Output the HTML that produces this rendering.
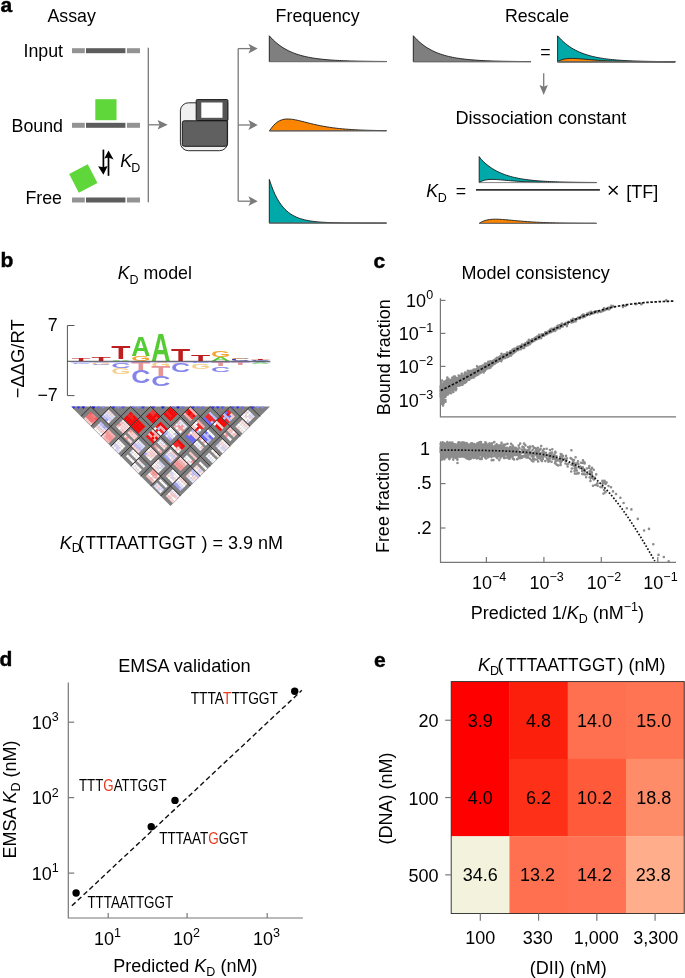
<!DOCTYPE html>
<html><head><meta charset="utf-8"><style>
html,body{margin:0;padding:0;background:#fff;width:685px;height:978px;overflow:hidden;}
svg{display:block;will-change:transform;}
text{font-family:"Liberation Sans",sans-serif;}
</style></head><body>
<svg width="685" height="978" viewBox="0 0 685 978">
<rect width="685" height="978" fill="#fff"/>
<text x="0.6" y="11.8" font-size="21" font-weight="bold" stroke="#000" stroke-width="0.45">a</text>
<text x="47.4" y="21.6" font-size="17.8" text-anchor="start" >Assay</text>
<text x="63" y="57.3" font-size="17.8" text-anchor="end" >Input</text>
<text x="63" y="132" font-size="17.8" text-anchor="end" >Bound</text>
<text x="62" y="204" font-size="17.8" text-anchor="end" >Free</text>
<rect x="72" y="48.2" width="12.8" height="5" fill="#939393"/>
<rect x="86" y="48.2" width="39.4" height="5" fill="#5c5c5c"/>
<rect x="126.9" y="48.2" width="13.1" height="5" fill="#939393"/>
<rect x="72" y="122.8" width="12.8" height="5" fill="#939393"/>
<rect x="86" y="122.8" width="39.4" height="5" fill="#5c5c5c"/>
<rect x="126.9" y="122.8" width="13.1" height="5" fill="#939393"/>
<rect x="72" y="197.5" width="12.8" height="5" fill="#939393"/>
<rect x="86" y="197.5" width="39.4" height="5" fill="#5c5c5c"/>
<rect x="126.9" y="197.5" width="13.1" height="5" fill="#939393"/>
<rect x="95.3" y="99.2" width="21.2" height="21" fill="#5fd63a"/>
<rect x="-10.5" y="-10.5" width="21" height="21" fill="#5fd63a" transform="translate(83.3,178.5) rotate(-27.5)"/>
<line x1="103.4" y1="149.6" x2="103.4" y2="168" stroke="#000" stroke-width="1.7"/>
<polygon points="98.1,166.2 103.4,167.3 107.7,166 103.4,174.8" fill="#000"/>
<line x1="108.5" y1="157" x2="108.5" y2="175.8" stroke="#000" stroke-width="1.7"/>
<polygon points="104.3,158.5 108.5,157.6 113.6,159.6 108.5,150.4" fill="#000"/>
<text x="120.3" y="166.7" font-size="17.8" font-style="italic">K</text>
<text x="131.2" y="171.8" font-size="12.5">D</text>
<line x1="148.3" y1="47.8" x2="148.3" y2="202.3" stroke="#7a7a7a" stroke-width="1.3"/>
<line x1="148.3" y1="124.8" x2="160" y2="124.8" stroke="#7a7a7a" stroke-width="1.3"/>
<polygon points="157.6,120 167.7,124.8 157.6,129.6 159.6,124.8" fill="#7a7a7a"/>
<path d="M188.5,102.8 H227.6 V142.7 A8,8 0 0 1 219.6,150.7 H188.4 A8,8 0 0 1 180.4,142.7 V110.8 A8,8 0 0 1 188.4,102.8 Z" fill="#f0f0f0" stroke="#2a2a2a" stroke-width="1"/>
<rect x="182.3" y="120.8" width="45" height="25.5" rx="2" fill="#606060" stroke="#1a1a1a" stroke-width="1"/>
<rect x="196.2" y="99.6" width="31.7" height="20.9" rx="1" fill="#555" stroke="#1a1a1a" stroke-width="1"/>
<rect x="201.3" y="102.5" width="21.2" height="15.3" fill="#fff"/>
<line x1="238.2" y1="48.6" x2="238.2" y2="201.2" stroke="#7a7a7a" stroke-width="1.3"/>
<line x1="238.2" y1="48.6" x2="251" y2="48.6" stroke="#7a7a7a" stroke-width="1.3"/>
<polygon points="248.4,43.7 257.7,48.6 248.4,53.5 250.6,48.6" fill="#7a7a7a"/>
<line x1="238.2" y1="125" x2="251" y2="125" stroke="#7a7a7a" stroke-width="1.3"/>
<polygon points="248.4,120.1 257.7,125 248.4,129.9 250.6,125" fill="#7a7a7a"/>
<line x1="238.2" y1="201.2" x2="251" y2="201.2" stroke="#7a7a7a" stroke-width="1.3"/>
<polygon points="248.4,196.29999999999998 257.7,201.2 248.4,206.1 250.6,201.2" fill="#7a7a7a"/>
<text x="275.6" y="22.2" font-size="17.8" text-anchor="start" >Frequency</text>
<path d="M269.3,61.6 L269.3,35.8 L271.25,37.98 L273.21,39.98 L275.16,41.81 L277.11,43.48 L279.07,45.01 L281.02,46.41 L282.97,47.70 L284.93,48.87 L286.88,49.95 L288.83,50.93 L290.79,51.84 L292.74,52.66 L294.69,53.42 L296.65,54.11 L298.60,54.74 L300.55,55.32 L302.51,55.85 L304.46,56.34 L306.41,56.78 L308.37,57.19 L310.32,57.56 L312.27,57.90 L314.23,58.22 L316.18,58.50 L318.13,58.77 L320.09,59.00 L322.04,59.22 L323.99,59.42 L325.95,59.61 L327.90,59.78 L329.85,59.93 L331.81,60.07 L333.76,60.20 L335.71,60.32 L337.67,60.43 L339.62,60.53 L341.57,60.62 L343.53,60.70 L345.48,60.78 L347.43,60.85 L349.39,60.91 L351.34,60.97 L353.29,61.02 L355.25,61.07 L357.20,61.12 L359.15,61.16 L361.11,61.19 L363.06,61.23 L365.01,61.26 L366.97,61.29 L368.92,61.31 L370.87,61.34 L372.83,61.36 L374.78,61.38 L376.73,61.40 L378.69,61.42 L380.64,61.43 L382.59,61.45 L384.55,61.46 L386.50,61.47 L386.5,61.6 Z" fill="#7f7f7f" stroke="#1a1a1a" stroke-width="0.9"/>
<line x1="269.3" y1="61.6" x2="386.5" y2="61.6" stroke="#777" stroke-width="1"/>
<path d="M269.40,130.90 L270.86,128.88 L272.33,126.92 L273.79,125.21 L275.25,123.75 L276.72,122.52 L278.18,121.52 L279.65,120.72 L281.11,120.10 L282.57,119.64 L284.04,119.31 L285.50,119.11 L286.96,119.01 L288.43,119.01 L289.89,119.08 L291.36,119.22 L292.82,119.41 L294.28,119.65 L295.75,119.92 L297.21,120.23 L298.67,120.55 L300.14,120.90 L301.60,121.26 L303.07,121.62 L304.53,121.99 L305.99,122.36 L307.46,122.74 L308.92,123.10 L310.38,123.47 L311.85,123.82 L313.31,124.17 L314.78,124.51 L316.24,124.83 L317.70,125.15 L319.17,125.46 L320.63,125.75 L322.09,126.04 L323.56,126.31 L325.02,126.57 L326.49,126.82 L327.95,127.05 L329.41,127.28 L330.88,127.49 L332.34,127.70 L333.81,127.89 L335.27,128.07 L336.73,128.25 L338.20,128.41 L339.66,128.57 L341.12,128.71 L342.59,128.85 L344.05,128.98 L345.51,129.10 L346.98,129.22 L348.44,129.33 L349.91,129.43 L351.37,129.53 L352.83,129.62 L354.30,129.70 L355.76,129.78 L357.23,129.86 L358.69,129.93 L360.15,129.99 L361.62,130.05 L363.08,130.11 L364.54,130.16 L366.01,130.22 L367.47,130.26 L368.94,130.31 L370.40,130.35 L371.86,130.39 L373.33,130.42 L374.79,130.45 L376.25,130.49 L377.72,130.51 L379.18,130.54 L380.64,130.57 L382.11,130.59 L383.57,130.61 L385.04,130.63 L386.50,130.65 Z" fill="#fb8500" stroke="#1a1a1a" stroke-width="0.9"/>
<line x1="269.4" y1="130.9" x2="386.5" y2="130.9" stroke="#777" stroke-width="1"/>
<path d="M269.3,223.1 L269.3,179.4 L271.25,185.24 L273.21,190.29 L275.16,194.67 L277.11,198.47 L279.07,201.76 L281.02,204.61 L282.97,207.08 L284.93,209.22 L286.88,211.07 L288.83,212.68 L290.79,214.07 L292.74,215.27 L294.69,216.32 L296.65,217.23 L298.60,218.01 L300.55,218.69 L302.51,219.28 L304.46,219.79 L306.41,220.23 L308.37,220.61 L310.32,220.95 L312.27,221.23 L314.23,221.48 L316.18,221.70 L318.13,221.89 L320.09,222.05 L322.04,222.19 L323.99,222.31 L325.95,222.42 L327.90,222.51 L329.85,222.59 L331.81,222.65 L333.76,222.71 L335.71,222.77 L337.67,222.81 L339.62,222.85 L341.57,222.88 L343.53,222.91 L345.48,222.94 L347.43,222.96 L349.39,222.98 L351.34,222.99 L353.29,223.01 L355.25,223.02 L357.20,223.03 L359.15,223.04 L361.11,223.05 L363.06,223.06 L365.01,223.06 L366.97,223.07 L368.92,223.07 L370.87,223.07 L372.83,223.08 L374.78,223.08 L376.73,223.08 L378.69,223.09 L380.64,223.09 L382.59,223.09 L384.55,223.09 L386.50,223.09 L386.5,223.1 Z" fill="#00a9a9" stroke="#1a1a1a" stroke-width="0.9"/>
<line x1="269.3" y1="223.1" x2="386.5" y2="223.1" stroke="#777" stroke-width="1"/>
<text x="504.9" y="22.2" font-size="17.8" text-anchor="start" >Rescale</text>
<path d="M413.3,61.7 L413.3,35.7 L415.26,37.90 L417.22,39.91 L419.18,41.75 L421.13,43.44 L423.09,44.98 L425.05,46.40 L427.01,47.69 L428.97,48.87 L430.93,49.96 L432.88,50.95 L434.84,51.86 L436.80,52.69 L438.76,53.45 L440.72,54.15 L442.68,54.79 L444.63,55.37 L446.59,55.91 L448.55,56.40 L450.51,56.85 L452.47,57.26 L454.43,57.63 L456.38,57.98 L458.34,58.29 L460.30,58.58 L462.26,58.84 L464.22,59.08 L466.18,59.31 L468.13,59.51 L470.09,59.69 L472.05,59.86 L474.01,60.02 L475.97,60.16 L477.92,60.29 L479.88,60.41 L481.84,60.52 L483.80,60.62 L485.76,60.71 L487.72,60.79 L489.67,60.87 L491.63,60.94 L493.59,61.00 L495.55,61.06 L497.51,61.12 L499.47,61.17 L501.42,61.21 L503.38,61.25 L505.34,61.29 L507.30,61.33 L509.26,61.36 L511.22,61.39 L513.17,61.41 L515.13,61.44 L517.09,61.46 L519.05,61.48 L521.01,61.50 L522.97,61.52 L524.92,61.53 L526.88,61.55 L528.84,61.56 L530.80,61.57 L530.8,61.7 Z" fill="#7f7f7f" stroke="#1a1a1a" stroke-width="0.9"/>
<line x1="413.3" y1="61.7" x2="530.8" y2="61.7" stroke="#777" stroke-width="1"/>
<text x="540.2" y="57.5" font-size="17.8">=</text>
<path d="M557.6,61.8 L557.6,35.8 L559.56,38.00 L561.52,40.01 L563.48,41.85 L565.44,43.54 L567.40,45.08 L569.36,46.50 L571.32,47.79 L573.28,48.97 L575.24,50.06 L577.20,51.05 L579.16,51.96 L581.12,52.79 L583.08,53.55 L585.04,54.25 L587.00,54.89 L588.96,55.47 L590.92,56.01 L592.88,56.50 L594.84,56.95 L596.80,57.36 L598.76,57.73 L600.72,58.08 L602.68,58.39 L604.64,58.68 L606.60,58.94 L608.56,59.18 L610.52,59.41 L612.48,59.61 L614.44,59.79 L616.40,59.96 L618.36,60.12 L620.32,60.26 L622.28,60.39 L624.24,60.51 L626.20,60.62 L628.16,60.72 L630.12,60.81 L632.08,60.89 L634.04,60.97 L636.00,61.04 L637.96,61.10 L639.92,61.16 L641.88,61.22 L643.84,61.27 L645.80,61.31 L647.76,61.35 L649.72,61.39 L651.68,61.43 L653.64,61.46 L655.60,61.49 L657.56,61.51 L659.52,61.54 L661.48,61.56 L663.44,61.58 L665.40,61.60 L667.36,61.62 L669.32,61.63 L671.28,61.65 L673.24,61.66 L675.20,61.67 L675.2,61.8 Z" fill="#00a9a9" stroke="#1a1a1a" stroke-width="0.9"/>
<line x1="557.6" y1="61.8" x2="675.2" y2="61.8" stroke="#777" stroke-width="1"/>
<path d="M557.60,61.80 L559.07,60.93 L560.54,60.24 L562.01,59.69 L563.48,59.26 L564.95,58.94 L566.42,58.71 L567.89,58.55 L569.36,58.45 L570.83,58.41 L572.30,58.40 L573.77,58.43 L575.24,58.49 L576.71,58.57 L578.18,58.66 L579.65,58.77 L581.12,58.89 L582.59,59.01 L584.06,59.14 L585.53,59.27 L587.00,59.40 L588.47,59.53 L589.94,59.66 L591.41,59.78 L592.88,59.90 L594.35,60.02 L595.82,60.13 L597.29,60.24 L598.76,60.34 L600.23,60.44 L601.70,60.53 L603.17,60.62 L604.64,60.70 L606.11,60.78 L607.58,60.85 L609.05,60.92 L610.52,60.98 L611.99,61.05 L613.46,61.10 L614.93,61.15 L616.40,61.20 L617.87,61.25 L619.34,61.29 L620.81,61.33 L622.28,61.37 L623.75,61.40 L625.22,61.43 L626.69,61.46 L628.16,61.49 L629.63,61.51 L631.10,61.54 L632.57,61.56 L634.04,61.58 L635.51,61.60 L636.98,61.61 L638.45,61.63 L639.92,61.64 L641.39,61.66 L642.86,61.67 L644.33,61.68 L645.80,61.69 L647.27,61.70 L648.74,61.71 L650.21,61.71 L651.68,61.72 L653.15,61.73 L654.62,61.73 L656.09,61.74 L657.56,61.75 L659.03,61.75 L660.50,61.75 L661.97,61.76 L663.44,61.76 L664.91,61.76 L666.38,61.77 L667.85,61.77 L669.32,61.77 L670.79,61.78 L672.26,61.78 L673.73,61.78 L675.20,61.78 Z" fill="#fb8500" stroke="#1a1a1a" stroke-width="0.9"/>
<line x1="557.6" y1="61.8" x2="675.2" y2="61.8" stroke="#777" stroke-width="1"/>
<line x1="543.7" y1="73.3" x2="543.7" y2="88" stroke="#7a7a7a" stroke-width="1.3"/>
<polygon points="539.5,85 543.7,86.8 547.9,85 543.7,95" fill="#7a7a7a"/>
<text x="455.4" y="124.1" font-size="18.1" text-anchor="start" >Dissociation constant</text>
<text x="426.3" y="196.7" font-size="17.8" font-style="italic">K</text>
<text x="437.8" y="202.1" font-size="12.5">D</text>
<text x="455.8" y="196.7" font-size="17.8">=</text>
<path d="M479.20,182.60 L479.20,156.60 L481.15,159.35 L483.11,161.31 L485.06,163.11 L487.01,164.76 L488.97,166.27 L490.92,167.65 L492.87,168.91 L494.83,170.07 L496.78,171.13 L498.73,172.10 L500.69,172.99 L502.64,173.80 L504.59,174.54 L506.55,175.23 L508.50,175.85 L510.45,176.42 L512.41,176.94 L514.36,177.42 L516.31,177.86 L518.27,178.26 L520.22,178.63 L522.17,178.96 L524.13,179.27 L526.08,179.55 L528.03,179.81 L529.99,180.04 L531.94,180.26 L533.89,180.46 L535.85,180.64 L537.80,180.81 L539.75,180.96 L541.71,181.10 L543.66,181.22 L545.61,181.34 L547.57,181.45 L549.52,181.54 L551.47,181.63 L553.43,181.71 L555.38,181.79 L557.33,181.86 L559.29,181.92 L561.24,181.98 L563.19,182.03 L565.15,182.08 L567.10,182.12 L569.05,182.16 L571.01,182.20 L572.96,182.23 L574.91,182.26 L576.87,182.29 L578.82,182.32 L580.77,182.34 L582.73,182.36 L584.68,182.38 L586.63,182.40 L588.59,182.42 L590.54,182.43 L592.49,182.45 L594.45,182.46 L596.40,182.47 L596.40,182.59 L594.45,182.59 L592.49,182.59 L590.54,182.59 L588.59,182.58 L586.63,182.58 L584.68,182.58 L582.73,182.58 L580.77,182.57 L578.82,182.57 L576.87,182.57 L574.91,182.56 L572.96,182.56 L571.01,182.55 L569.05,182.54 L567.10,182.54 L565.15,182.53 L563.19,182.52 L561.24,182.50 L559.29,182.49 L557.33,182.48 L555.38,182.46 L553.43,182.44 L551.47,182.42 L549.52,182.40 L547.57,182.37 L545.61,182.34 L543.66,182.31 L541.71,182.27 L539.75,182.23 L537.80,182.18 L535.85,182.13 L533.89,182.07 L531.94,182.00 L529.99,181.93 L528.03,181.85 L526.08,181.77 L524.13,181.67 L522.17,181.57 L520.22,181.45 L518.27,181.33 L516.31,181.19 L514.36,181.05 L512.41,180.90 L510.45,180.73 L508.50,180.56 L506.55,180.39 L504.59,180.21 L502.64,180.03 L500.69,179.86 L498.73,179.70 L496.78,179.57 L494.83,179.46 L492.87,179.41 L490.92,179.41 L488.97,179.51 L487.01,179.72 L485.06,180.09 L483.11,180.65 L481.15,181.47 L479.20,182.60 Z" fill="#00a9a9" stroke="#1a1a1a" stroke-width="0.9"/>
<line x1="479.2" y1="182.6" x2="596.4" y2="182.6" stroke="#777" stroke-width="0.9"/>
<line x1="476" y1="189.8" x2="599.9" y2="189.8" stroke="#333" stroke-width="1.8"/>
<path d="M479.20,223.40 L480.66,222.47 L482.13,221.69 L483.59,221.06 L485.06,220.55 L486.52,220.14 L487.99,219.82 L489.45,219.58 L490.92,219.41 L492.38,219.29 L493.85,219.23 L495.31,219.20 L496.78,219.21 L498.25,219.25 L499.71,219.31 L501.18,219.39 L502.64,219.49 L504.10,219.60 L505.57,219.72 L507.03,219.85 L508.50,219.98 L509.96,220.12 L511.43,220.25 L512.89,220.39 L514.36,220.53 L515.83,220.67 L517.29,220.80 L518.75,220.93 L520.22,221.06 L521.68,221.18 L523.15,221.30 L524.62,221.42 L526.08,221.53 L527.54,221.63 L529.01,221.74 L530.48,221.83 L531.94,221.93 L533.40,222.01 L534.87,222.10 L536.34,222.18 L537.80,222.25 L539.26,222.33 L540.73,222.39 L542.19,222.46 L543.66,222.52 L545.12,222.57 L546.59,222.63 L548.05,222.68 L549.52,222.73 L550.99,222.77 L552.45,222.81 L553.91,222.85 L555.38,222.89 L556.85,222.92 L558.31,222.96 L559.77,222.99 L561.24,223.02 L562.70,223.04 L564.17,223.07 L565.63,223.09 L567.10,223.11 L568.56,223.13 L570.03,223.15 L571.50,223.17 L572.96,223.18 L574.42,223.20 L575.89,223.21 L577.36,223.23 L578.82,223.24 L580.28,223.25 L581.75,223.26 L583.21,223.27 L584.68,223.28 L586.14,223.29 L587.61,223.30 L589.07,223.31 L590.54,223.31 L592.00,223.32 L593.47,223.32 L594.93,223.33 L596.40,223.34 Z" fill="#fb8500" stroke="#1a1a1a" stroke-width="0.9"/>
<line x1="479.2" y1="223.4" x2="596.4" y2="223.4" stroke="#777" stroke-width="1"/>
<path d="M608.8,186 L617.6,194.6 M617.6,186 L608.8,194.6" stroke="#000" stroke-width="1.45" fill="none"/>
<text x="626.3" y="197.6" font-size="18" text-anchor="start" >[TF]</text>
<text x="0.4" y="267.2" font-size="21" font-weight="bold" stroke="#000" stroke-width="0.45">b</text>
<text x="117.7" y="278.8" font-size="17.8"><tspan font-style="italic">K</tspan><tspan font-size="12.5" dy="5.3">D</tspan><tspan dy="-5.3"> model</tspan></text>
<text transform="translate(24,358.8) rotate(-90)" font-size="18.4" text-anchor="middle">−ΔΔG/RT</text>
<text x="57.7" y="330.7" font-size="17.8" text-anchor="end" >7</text>
<text x="57.7" y="401" font-size="17.8" text-anchor="end" >−7</text>
<path d="M74.5,325.5 H67.4 V395.6 H74.5" fill="none" stroke="#555" stroke-width="1"/>
<text x="0" y="0" font-size="100" font-weight="bold" fill="#5a5ad0" textLength="19.20" lengthAdjust="spacingAndGlyphs" transform="translate(71.50,360.80) scale(1,0.0044)" style="font-size:100px">C</text>
<text x="0" y="0" font-size="100" font-weight="bold" fill="#bf1e1e" textLength="19.20" lengthAdjust="spacingAndGlyphs" transform="translate(71.50,360.50) scale(1,0.0363)" style="font-size:100px">T</text>
<text x="0" y="0" font-size="100" font-weight="bold" fill="#8484ea" textLength="19.20" lengthAdjust="spacingAndGlyphs" transform="translate(71.50,363.60) scale(1,0.0218)" style="font-size:100px">C</text>
<text x="0" y="0" font-size="100" font-weight="bold" fill="#bf1e1e" textLength="19.20" lengthAdjust="spacingAndGlyphs" transform="translate(91.42,360.80) scale(1,0.0480)" style="font-size:100px">T</text>
<text x="0" y="0" font-size="100" font-weight="bold" fill="#f8d08e" textLength="19.20" lengthAdjust="spacingAndGlyphs" transform="translate(91.42,364.60) scale(1,0.0363)" style="font-size:100px">G</text>
<text x="0" y="0" font-size="100" font-weight="bold" fill="#8484ea" textLength="19.20" lengthAdjust="spacingAndGlyphs" transform="translate(91.42,365.40) scale(1,0.0116)" style="font-size:100px">C</text>
<text x="0" y="0" font-size="100" font-weight="bold" fill="#55cc33" textLength="19.20" lengthAdjust="spacingAndGlyphs" transform="translate(111.34,360.80) scale(1,0.0233)" style="font-size:100px">A</text>
<text x="0" y="0" font-size="100" font-weight="bold" fill="#bf1e1e" textLength="19.20" lengthAdjust="spacingAndGlyphs" transform="translate(111.34,359.20) scale(1,0.1860)" style="font-size:100px">T</text>
<text x="0" y="0" font-size="100" font-weight="bold" fill="#8484ea" textLength="19.20" lengthAdjust="spacingAndGlyphs" transform="translate(111.34,367.50) scale(1,0.0785)" style="font-size:100px">C</text>
<text x="0" y="0" font-size="100" font-weight="bold" fill="#f8d08e" textLength="19.20" lengthAdjust="spacingAndGlyphs" transform="translate(111.34,373.90) scale(1,0.0930)" style="font-size:100px">G</text>
<text x="0" y="0" font-size="100" font-weight="bold" fill="#f2a531" textLength="19.20" lengthAdjust="spacingAndGlyphs" transform="translate(131.26,360.80) scale(1,0.0654)" style="font-size:100px">G</text>
<text x="0" y="0" font-size="100" font-weight="bold" fill="#55cc33" textLength="19.20" lengthAdjust="spacingAndGlyphs" transform="translate(131.26,356.30) scale(1,0.2747)" style="font-size:100px">A</text>
<text x="0" y="0" font-size="100" font-weight="bold" fill="#e59595" textLength="19.20" lengthAdjust="spacingAndGlyphs" transform="translate(131.26,370.90) scale(1,0.1279)" style="font-size:100px">T</text>
<text x="0" y="0" font-size="100" font-weight="bold" fill="#8484ea" textLength="19.20" lengthAdjust="spacingAndGlyphs" transform="translate(131.26,382.90) scale(1,0.1744)" style="font-size:100px">C</text>
<text x="0" y="0" font-size="100" font-weight="bold" fill="#55cc33" textLength="19.20" lengthAdjust="spacingAndGlyphs" transform="translate(151.18,360.80) scale(1,0.3852)" style="font-size:100px">A</text>
<text x="0" y="0" font-size="100" font-weight="bold" fill="#f8d08e" textLength="19.20" lengthAdjust="spacingAndGlyphs" transform="translate(151.18,366.70) scale(1,0.0669)" style="font-size:100px">G</text>
<text x="0" y="0" font-size="100" font-weight="bold" fill="#e59595" textLength="19.20" lengthAdjust="spacingAndGlyphs" transform="translate(151.18,376.30) scale(1,0.1395)" style="font-size:100px">T</text>
<text x="0" y="0" font-size="100" font-weight="bold" fill="#8484ea" textLength="19.20" lengthAdjust="spacingAndGlyphs" transform="translate(151.18,385.90) scale(1,0.1395)" style="font-size:100px">C</text>
<text x="0" y="0" font-size="100" font-weight="bold" fill="#bf1e1e" textLength="19.20" lengthAdjust="spacingAndGlyphs" transform="translate(171.10,360.80) scale(1,0.1642)" style="font-size:100px">T</text>
<text x="0" y="0" font-size="100" font-weight="bold" fill="#f8d08e" textLength="19.20" lengthAdjust="spacingAndGlyphs" transform="translate(171.10,363.60) scale(1,0.0218)" style="font-size:100px">G</text>
<text x="0" y="0" font-size="100" font-weight="bold" fill="#8484ea" textLength="19.20" lengthAdjust="spacingAndGlyphs" transform="translate(171.10,372.40) scale(1,0.1279)" style="font-size:100px">C</text>
<text x="0" y="0" font-size="100" font-weight="bold" fill="#bf1e1e" textLength="19.20" lengthAdjust="spacingAndGlyphs" transform="translate(191.02,360.80) scale(1,0.0988)" style="font-size:100px">T</text>
<text x="0" y="0" font-size="100" font-weight="bold" fill="#8484ea" textLength="19.20" lengthAdjust="spacingAndGlyphs" transform="translate(191.02,363.30) scale(1,0.0174)" style="font-size:100px">C</text>
<text x="0" y="0" font-size="100" font-weight="bold" fill="#9be08a" textLength="19.20" lengthAdjust="spacingAndGlyphs" transform="translate(191.02,364.50) scale(1,0.0174)" style="font-size:100px">A</text>
<text x="0" y="0" font-size="100" font-weight="bold" fill="#f8d08e" textLength="19.20" lengthAdjust="spacingAndGlyphs" transform="translate(191.02,369.30) scale(1,0.0698)" style="font-size:100px">G</text>
<text x="0" y="0" font-size="100" font-weight="bold" fill="#55cc33" textLength="19.20" lengthAdjust="spacingAndGlyphs" transform="translate(210.94,360.80) scale(1,0.0494)" style="font-size:100px">A</text>
<text x="0" y="0" font-size="100" font-weight="bold" fill="#f2a531" textLength="19.20" lengthAdjust="spacingAndGlyphs" transform="translate(210.94,357.40) scale(1,0.0959)" style="font-size:100px">G</text>
<text x="0" y="0" font-size="100" font-weight="bold" fill="#e59595" textLength="19.20" lengthAdjust="spacingAndGlyphs" transform="translate(210.94,365.90) scale(1,0.0552)" style="font-size:100px">T</text>
<text x="0" y="0" font-size="100" font-weight="bold" fill="#8484ea" textLength="19.20" lengthAdjust="spacingAndGlyphs" transform="translate(210.94,371.50) scale(1,0.0814)" style="font-size:100px">C</text>
<text x="0" y="0" font-size="100" font-weight="bold" fill="#3a3aa8" textLength="19.20" lengthAdjust="spacingAndGlyphs" transform="translate(230.86,360.80) scale(1,0.0262)" style="font-size:100px">C</text>
<text x="0" y="0" font-size="100" font-weight="bold" fill="#f2a531" textLength="19.20" lengthAdjust="spacingAndGlyphs" transform="translate(230.86,359.00) scale(1,0.0174)" style="font-size:100px">G</text>
<text x="0" y="0" font-size="100" font-weight="bold" fill="#e59595" textLength="19.20" lengthAdjust="spacingAndGlyphs" transform="translate(230.86,364.50) scale(1,0.0349)" style="font-size:100px">T</text>
<text x="0" y="0" font-size="100" font-weight="bold" fill="#3a3aa8" textLength="19.20" lengthAdjust="spacingAndGlyphs" transform="translate(250.78,360.80) scale(1,0.0131)" style="font-size:100px">C</text>
<text x="0" y="0" font-size="100" font-weight="bold" fill="#bf1e1e" textLength="19.20" lengthAdjust="spacingAndGlyphs" transform="translate(250.78,359.90) scale(1,0.0233)" style="font-size:100px">T</text>
<text x="0" y="0" font-size="100" font-weight="bold" fill="#9be08a" textLength="19.20" lengthAdjust="spacingAndGlyphs" transform="translate(250.78,363.90) scale(1,0.0262)" style="font-size:100px">A</text>
<line x1="67.4" y1="361.3" x2="270.3" y2="361.3" stroke="#333" stroke-width="0.9"/>
<line x1="71" y1="362.2" x2="270.3" y2="362.2" stroke="#6a6ad8" stroke-width="0.7" opacity="0.7"/>
<polygon points="71.0,406.5 270.0,406.5 170.5,506.0" fill="#808080"/>
<g transform="translate(90.90,418.75) rotate(45)">
<rect x="-4.96" y="-4.96" width="2.53" height="2.53" fill="#ff5a5a"/>
<rect x="-4.96" y="-2.48" width="2.53" height="2.53" fill="#ff7070"/>
<rect x="-4.96" y="0.00" width="2.53" height="2.53" fill="#ff7070"/>
<rect x="-4.96" y="2.48" width="2.53" height="2.53" fill="#ffd0d0"/>
<rect x="-2.48" y="-4.96" width="2.53" height="2.53" fill="#ff8080"/>
<rect x="-2.48" y="-2.48" width="2.53" height="2.53" fill="#ff7070"/>
<rect x="-2.48" y="0.00" width="2.53" height="2.53" fill="#ff7070"/>
<rect x="-2.48" y="2.48" width="2.53" height="2.53" fill="#ffd0d0"/>
<rect x="0.00" y="-4.96" width="2.53" height="2.53" fill="#ff8080"/>
<rect x="0.00" y="-2.48" width="2.53" height="2.53" fill="#ff7070"/>
<rect x="0.00" y="0.00" width="2.53" height="2.53" fill="#ff7070"/>
<rect x="0.00" y="2.48" width="2.53" height="2.53" fill="#ffd0d0"/>
<rect x="2.48" y="-4.96" width="2.53" height="2.53" fill="#ff5a5a"/>
<rect x="2.48" y="-2.48" width="2.53" height="2.53" fill="#ff7070"/>
<rect x="2.48" y="0.00" width="2.53" height="2.53" fill="#ff8080"/>
<rect x="2.48" y="2.48" width="2.53" height="2.53" fill="#ffd0d0"/>
</g>
<g transform="translate(108.50,416.45) rotate(45)">
<rect x="-4.96" y="-4.96" width="2.53" height="2.53" fill="#ffe0e0"/>
<rect x="-4.96" y="-2.48" width="2.53" height="2.53" fill="#e6e6ff"/>
<rect x="-4.96" y="0.00" width="2.53" height="2.53" fill="#e6e6ff"/>
<rect x="-4.96" y="2.48" width="2.53" height="2.53" fill="#c4c4ff"/>
<rect x="-2.48" y="-4.96" width="2.53" height="2.53" fill="#ffe0e0"/>
<rect x="-2.48" y="-2.48" width="2.53" height="2.53" fill="#e6e6ff"/>
<rect x="-2.48" y="0.00" width="2.53" height="2.53" fill="#d8d8ff"/>
<rect x="-2.48" y="2.48" width="2.53" height="2.53" fill="#c4c4ff"/>
<rect x="0.00" y="-4.96" width="2.53" height="2.53" fill="#ffe0e0"/>
<rect x="0.00" y="-2.48" width="2.53" height="2.53" fill="#e6e6ff"/>
<rect x="0.00" y="0.00" width="2.53" height="2.53" fill="#d8d8ff"/>
<rect x="0.00" y="2.48" width="2.53" height="2.53" fill="#a8a8ff"/>
<rect x="2.48" y="-4.96" width="2.53" height="2.53" fill="#e6e6ff"/>
<rect x="2.48" y="-2.48" width="2.53" height="2.53" fill="#e6e6ff"/>
<rect x="2.48" y="0.00" width="2.53" height="2.53" fill="#d8d8ff"/>
<rect x="2.48" y="2.48" width="2.53" height="2.53" fill="#ffffff"/>
</g>
<g transform="translate(130.70,418.75) rotate(45)">
<rect x="-4.96" y="-4.96" width="2.53" height="2.53" fill="#ff0000"/>
<rect x="-4.96" y="-2.48" width="2.53" height="2.53" fill="#ff1a1a"/>
<rect x="-4.96" y="0.00" width="2.53" height="2.53" fill="#ff0000"/>
<rect x="-4.96" y="2.48" width="2.53" height="2.53" fill="#ff0000"/>
<rect x="-2.48" y="-4.96" width="2.53" height="2.53" fill="#ff1a1a"/>
<rect x="-2.48" y="-2.48" width="2.53" height="2.53" fill="#ff1a1a"/>
<rect x="-2.48" y="0.00" width="2.53" height="2.53" fill="#ff0000"/>
<rect x="-2.48" y="2.48" width="2.53" height="2.53" fill="#ff0000"/>
<rect x="0.00" y="-4.96" width="2.53" height="2.53" fill="#ff0000"/>
<rect x="0.00" y="-2.48" width="2.53" height="2.53" fill="#ff1a1a"/>
<rect x="0.00" y="0.00" width="2.53" height="2.53" fill="#ff0000"/>
<rect x="0.00" y="2.48" width="2.53" height="2.53" fill="#ff0000"/>
<rect x="2.48" y="-4.96" width="2.53" height="2.53" fill="#ff0000"/>
<rect x="2.48" y="-2.48" width="2.53" height="2.53" fill="#ff0000"/>
<rect x="2.48" y="0.00" width="2.53" height="2.53" fill="#ff0000"/>
<rect x="2.48" y="2.48" width="2.53" height="2.53" fill="#ff0000"/>
</g>
<g transform="translate(152.90,416.45) rotate(45)">
<rect x="-4.96" y="-4.96" width="2.53" height="2.53" fill="#ff3030"/>
<rect x="-4.96" y="-2.48" width="2.53" height="2.53" fill="#ff3030"/>
<rect x="-4.96" y="0.00" width="2.53" height="2.53" fill="#ff0000"/>
<rect x="-4.96" y="2.48" width="2.53" height="2.53" fill="#ff0000"/>
<rect x="-2.48" y="-4.96" width="2.53" height="2.53" fill="#ff3030"/>
<rect x="-2.48" y="-2.48" width="2.53" height="2.53" fill="#ff3030"/>
<rect x="-2.48" y="0.00" width="2.53" height="2.53" fill="#ff0000"/>
<rect x="-2.48" y="2.48" width="2.53" height="2.53" fill="#ff0000"/>
<rect x="0.00" y="-4.96" width="2.53" height="2.53" fill="#ff0000"/>
<rect x="0.00" y="-2.48" width="2.53" height="2.53" fill="#ff0000"/>
<rect x="0.00" y="0.00" width="2.53" height="2.53" fill="#ff0000"/>
<rect x="0.00" y="2.48" width="2.53" height="2.53" fill="#ff0000"/>
<rect x="2.48" y="-4.96" width="2.53" height="2.53" fill="#ff0000"/>
<rect x="2.48" y="-2.48" width="2.53" height="2.53" fill="#ff3030"/>
<rect x="2.48" y="0.00" width="2.53" height="2.53" fill="#ff0000"/>
<rect x="2.48" y="2.48" width="2.53" height="2.53" fill="#ff0000"/>
</g>
<g transform="translate(170.50,414.15) rotate(45)">
<rect x="-4.96" y="-4.96" width="2.53" height="2.53" fill="#ff0000"/>
<rect x="-4.96" y="-2.48" width="2.53" height="2.53" fill="#ff0000"/>
<rect x="-4.96" y="0.00" width="2.53" height="2.53" fill="#ff1a1a"/>
<rect x="-4.96" y="2.48" width="2.53" height="2.53" fill="#ff0000"/>
<rect x="-2.48" y="-4.96" width="2.53" height="2.53" fill="#ff0000"/>
<rect x="-2.48" y="-2.48" width="2.53" height="2.53" fill="#ff0000"/>
<rect x="-2.48" y="0.00" width="2.53" height="2.53" fill="#ff1a1a"/>
<rect x="-2.48" y="2.48" width="2.53" height="2.53" fill="#ff0000"/>
<rect x="0.00" y="-4.96" width="2.53" height="2.53" fill="#ff0000"/>
<rect x="0.00" y="-2.48" width="2.53" height="2.53" fill="#ff0000"/>
<rect x="0.00" y="0.00" width="2.53" height="2.53" fill="#ff1a1a"/>
<rect x="0.00" y="2.48" width="2.53" height="2.53" fill="#ff0000"/>
<rect x="2.48" y="-4.96" width="2.53" height="2.53" fill="#ff0000"/>
<rect x="2.48" y="-2.48" width="2.53" height="2.53" fill="#ff0000"/>
<rect x="2.48" y="0.00" width="2.53" height="2.53" fill="#ff0000"/>
<rect x="2.48" y="2.48" width="2.53" height="2.53" fill="#ff0000"/>
</g>
<g transform="translate(190.40,414.15) rotate(45)">
<rect x="-4.96" y="-4.96" width="2.53" height="2.53" fill="#ffb0b0"/>
<rect x="-4.96" y="-2.48" width="2.53" height="2.53" fill="#ff0000"/>
<rect x="-4.96" y="0.00" width="2.53" height="2.53" fill="#ff2020"/>
<rect x="-4.96" y="2.48" width="2.53" height="2.53" fill="#ffb0b0"/>
<rect x="-2.48" y="-4.96" width="2.53" height="2.53" fill="#ffb0b0"/>
<rect x="-2.48" y="-2.48" width="2.53" height="2.53" fill="#ff0000"/>
<rect x="-2.48" y="0.00" width="2.53" height="2.53" fill="#ff0000"/>
<rect x="-2.48" y="2.48" width="2.53" height="2.53" fill="#ffb0b0"/>
<rect x="0.00" y="-4.96" width="2.53" height="2.53" fill="#ffb0b0"/>
<rect x="0.00" y="-2.48" width="2.53" height="2.53" fill="#ff2020"/>
<rect x="0.00" y="0.00" width="2.53" height="2.53" fill="#ff2020"/>
<rect x="0.00" y="2.48" width="2.53" height="2.53" fill="#ffb0b0"/>
<rect x="2.48" y="-4.96" width="2.53" height="2.53" fill="#ffb0b0"/>
<rect x="2.48" y="-2.48" width="2.53" height="2.53" fill="#ff0000"/>
<rect x="2.48" y="0.00" width="2.53" height="2.53" fill="#ff2020"/>
<rect x="2.48" y="2.48" width="2.53" height="2.53" fill="#ffb0b0"/>
</g>
<g transform="translate(210.30,418.75) rotate(45)">
<rect x="-4.96" y="-4.96" width="2.53" height="2.53" fill="#c0c0ff"/>
<rect x="-4.96" y="-2.48" width="2.53" height="2.53" fill="#ff2020"/>
<rect x="-4.96" y="0.00" width="2.53" height="2.53" fill="#ff2020"/>
<rect x="-4.96" y="2.48" width="2.53" height="2.53" fill="#6a6aff"/>
<rect x="-2.48" y="-4.96" width="2.53" height="2.53" fill="#c0c0ff"/>
<rect x="-2.48" y="-2.48" width="2.53" height="2.53" fill="#ff2020"/>
<rect x="-2.48" y="0.00" width="2.53" height="2.53" fill="#ff2020"/>
<rect x="-2.48" y="2.48" width="2.53" height="2.53" fill="#6a6aff"/>
<rect x="0.00" y="-4.96" width="2.53" height="2.53" fill="#c0c0ff"/>
<rect x="0.00" y="-2.48" width="2.53" height="2.53" fill="#ff2020"/>
<rect x="0.00" y="0.00" width="2.53" height="2.53" fill="#ff2020"/>
<rect x="0.00" y="2.48" width="2.53" height="2.53" fill="#6a6aff"/>
<rect x="2.48" y="-4.96" width="2.53" height="2.53" fill="#c0c0ff"/>
<rect x="2.48" y="-2.48" width="2.53" height="2.53" fill="#ff2020"/>
<rect x="2.48" y="0.00" width="2.53" height="2.53" fill="#c0c0ff"/>
<rect x="2.48" y="2.48" width="2.53" height="2.53" fill="#6a6aff"/>
</g>
<g transform="translate(227.90,416.45) rotate(45)">
<rect x="-4.96" y="-4.96" width="2.53" height="2.53" fill="#ff2020"/>
<rect x="-4.96" y="-2.48" width="2.53" height="2.53" fill="#6a6aff"/>
<rect x="-4.96" y="0.00" width="2.53" height="2.53" fill="#c0c0ff"/>
<rect x="-4.96" y="2.48" width="2.53" height="2.53" fill="#ff2020"/>
<rect x="-2.48" y="-4.96" width="2.53" height="2.53" fill="#ff2020"/>
<rect x="-2.48" y="-2.48" width="2.53" height="2.53" fill="#ff0000"/>
<rect x="-2.48" y="0.00" width="2.53" height="2.53" fill="#c0c0ff"/>
<rect x="-2.48" y="2.48" width="2.53" height="2.53" fill="#c0c0ff"/>
<rect x="0.00" y="-4.96" width="2.53" height="2.53" fill="#ffd0d0"/>
<rect x="0.00" y="-2.48" width="2.53" height="2.53" fill="#6a6aff"/>
<rect x="0.00" y="0.00" width="2.53" height="2.53" fill="#c0c0ff"/>
<rect x="0.00" y="2.48" width="2.53" height="2.53" fill="#ff2020"/>
<rect x="2.48" y="-4.96" width="2.53" height="2.53" fill="#ffd0d0"/>
<rect x="2.48" y="-2.48" width="2.53" height="2.53" fill="#ffd0d0"/>
<rect x="2.48" y="0.00" width="2.53" height="2.53" fill="#c0c0ff"/>
<rect x="2.48" y="2.48" width="2.53" height="2.53" fill="#ff2020"/>
</g>
<g transform="translate(247.80,416.45) rotate(45)">
<rect x="-4.96" y="-4.96" width="2.53" height="2.53" fill="#e6e6ff"/>
<rect x="-4.96" y="-2.48" width="2.53" height="2.53" fill="#ffd6d6"/>
<rect x="-4.96" y="0.00" width="2.53" height="2.53" fill="#ffffff"/>
<rect x="-4.96" y="2.48" width="2.53" height="2.53" fill="#ffffff"/>
<rect x="-2.48" y="-4.96" width="2.53" height="2.53" fill="#ffffff"/>
<rect x="-2.48" y="-2.48" width="2.53" height="2.53" fill="#ffffff"/>
<rect x="-2.48" y="0.00" width="2.53" height="2.53" fill="#ffd6d6"/>
<rect x="-2.48" y="2.48" width="2.53" height="2.53" fill="#ffffff"/>
<rect x="0.00" y="-4.96" width="2.53" height="2.53" fill="#e6e6ff"/>
<rect x="0.00" y="-2.48" width="2.53" height="2.53" fill="#d8d8ff"/>
<rect x="0.00" y="0.00" width="2.53" height="2.53" fill="#ffffff"/>
<rect x="0.00" y="2.48" width="2.53" height="2.53" fill="#ffffff"/>
<rect x="2.48" y="-4.96" width="2.53" height="2.53" fill="#e6e6ff"/>
<rect x="2.48" y="-2.48" width="2.53" height="2.53" fill="#ffd6d6"/>
<rect x="2.48" y="0.00" width="2.53" height="2.53" fill="#ffffff"/>
<rect x="2.48" y="2.48" width="2.53" height="2.53" fill="#d8d8ff"/>
</g>
<g transform="translate(100.85,428.70) rotate(45)">
<rect x="-4.96" y="-4.96" width="2.53" height="2.53" fill="#c4c4ff"/>
<rect x="-4.96" y="-2.48" width="2.53" height="2.53" fill="#e6e6ff"/>
<rect x="-4.96" y="0.00" width="2.53" height="2.53" fill="#ffd6d6"/>
<rect x="-4.96" y="2.48" width="2.53" height="2.53" fill="#ffffff"/>
<rect x="-2.48" y="-4.96" width="2.53" height="2.53" fill="#c4c4ff"/>
<rect x="-2.48" y="-2.48" width="2.53" height="2.53" fill="#e6e6ff"/>
<rect x="-2.48" y="0.00" width="2.53" height="2.53" fill="#ffd6d6"/>
<rect x="-2.48" y="2.48" width="2.53" height="2.53" fill="#ffffff"/>
<rect x="0.00" y="-4.96" width="2.53" height="2.53" fill="#a8a8ff"/>
<rect x="0.00" y="-2.48" width="2.53" height="2.53" fill="#e6e6ff"/>
<rect x="0.00" y="0.00" width="2.53" height="2.53" fill="#ffd6d6"/>
<rect x="0.00" y="2.48" width="2.53" height="2.53" fill="#ffffff"/>
<rect x="2.48" y="-4.96" width="2.53" height="2.53" fill="#c4c4ff"/>
<rect x="2.48" y="-2.48" width="2.53" height="2.53" fill="#ffe0e0"/>
<rect x="2.48" y="0.00" width="2.53" height="2.53" fill="#ffd6d6"/>
<rect x="2.48" y="2.48" width="2.53" height="2.53" fill="#ffffff"/>
</g>
<g transform="translate(123.05,426.40) rotate(45)">
<rect x="-4.96" y="-4.96" width="2.53" height="2.53" fill="#ffe0e0"/>
<rect x="-4.96" y="-2.48" width="2.53" height="2.53" fill="#ffc8c8"/>
<rect x="-4.96" y="0.00" width="2.53" height="2.53" fill="#ff9a9a"/>
<rect x="-4.96" y="2.48" width="2.53" height="2.53" fill="#ffc8c8"/>
<rect x="-2.48" y="-4.96" width="2.53" height="2.53" fill="#ffe0e0"/>
<rect x="-2.48" y="-2.48" width="2.53" height="2.53" fill="#ffe0e0"/>
<rect x="-2.48" y="0.00" width="2.53" height="2.53" fill="#ffe0e0"/>
<rect x="-2.48" y="2.48" width="2.53" height="2.53" fill="#ffffff"/>
<rect x="0.00" y="-4.96" width="2.53" height="2.53" fill="#ffe0e0"/>
<rect x="0.00" y="-2.48" width="2.53" height="2.53" fill="#ffe0e0"/>
<rect x="0.00" y="0.00" width="2.53" height="2.53" fill="#ffe0e0"/>
<rect x="0.00" y="2.48" width="2.53" height="2.53" fill="#ffd4d4"/>
<rect x="2.48" y="-4.96" width="2.53" height="2.53" fill="#ffe0e0"/>
<rect x="2.48" y="-2.48" width="2.53" height="2.53" fill="#ffe0e0"/>
<rect x="2.48" y="0.00" width="2.53" height="2.53" fill="#ffe0e0"/>
<rect x="2.48" y="2.48" width="2.53" height="2.53" fill="#ffc8c8"/>
</g>
<g transform="translate(138.35,426.40) rotate(45)">
<rect x="-4.96" y="-4.96" width="2.53" height="2.53" fill="#ff0000"/>
<rect x="-4.96" y="-2.48" width="2.53" height="2.53" fill="#ff0000"/>
<rect x="-4.96" y="0.00" width="2.53" height="2.53" fill="#ff0000"/>
<rect x="-4.96" y="2.48" width="2.53" height="2.53" fill="#ff0000"/>
<rect x="-2.48" y="-4.96" width="2.53" height="2.53" fill="#ff0000"/>
<rect x="-2.48" y="-2.48" width="2.53" height="2.53" fill="#ff0000"/>
<rect x="-2.48" y="0.00" width="2.53" height="2.53" fill="#ff0000"/>
<rect x="-2.48" y="2.48" width="2.53" height="2.53" fill="#ff0000"/>
<rect x="0.00" y="-4.96" width="2.53" height="2.53" fill="#ff0000"/>
<rect x="0.00" y="-2.48" width="2.53" height="2.53" fill="#ff0000"/>
<rect x="0.00" y="0.00" width="2.53" height="2.53" fill="#ff0000"/>
<rect x="0.00" y="2.48" width="2.53" height="2.53" fill="#ff0000"/>
<rect x="2.48" y="-4.96" width="2.53" height="2.53" fill="#ff0000"/>
<rect x="2.48" y="-2.48" width="2.53" height="2.53" fill="#ff0000"/>
<rect x="2.48" y="0.00" width="2.53" height="2.53" fill="#ff0000"/>
<rect x="2.48" y="2.48" width="2.53" height="2.53" fill="#ff0000"/>
</g>
<g transform="translate(160.55,428.70) rotate(45)">
<rect x="-4.96" y="-4.96" width="2.53" height="2.53" fill="#ff0000"/>
<rect x="-4.96" y="-2.48" width="2.53" height="2.53" fill="#ff0000"/>
<rect x="-4.96" y="0.00" width="2.53" height="2.53" fill="#ff2020"/>
<rect x="-4.96" y="2.48" width="2.53" height="2.53" fill="#ffffff"/>
<rect x="-2.48" y="-4.96" width="2.53" height="2.53" fill="#ff0000"/>
<rect x="-2.48" y="-2.48" width="2.53" height="2.53" fill="#ffb0b0"/>
<rect x="-2.48" y="0.00" width="2.53" height="2.53" fill="#c0c0ff"/>
<rect x="-2.48" y="2.48" width="2.53" height="2.53" fill="#ff2020"/>
<rect x="0.00" y="-4.96" width="2.53" height="2.53" fill="#ff0000"/>
<rect x="0.00" y="-2.48" width="2.53" height="2.53" fill="#ffb0b0"/>
<rect x="0.00" y="0.00" width="2.53" height="2.53" fill="#ff2020"/>
<rect x="0.00" y="2.48" width="2.53" height="2.53" fill="#ffffff"/>
<rect x="2.48" y="-4.96" width="2.53" height="2.53" fill="#ff0000"/>
<rect x="2.48" y="-2.48" width="2.53" height="2.53" fill="#ffb0b0"/>
<rect x="2.48" y="0.00" width="2.53" height="2.53" fill="#ff2020"/>
<rect x="2.48" y="2.48" width="2.53" height="2.53" fill="#ffffff"/>
</g>
<g transform="translate(180.45,426.40) rotate(45)">
<rect x="-4.96" y="-4.96" width="2.53" height="2.53" fill="#eeeeff"/>
<rect x="-4.96" y="-2.48" width="2.53" height="2.53" fill="#ffc8c8"/>
<rect x="-4.96" y="0.00" width="2.53" height="2.53" fill="#eeeeff"/>
<rect x="-4.96" y="2.48" width="2.53" height="2.53" fill="#ffb4b4"/>
<rect x="-2.48" y="-4.96" width="2.53" height="2.53" fill="#eeeeff"/>
<rect x="-2.48" y="-2.48" width="2.53" height="2.53" fill="#eeeeff"/>
<rect x="-2.48" y="0.00" width="2.53" height="2.53" fill="#ff9a9a"/>
<rect x="-2.48" y="2.48" width="2.53" height="2.53" fill="#ffffff"/>
<rect x="0.00" y="-4.96" width="2.53" height="2.53" fill="#eeeeff"/>
<rect x="0.00" y="-2.48" width="2.53" height="2.53" fill="#ff9a9a"/>
<rect x="0.00" y="0.00" width="2.53" height="2.53" fill="#ff9a9a"/>
<rect x="0.00" y="2.48" width="2.53" height="2.53" fill="#ffc8c8"/>
<rect x="2.48" y="-4.96" width="2.53" height="2.53" fill="#eeeeff"/>
<rect x="2.48" y="-2.48" width="2.53" height="2.53" fill="#eeeeff"/>
<rect x="2.48" y="0.00" width="2.53" height="2.53" fill="#ff9a9a"/>
<rect x="2.48" y="2.48" width="2.53" height="2.53" fill="#ffffff"/>
</g>
<g transform="translate(198.05,426.40) rotate(45)">
<rect x="-4.96" y="-4.96" width="2.53" height="2.53" fill="#ffb0b0"/>
<rect x="-4.96" y="-2.48" width="2.53" height="2.53" fill="#ffffff"/>
<rect x="-4.96" y="0.00" width="2.53" height="2.53" fill="#ffffff"/>
<rect x="-4.96" y="2.48" width="2.53" height="2.53" fill="#ffd0d0"/>
<rect x="-2.48" y="-4.96" width="2.53" height="2.53" fill="#ffb0b0"/>
<rect x="-2.48" y="-2.48" width="2.53" height="2.53" fill="#ff2020"/>
<rect x="-2.48" y="0.00" width="2.53" height="2.53" fill="#ffffff"/>
<rect x="-2.48" y="2.48" width="2.53" height="2.53" fill="#ffd0d0"/>
<rect x="0.00" y="-4.96" width="2.53" height="2.53" fill="#ffb0b0"/>
<rect x="0.00" y="-2.48" width="2.53" height="2.53" fill="#ff2020"/>
<rect x="0.00" y="0.00" width="2.53" height="2.53" fill="#ff0000"/>
<rect x="0.00" y="2.48" width="2.53" height="2.53" fill="#ff2020"/>
<rect x="2.48" y="-4.96" width="2.53" height="2.53" fill="#ffb0b0"/>
<rect x="2.48" y="-2.48" width="2.53" height="2.53" fill="#ff2020"/>
<rect x="2.48" y="0.00" width="2.53" height="2.53" fill="#ffffff"/>
<rect x="2.48" y="2.48" width="2.53" height="2.53" fill="#c0c0ff"/>
</g>
<g transform="translate(220.25,424.10) rotate(45)">
<rect x="-4.96" y="-4.96" width="2.53" height="2.53" fill="#ff0000"/>
<rect x="-4.96" y="-2.48" width="2.53" height="2.53" fill="#ff0000"/>
<rect x="-4.96" y="0.00" width="2.53" height="2.53" fill="#ffd0d0"/>
<rect x="-4.96" y="2.48" width="2.53" height="2.53" fill="#ffffff"/>
<rect x="-2.48" y="-4.96" width="2.53" height="2.53" fill="#ff0000"/>
<rect x="-2.48" y="-2.48" width="2.53" height="2.53" fill="#ff0000"/>
<rect x="-2.48" y="0.00" width="2.53" height="2.53" fill="#ffd0d0"/>
<rect x="-2.48" y="2.48" width="2.53" height="2.53" fill="#ff0000"/>
<rect x="0.00" y="-4.96" width="2.53" height="2.53" fill="#ff0000"/>
<rect x="0.00" y="-2.48" width="2.53" height="2.53" fill="#ff0000"/>
<rect x="0.00" y="0.00" width="2.53" height="2.53" fill="#ffd0d0"/>
<rect x="0.00" y="2.48" width="2.53" height="2.53" fill="#ff0000"/>
<rect x="2.48" y="-4.96" width="2.53" height="2.53" fill="#ff0000"/>
<rect x="2.48" y="-2.48" width="2.53" height="2.53" fill="#ff0000"/>
<rect x="2.48" y="0.00" width="2.53" height="2.53" fill="#ffd0d0"/>
<rect x="2.48" y="2.48" width="2.53" height="2.53" fill="#ff0000"/>
</g>
<g transform="translate(242.45,426.40) rotate(45)">
<rect x="-4.96" y="-4.96" width="2.53" height="2.53" fill="#ffe0e0"/>
<rect x="-4.96" y="-2.48" width="2.53" height="2.53" fill="#ffeeee"/>
<rect x="-4.96" y="0.00" width="2.53" height="2.53" fill="#ffffff"/>
<rect x="-4.96" y="2.48" width="2.53" height="2.53" fill="#ffeeee"/>
<rect x="-2.48" y="-4.96" width="2.53" height="2.53" fill="#ffe0e0"/>
<rect x="-2.48" y="-2.48" width="2.53" height="2.53" fill="#ffeeee"/>
<rect x="-2.48" y="0.00" width="2.53" height="2.53" fill="#ffffff"/>
<rect x="-2.48" y="2.48" width="2.53" height="2.53" fill="#ffe0e0"/>
<rect x="0.00" y="-4.96" width="2.53" height="2.53" fill="#ffe0e0"/>
<rect x="0.00" y="-2.48" width="2.53" height="2.53" fill="#ffeeee"/>
<rect x="0.00" y="0.00" width="2.53" height="2.53" fill="#ffffff"/>
<rect x="0.00" y="2.48" width="2.53" height="2.53" fill="#ffeeee"/>
<rect x="2.48" y="-4.96" width="2.53" height="2.53" fill="#ffe0e0"/>
<rect x="2.48" y="-2.48" width="2.53" height="2.53" fill="#f0f0ff"/>
<rect x="2.48" y="0.00" width="2.53" height="2.53" fill="#ffffff"/>
<rect x="2.48" y="2.48" width="2.53" height="2.53" fill="#ffeeee"/>
</g>
<g transform="translate(108.50,436.35) rotate(45)">
<rect x="-4.96" y="-4.96" width="2.53" height="2.53" fill="#ffb4b4"/>
<rect x="-4.96" y="-2.48" width="2.53" height="2.53" fill="#ff9a9a"/>
<rect x="-4.96" y="0.00" width="2.53" height="2.53" fill="#ffc8c8"/>
<rect x="-4.96" y="2.48" width="2.53" height="2.53" fill="#ffd4d4"/>
<rect x="-2.48" y="-4.96" width="2.53" height="2.53" fill="#ffb4b4"/>
<rect x="-2.48" y="-2.48" width="2.53" height="2.53" fill="#ff9a9a"/>
<rect x="-2.48" y="0.00" width="2.53" height="2.53" fill="#ff9a9a"/>
<rect x="-2.48" y="2.48" width="2.53" height="2.53" fill="#ffb4b4"/>
<rect x="0.00" y="-4.96" width="2.53" height="2.53" fill="#ffb4b4"/>
<rect x="0.00" y="-2.48" width="2.53" height="2.53" fill="#ff9a9a"/>
<rect x="0.00" y="0.00" width="2.53" height="2.53" fill="#ff9a9a"/>
<rect x="0.00" y="2.48" width="2.53" height="2.53" fill="#ffb4b4"/>
<rect x="2.48" y="-4.96" width="2.53" height="2.53" fill="#ffb4b4"/>
<rect x="2.48" y="-2.48" width="2.53" height="2.53" fill="#ff9a9a"/>
<rect x="2.48" y="0.00" width="2.53" height="2.53" fill="#ff9a9a"/>
<rect x="2.48" y="2.48" width="2.53" height="2.53" fill="#ffb4b4"/>
</g>
<g transform="translate(130.70,436.35) rotate(45)">
<rect x="-4.96" y="-4.96" width="2.53" height="2.53" fill="#ff9a9a"/>
<rect x="-4.96" y="-2.48" width="2.53" height="2.53" fill="#ffd4d4"/>
<rect x="-4.96" y="0.00" width="2.53" height="2.53" fill="#8a8a8a"/>
<rect x="-4.96" y="2.48" width="2.53" height="2.53" fill="#ffe0e0"/>
<rect x="-2.48" y="-4.96" width="2.53" height="2.53" fill="#ffc8c8"/>
<rect x="-2.48" y="-2.48" width="2.53" height="2.53" fill="#ffd4d4"/>
<rect x="-2.48" y="0.00" width="2.53" height="2.53" fill="#8a8a8a"/>
<rect x="-2.48" y="2.48" width="2.53" height="2.53" fill="#ff9a9a"/>
<rect x="0.00" y="-4.96" width="2.53" height="2.53" fill="#ffd4d4"/>
<rect x="0.00" y="-2.48" width="2.53" height="2.53" fill="#ffd4d4"/>
<rect x="0.00" y="0.00" width="2.53" height="2.53" fill="#8a8a8a"/>
<rect x="0.00" y="2.48" width="2.53" height="2.53" fill="#ffe0e0"/>
<rect x="2.48" y="-4.96" width="2.53" height="2.53" fill="#ffd4d4"/>
<rect x="2.48" y="-2.48" width="2.53" height="2.53" fill="#ffd4d4"/>
<rect x="2.48" y="0.00" width="2.53" height="2.53" fill="#8a8a8a"/>
<rect x="2.48" y="2.48" width="2.53" height="2.53" fill="#ffe0e0"/>
</g>
<g transform="translate(152.90,436.35) rotate(45)">
<rect x="-4.96" y="-4.96" width="2.53" height="2.53" fill="#ffd0d0"/>
<rect x="-4.96" y="-2.48" width="2.53" height="2.53" fill="#ff0000"/>
<rect x="-4.96" y="0.00" width="2.53" height="2.53" fill="#ffb0b0"/>
<rect x="-4.96" y="2.48" width="2.53" height="2.53" fill="#ff1010"/>
<rect x="-2.48" y="-4.96" width="2.53" height="2.53" fill="#ffb0b0"/>
<rect x="-2.48" y="-2.48" width="2.53" height="2.53" fill="#ff0000"/>
<rect x="-2.48" y="0.00" width="2.53" height="2.53" fill="#ffb0b0"/>
<rect x="-2.48" y="2.48" width="2.53" height="2.53" fill="#ff1010"/>
<rect x="0.00" y="-4.96" width="2.53" height="2.53" fill="#ffb0b0"/>
<rect x="0.00" y="-2.48" width="2.53" height="2.53" fill="#ffb0b0"/>
<rect x="0.00" y="0.00" width="2.53" height="2.53" fill="#ff0000"/>
<rect x="0.00" y="2.48" width="2.53" height="2.53" fill="#ff1010"/>
<rect x="2.48" y="-4.96" width="2.53" height="2.53" fill="#ffb0b0"/>
<rect x="2.48" y="-2.48" width="2.53" height="2.53" fill="#ff0000"/>
<rect x="2.48" y="0.00" width="2.53" height="2.53" fill="#ffb0b0"/>
<rect x="2.48" y="2.48" width="2.53" height="2.53" fill="#ff1010"/>
</g>
<g transform="translate(170.50,434.05) rotate(45)">
<rect x="-4.96" y="-4.96" width="2.53" height="2.53" fill="#ffffff"/>
<rect x="-4.96" y="-2.48" width="2.53" height="2.53" fill="#ffffff"/>
<rect x="-4.96" y="0.00" width="2.53" height="2.53" fill="#c4c4ff"/>
<rect x="-4.96" y="2.48" width="2.53" height="2.53" fill="#a8a8ff"/>
<rect x="-2.48" y="-4.96" width="2.53" height="2.53" fill="#ffffff"/>
<rect x="-2.48" y="-2.48" width="2.53" height="2.53" fill="#ffffff"/>
<rect x="-2.48" y="0.00" width="2.53" height="2.53" fill="#e6e6ff"/>
<rect x="-2.48" y="2.48" width="2.53" height="2.53" fill="#e6e6ff"/>
<rect x="0.00" y="-4.96" width="2.53" height="2.53" fill="#ffffff"/>
<rect x="0.00" y="-2.48" width="2.53" height="2.53" fill="#ffffff"/>
<rect x="0.00" y="0.00" width="2.53" height="2.53" fill="#e6e6ff"/>
<rect x="0.00" y="2.48" width="2.53" height="2.53" fill="#c4c4ff"/>
<rect x="2.48" y="-4.96" width="2.53" height="2.53" fill="#c4c4ff"/>
<rect x="2.48" y="-2.48" width="2.53" height="2.53" fill="#ffffff"/>
<rect x="2.48" y="0.00" width="2.53" height="2.53" fill="#e6e6ff"/>
<rect x="2.48" y="2.48" width="2.53" height="2.53" fill="#a8a8ff"/>
</g>
<g transform="translate(192.70,436.35) rotate(45)">
<rect x="-4.96" y="-4.96" width="2.53" height="2.53" fill="#c0c0ff"/>
<rect x="-4.96" y="-2.48" width="2.53" height="2.53" fill="#ffffff"/>
<rect x="-4.96" y="0.00" width="2.53" height="2.53" fill="#ffb0b0"/>
<rect x="-4.96" y="2.48" width="2.53" height="2.53" fill="#6a6aff"/>
<rect x="-2.48" y="-4.96" width="2.53" height="2.53" fill="#ffd0d0"/>
<rect x="-2.48" y="-2.48" width="2.53" height="2.53" fill="#ffd0d0"/>
<rect x="-2.48" y="0.00" width="2.53" height="2.53" fill="#6a6aff"/>
<rect x="-2.48" y="2.48" width="2.53" height="2.53" fill="#6a6aff"/>
<rect x="0.00" y="-4.96" width="2.53" height="2.53" fill="#ffd0d0"/>
<rect x="0.00" y="-2.48" width="2.53" height="2.53" fill="#ffd0d0"/>
<rect x="0.00" y="0.00" width="2.53" height="2.53" fill="#6a6aff"/>
<rect x="0.00" y="2.48" width="2.53" height="2.53" fill="#6a6aff"/>
<rect x="2.48" y="-4.96" width="2.53" height="2.53" fill="#ffd0d0"/>
<rect x="2.48" y="-2.48" width="2.53" height="2.53" fill="#ffd0d0"/>
<rect x="2.48" y="0.00" width="2.53" height="2.53" fill="#6a6aff"/>
<rect x="2.48" y="2.48" width="2.53" height="2.53" fill="#6a6aff"/>
</g>
<g transform="translate(208.00,436.35) rotate(45)">
<rect x="-4.96" y="-4.96" width="2.53" height="2.53" fill="#ffffff"/>
<rect x="-4.96" y="-2.48" width="2.53" height="2.53" fill="#6a6aff"/>
<rect x="-4.96" y="0.00" width="2.53" height="2.53" fill="#c0c0ff"/>
<rect x="-4.96" y="2.48" width="2.53" height="2.53" fill="#6a6aff"/>
<rect x="-2.48" y="-4.96" width="2.53" height="2.53" fill="#ffffff"/>
<rect x="-2.48" y="-2.48" width="2.53" height="2.53" fill="#c0c0ff"/>
<rect x="-2.48" y="0.00" width="2.53" height="2.53" fill="#c0c0ff"/>
<rect x="-2.48" y="2.48" width="2.53" height="2.53" fill="#6a6aff"/>
<rect x="0.00" y="-4.96" width="2.53" height="2.53" fill="#ffffff"/>
<rect x="0.00" y="-2.48" width="2.53" height="2.53" fill="#6a6aff"/>
<rect x="0.00" y="0.00" width="2.53" height="2.53" fill="#c0c0ff"/>
<rect x="0.00" y="2.48" width="2.53" height="2.53" fill="#6a6aff"/>
<rect x="2.48" y="-4.96" width="2.53" height="2.53" fill="#ffffff"/>
<rect x="2.48" y="-2.48" width="2.53" height="2.53" fill="#6a6aff"/>
<rect x="2.48" y="0.00" width="2.53" height="2.53" fill="#c0c0ff"/>
<rect x="2.48" y="2.48" width="2.53" height="2.53" fill="#c0c0ff"/>
</g>
<g transform="translate(230.20,434.05) rotate(45)">
<rect x="-4.96" y="-4.96" width="2.53" height="2.53" fill="#ffc8c8"/>
<rect x="-4.96" y="-2.48" width="2.53" height="2.53" fill="#ffc8c8"/>
<rect x="-4.96" y="0.00" width="2.53" height="2.53" fill="#8a8a8a"/>
<rect x="-4.96" y="2.48" width="2.53" height="2.53" fill="#ffc8c8"/>
<rect x="-2.48" y="-4.96" width="2.53" height="2.53" fill="#ffc8c8"/>
<rect x="-2.48" y="-2.48" width="2.53" height="2.53" fill="#ffc8c8"/>
<rect x="-2.48" y="0.00" width="2.53" height="2.53" fill="#8a8a8a"/>
<rect x="-2.48" y="2.48" width="2.53" height="2.53" fill="#ff9a9a"/>
<rect x="0.00" y="-4.96" width="2.53" height="2.53" fill="#ffffff"/>
<rect x="0.00" y="-2.48" width="2.53" height="2.53" fill="#ffe0e0"/>
<rect x="0.00" y="0.00" width="2.53" height="2.53" fill="#8a8a8a"/>
<rect x="0.00" y="2.48" width="2.53" height="2.53" fill="#eeeeff"/>
<rect x="2.48" y="-4.96" width="2.53" height="2.53" fill="#ffc8c8"/>
<rect x="2.48" y="-2.48" width="2.53" height="2.53" fill="#ffc8c8"/>
<rect x="2.48" y="0.00" width="2.53" height="2.53" fill="#8a8a8a"/>
<rect x="2.48" y="2.48" width="2.53" height="2.53" fill="#ffffff"/>
</g>
<g transform="translate(118.45,446.30) rotate(45)">
<rect x="-4.96" y="-4.96" width="2.53" height="2.53" fill="#ffffff"/>
<rect x="-4.96" y="-2.48" width="2.53" height="2.53" fill="#fff4f4"/>
<rect x="-4.96" y="0.00" width="2.53" height="2.53" fill="#dadaff"/>
<rect x="-4.96" y="2.48" width="2.53" height="2.53" fill="#f0f0ff"/>
<rect x="-2.48" y="-4.96" width="2.53" height="2.53" fill="#ffffff"/>
<rect x="-2.48" y="-2.48" width="2.53" height="2.53" fill="#fff4f4"/>
<rect x="-2.48" y="0.00" width="2.53" height="2.53" fill="#dadaff"/>
<rect x="-2.48" y="2.48" width="2.53" height="2.53" fill="#fff4f4"/>
<rect x="0.00" y="-4.96" width="2.53" height="2.53" fill="#ffffff"/>
<rect x="0.00" y="-2.48" width="2.53" height="2.53" fill="#fff4f4"/>
<rect x="0.00" y="0.00" width="2.53" height="2.53" fill="#dadaff"/>
<rect x="0.00" y="2.48" width="2.53" height="2.53" fill="#dadaff"/>
<rect x="2.48" y="-4.96" width="2.53" height="2.53" fill="#ffffff"/>
<rect x="2.48" y="-2.48" width="2.53" height="2.53" fill="#ffffff"/>
<rect x="2.48" y="0.00" width="2.53" height="2.53" fill="#fff4f4"/>
<rect x="2.48" y="2.48" width="2.53" height="2.53" fill="#e4e4ff"/>
</g>
<g transform="translate(138.35,446.30) rotate(45)">
<rect x="-4.96" y="-4.96" width="2.53" height="2.53" fill="#e6e6ff"/>
<rect x="-4.96" y="-2.48" width="2.53" height="2.53" fill="#ffe0e0"/>
<rect x="-4.96" y="0.00" width="2.53" height="2.53" fill="#c4c4ff"/>
<rect x="-4.96" y="2.48" width="2.53" height="2.53" fill="#ffd6d6"/>
<rect x="-2.48" y="-4.96" width="2.53" height="2.53" fill="#e6e6ff"/>
<rect x="-2.48" y="-2.48" width="2.53" height="2.53" fill="#d8d8ff"/>
<rect x="-2.48" y="0.00" width="2.53" height="2.53" fill="#c4c4ff"/>
<rect x="-2.48" y="2.48" width="2.53" height="2.53" fill="#ffd6d6"/>
<rect x="0.00" y="-4.96" width="2.53" height="2.53" fill="#e6e6ff"/>
<rect x="0.00" y="-2.48" width="2.53" height="2.53" fill="#d8d8ff"/>
<rect x="0.00" y="0.00" width="2.53" height="2.53" fill="#c4c4ff"/>
<rect x="0.00" y="2.48" width="2.53" height="2.53" fill="#ffd6d6"/>
<rect x="2.48" y="-4.96" width="2.53" height="2.53" fill="#e6e6ff"/>
<rect x="2.48" y="-2.48" width="2.53" height="2.53" fill="#d8d8ff"/>
<rect x="2.48" y="0.00" width="2.53" height="2.53" fill="#c4c4ff"/>
<rect x="2.48" y="2.48" width="2.53" height="2.53" fill="#ffd6d6"/>
</g>
<g transform="translate(160.55,446.30) rotate(45)">
<rect x="-4.96" y="-4.96" width="2.53" height="2.53" fill="#eeeeff"/>
<rect x="-4.96" y="-2.48" width="2.53" height="2.53" fill="#eeeeff"/>
<rect x="-4.96" y="0.00" width="2.53" height="2.53" fill="#8a8a8a"/>
<rect x="-4.96" y="2.48" width="2.53" height="2.53" fill="#ff9a9a"/>
<rect x="-2.48" y="-4.96" width="2.53" height="2.53" fill="#eeeeff"/>
<rect x="-2.48" y="-2.48" width="2.53" height="2.53" fill="#ffe0e0"/>
<rect x="-2.48" y="0.00" width="2.53" height="2.53" fill="#8a8a8a"/>
<rect x="-2.48" y="2.48" width="2.53" height="2.53" fill="#ffb4b4"/>
<rect x="0.00" y="-4.96" width="2.53" height="2.53" fill="#eeeeff"/>
<rect x="0.00" y="-2.48" width="2.53" height="2.53" fill="#ffe0e0"/>
<rect x="0.00" y="0.00" width="2.53" height="2.53" fill="#8a8a8a"/>
<rect x="0.00" y="2.48" width="2.53" height="2.53" fill="#ffe0e0"/>
<rect x="2.48" y="-4.96" width="2.53" height="2.53" fill="#ffc8c8"/>
<rect x="2.48" y="-2.48" width="2.53" height="2.53" fill="#ffe0e0"/>
<rect x="2.48" y="0.00" width="2.53" height="2.53" fill="#8a8a8a"/>
<rect x="2.48" y="2.48" width="2.53" height="2.53" fill="#ffb4b4"/>
</g>
<g transform="translate(178.15,446.30) rotate(45)">
<rect x="-4.96" y="-4.96" width="2.53" height="2.53" fill="#ff0000"/>
<rect x="-4.96" y="-2.48" width="2.53" height="2.53" fill="#ff2020"/>
<rect x="-4.96" y="0.00" width="2.53" height="2.53" fill="#ff2020"/>
<rect x="-4.96" y="2.48" width="2.53" height="2.53" fill="#ffffff"/>
<rect x="-2.48" y="-4.96" width="2.53" height="2.53" fill="#ff0000"/>
<rect x="-2.48" y="-2.48" width="2.53" height="2.53" fill="#ff2020"/>
<rect x="-2.48" y="0.00" width="2.53" height="2.53" fill="#ff2020"/>
<rect x="-2.48" y="2.48" width="2.53" height="2.53" fill="#ffffff"/>
<rect x="0.00" y="-4.96" width="2.53" height="2.53" fill="#ff0000"/>
<rect x="0.00" y="-2.48" width="2.53" height="2.53" fill="#ff2020"/>
<rect x="0.00" y="0.00" width="2.53" height="2.53" fill="#ffd0d0"/>
<rect x="0.00" y="2.48" width="2.53" height="2.53" fill="#ffd0d0"/>
<rect x="2.48" y="-4.96" width="2.53" height="2.53" fill="#ff0000"/>
<rect x="2.48" y="-2.48" width="2.53" height="2.53" fill="#ff0000"/>
<rect x="2.48" y="0.00" width="2.53" height="2.53" fill="#ffd0d0"/>
<rect x="2.48" y="2.48" width="2.53" height="2.53" fill="#ffffff"/>
</g>
<g transform="translate(200.35,444.00) rotate(45)">
<rect x="-4.96" y="-4.96" width="2.53" height="2.53" fill="#ffb4b4"/>
<rect x="-4.96" y="-2.48" width="2.53" height="2.53" fill="#8a8a8a"/>
<rect x="-4.96" y="0.00" width="2.53" height="2.53" fill="#ffffff"/>
<rect x="-4.96" y="2.48" width="2.53" height="2.53" fill="#eeeeff"/>
<rect x="-2.48" y="-4.96" width="2.53" height="2.53" fill="#ffffff"/>
<rect x="-2.48" y="-2.48" width="2.53" height="2.53" fill="#8a8a8a"/>
<rect x="-2.48" y="0.00" width="2.53" height="2.53" fill="#ffffff"/>
<rect x="-2.48" y="2.48" width="2.53" height="2.53" fill="#eeeeff"/>
<rect x="0.00" y="-4.96" width="2.53" height="2.53" fill="#ffb4b4"/>
<rect x="0.00" y="-2.48" width="2.53" height="2.53" fill="#8a8a8a"/>
<rect x="0.00" y="0.00" width="2.53" height="2.53" fill="#ffffff"/>
<rect x="0.00" y="2.48" width="2.53" height="2.53" fill="#eeeeff"/>
<rect x="2.48" y="-4.96" width="2.53" height="2.53" fill="#ffffff"/>
<rect x="2.48" y="-2.48" width="2.53" height="2.53" fill="#8a8a8a"/>
<rect x="2.48" y="0.00" width="2.53" height="2.53" fill="#ffc8c8"/>
<rect x="2.48" y="2.48" width="2.53" height="2.53" fill="#eeeeff"/>
</g>
<g transform="translate(222.55,446.30) rotate(45)">
<rect x="-4.96" y="-4.96" width="2.53" height="2.53" fill="#fff4f4"/>
<rect x="-4.96" y="-2.48" width="2.53" height="2.53" fill="#ffe0e0"/>
<rect x="-4.96" y="0.00" width="2.53" height="2.53" fill="#dadaff"/>
<rect x="-4.96" y="2.48" width="2.53" height="2.53" fill="#dadaff"/>
<rect x="-2.48" y="-4.96" width="2.53" height="2.53" fill="#fff4f4"/>
<rect x="-2.48" y="-2.48" width="2.53" height="2.53" fill="#ffe0e0"/>
<rect x="-2.48" y="0.00" width="2.53" height="2.53" fill="#fff4f4"/>
<rect x="-2.48" y="2.48" width="2.53" height="2.53" fill="#fff4f4"/>
<rect x="0.00" y="-4.96" width="2.53" height="2.53" fill="#fff4f4"/>
<rect x="0.00" y="-2.48" width="2.53" height="2.53" fill="#e4e4ff"/>
<rect x="0.00" y="0.00" width="2.53" height="2.53" fill="#dadaff"/>
<rect x="0.00" y="2.48" width="2.53" height="2.53" fill="#f0f0ff"/>
<rect x="2.48" y="-4.96" width="2.53" height="2.53" fill="#fff4f4"/>
<rect x="2.48" y="-2.48" width="2.53" height="2.53" fill="#ffe0e0"/>
<rect x="2.48" y="0.00" width="2.53" height="2.53" fill="#dadaff"/>
<rect x="2.48" y="2.48" width="2.53" height="2.53" fill="#fff4f4"/>
</g>
<g transform="translate(133.00,456.25) rotate(45)">
<rect x="-4.96" y="-4.96" width="2.53" height="2.53" fill="#fff4f4"/>
<rect x="-4.96" y="-2.48" width="2.53" height="2.53" fill="#e4e4ff"/>
<rect x="-4.96" y="0.00" width="2.53" height="2.53" fill="#8a8a8a"/>
<rect x="-4.96" y="2.48" width="2.53" height="2.53" fill="#ffffff"/>
<rect x="-2.48" y="-4.96" width="2.53" height="2.53" fill="#ffffff"/>
<rect x="-2.48" y="-2.48" width="2.53" height="2.53" fill="#ffffff"/>
<rect x="-2.48" y="0.00" width="2.53" height="2.53" fill="#8a8a8a"/>
<rect x="-2.48" y="2.48" width="2.53" height="2.53" fill="#ffffff"/>
<rect x="0.00" y="-4.96" width="2.53" height="2.53" fill="#ffeeee"/>
<rect x="0.00" y="-2.48" width="2.53" height="2.53" fill="#ffffff"/>
<rect x="0.00" y="0.00" width="2.53" height="2.53" fill="#8a8a8a"/>
<rect x="0.00" y="2.48" width="2.53" height="2.53" fill="#ffffff"/>
<rect x="2.48" y="-4.96" width="2.53" height="2.53" fill="#ffffff"/>
<rect x="2.48" y="-2.48" width="2.53" height="2.53" fill="#ffffff"/>
<rect x="2.48" y="0.00" width="2.53" height="2.53" fill="#8a8a8a"/>
<rect x="2.48" y="2.48" width="2.53" height="2.53" fill="#ffffff"/>
</g>
<g transform="translate(150.60,453.95) rotate(45)">
<rect x="-4.96" y="-4.96" width="2.53" height="2.53" fill="#ffe0e0"/>
<rect x="-4.96" y="-2.48" width="2.53" height="2.53" fill="#ffffff"/>
<rect x="-4.96" y="0.00" width="2.53" height="2.53" fill="#ffe0e0"/>
<rect x="-4.96" y="2.48" width="2.53" height="2.53" fill="#a8a8ff"/>
<rect x="-2.48" y="-4.96" width="2.53" height="2.53" fill="#ffe0e0"/>
<rect x="-2.48" y="-2.48" width="2.53" height="2.53" fill="#ffd6d6"/>
<rect x="-2.48" y="0.00" width="2.53" height="2.53" fill="#ffe0e0"/>
<rect x="-2.48" y="2.48" width="2.53" height="2.53" fill="#ffd6d6"/>
<rect x="0.00" y="-4.96" width="2.53" height="2.53" fill="#ffe0e0"/>
<rect x="0.00" y="-2.48" width="2.53" height="2.53" fill="#ffd6d6"/>
<rect x="0.00" y="0.00" width="2.53" height="2.53" fill="#ffd6d6"/>
<rect x="0.00" y="2.48" width="2.53" height="2.53" fill="#ffffff"/>
<rect x="2.48" y="-4.96" width="2.53" height="2.53" fill="#ffe0e0"/>
<rect x="2.48" y="-2.48" width="2.53" height="2.53" fill="#ffd6d6"/>
<rect x="2.48" y="0.00" width="2.53" height="2.53" fill="#ffe0e0"/>
<rect x="2.48" y="2.48" width="2.53" height="2.53" fill="#ffffff"/>
</g>
<g transform="translate(170.50,456.25) rotate(45)">
<rect x="-4.96" y="-4.96" width="2.53" height="2.53" fill="#ffffff"/>
<rect x="-4.96" y="-2.48" width="2.53" height="2.53" fill="#ffe0e0"/>
<rect x="-4.96" y="0.00" width="2.53" height="2.53" fill="#e6e6ff"/>
<rect x="-4.96" y="2.48" width="2.53" height="2.53" fill="#a8a8ff"/>
<rect x="-2.48" y="-4.96" width="2.53" height="2.53" fill="#ffd6d6"/>
<rect x="-2.48" y="-2.48" width="2.53" height="2.53" fill="#d8d8ff"/>
<rect x="-2.48" y="0.00" width="2.53" height="2.53" fill="#e6e6ff"/>
<rect x="-2.48" y="2.48" width="2.53" height="2.53" fill="#a8a8ff"/>
<rect x="0.00" y="-4.96" width="2.53" height="2.53" fill="#ffd6d6"/>
<rect x="0.00" y="-2.48" width="2.53" height="2.53" fill="#d8d8ff"/>
<rect x="0.00" y="0.00" width="2.53" height="2.53" fill="#ffffff"/>
<rect x="0.00" y="2.48" width="2.53" height="2.53" fill="#a8a8ff"/>
<rect x="2.48" y="-4.96" width="2.53" height="2.53" fill="#ffd6d6"/>
<rect x="2.48" y="-2.48" width="2.53" height="2.53" fill="#d8d8ff"/>
<rect x="2.48" y="0.00" width="2.53" height="2.53" fill="#ffe0e0"/>
<rect x="2.48" y="2.48" width="2.53" height="2.53" fill="#c4c4ff"/>
</g>
<g transform="translate(190.40,458.55) rotate(45)">
<rect x="-4.96" y="-4.96" width="2.53" height="2.53" fill="#ffc8c8"/>
<rect x="-4.96" y="-2.48" width="2.53" height="2.53" fill="#8a8a8a"/>
<rect x="-4.96" y="0.00" width="2.53" height="2.53" fill="#ffffff"/>
<rect x="-4.96" y="2.48" width="2.53" height="2.53" fill="#eeeeff"/>
<rect x="-2.48" y="-4.96" width="2.53" height="2.53" fill="#ffc8c8"/>
<rect x="-2.48" y="-2.48" width="2.53" height="2.53" fill="#8a8a8a"/>
<rect x="-2.48" y="0.00" width="2.53" height="2.53" fill="#ffffff"/>
<rect x="-2.48" y="2.48" width="2.53" height="2.53" fill="#ffffff"/>
<rect x="0.00" y="-4.96" width="2.53" height="2.53" fill="#ffc8c8"/>
<rect x="0.00" y="-2.48" width="2.53" height="2.53" fill="#8a8a8a"/>
<rect x="0.00" y="0.00" width="2.53" height="2.53" fill="#ffffff"/>
<rect x="0.00" y="2.48" width="2.53" height="2.53" fill="#ffd4d4"/>
<rect x="2.48" y="-4.96" width="2.53" height="2.53" fill="#ffc8c8"/>
<rect x="2.48" y="-2.48" width="2.53" height="2.53" fill="#8a8a8a"/>
<rect x="2.48" y="0.00" width="2.53" height="2.53" fill="#ff9a9a"/>
<rect x="2.48" y="2.48" width="2.53" height="2.53" fill="#eeeeff"/>
</g>
<g transform="translate(212.60,456.25) rotate(45)">
<rect x="-4.96" y="-4.96" width="2.53" height="2.53" fill="#ffffff"/>
<rect x="-4.96" y="-2.48" width="2.53" height="2.53" fill="#8a8a8a"/>
<rect x="-4.96" y="0.00" width="2.53" height="2.53" fill="#f0f0ff"/>
<rect x="-4.96" y="2.48" width="2.53" height="2.53" fill="#f0f0ff"/>
<rect x="-2.48" y="-4.96" width="2.53" height="2.53" fill="#ffe0e0"/>
<rect x="-2.48" y="-2.48" width="2.53" height="2.53" fill="#8a8a8a"/>
<rect x="-2.48" y="0.00" width="2.53" height="2.53" fill="#ffffff"/>
<rect x="-2.48" y="2.48" width="2.53" height="2.53" fill="#f0f0ff"/>
<rect x="0.00" y="-4.96" width="2.53" height="2.53" fill="#ffffff"/>
<rect x="0.00" y="-2.48" width="2.53" height="2.53" fill="#8a8a8a"/>
<rect x="0.00" y="0.00" width="2.53" height="2.53" fill="#ffffff"/>
<rect x="0.00" y="2.48" width="2.53" height="2.53" fill="#f0f0ff"/>
<rect x="2.48" y="-4.96" width="2.53" height="2.53" fill="#ffe0e0"/>
<rect x="2.48" y="-2.48" width="2.53" height="2.53" fill="#8a8a8a"/>
<rect x="2.48" y="0.00" width="2.53" height="2.53" fill="#ffffff"/>
<rect x="2.48" y="2.48" width="2.53" height="2.53" fill="#f0f0ff"/>
</g>
<g transform="translate(138.35,466.20) rotate(45)">
<rect x="-4.96" y="-4.96" width="2.53" height="2.53" fill="#ffeeee"/>
<rect x="-4.96" y="-2.48" width="2.53" height="2.53" fill="#8a8a8a"/>
<rect x="-4.96" y="0.00" width="2.53" height="2.53" fill="#ffffff"/>
<rect x="-4.96" y="2.48" width="2.53" height="2.53" fill="#f0f0ff"/>
<rect x="-2.48" y="-4.96" width="2.53" height="2.53" fill="#ffe0e0"/>
<rect x="-2.48" y="-2.48" width="2.53" height="2.53" fill="#8a8a8a"/>
<rect x="-2.48" y="0.00" width="2.53" height="2.53" fill="#fff4f4"/>
<rect x="-2.48" y="2.48" width="2.53" height="2.53" fill="#f0f0ff"/>
<rect x="0.00" y="-4.96" width="2.53" height="2.53" fill="#f0f0ff"/>
<rect x="0.00" y="-2.48" width="2.53" height="2.53" fill="#8a8a8a"/>
<rect x="0.00" y="0.00" width="2.53" height="2.53" fill="#ffffff"/>
<rect x="0.00" y="2.48" width="2.53" height="2.53" fill="#ffe0e0"/>
<rect x="2.48" y="-4.96" width="2.53" height="2.53" fill="#f0f0ff"/>
<rect x="2.48" y="-2.48" width="2.53" height="2.53" fill="#8a8a8a"/>
<rect x="2.48" y="0.00" width="2.53" height="2.53" fill="#ffffff"/>
<rect x="2.48" y="2.48" width="2.53" height="2.53" fill="#f0f0ff"/>
</g>
<g transform="translate(158.25,466.20) rotate(45)">
<rect x="-4.96" y="-4.96" width="2.53" height="2.53" fill="#ffeeee"/>
<rect x="-4.96" y="-2.48" width="2.53" height="2.53" fill="#fff4f4"/>
<rect x="-4.96" y="0.00" width="2.53" height="2.53" fill="#ffffff"/>
<rect x="-4.96" y="2.48" width="2.53" height="2.53" fill="#ffeeee"/>
<rect x="-2.48" y="-4.96" width="2.53" height="2.53" fill="#dadaff"/>
<rect x="-2.48" y="-2.48" width="2.53" height="2.53" fill="#fff4f4"/>
<rect x="-2.48" y="0.00" width="2.53" height="2.53" fill="#ffeeee"/>
<rect x="-2.48" y="2.48" width="2.53" height="2.53" fill="#ffeeee"/>
<rect x="0.00" y="-4.96" width="2.53" height="2.53" fill="#dadaff"/>
<rect x="0.00" y="-2.48" width="2.53" height="2.53" fill="#fff4f4"/>
<rect x="0.00" y="0.00" width="2.53" height="2.53" fill="#e4e4ff"/>
<rect x="0.00" y="2.48" width="2.53" height="2.53" fill="#ffeeee"/>
<rect x="2.48" y="-4.96" width="2.53" height="2.53" fill="#dadaff"/>
<rect x="2.48" y="-2.48" width="2.53" height="2.53" fill="#e4e4ff"/>
<rect x="2.48" y="0.00" width="2.53" height="2.53" fill="#ffffff"/>
<rect x="2.48" y="2.48" width="2.53" height="2.53" fill="#ffeeee"/>
</g>
<g transform="translate(180.45,463.90) rotate(45)">
<rect x="-4.96" y="-4.96" width="2.53" height="2.53" fill="#ffd4d4"/>
<rect x="-4.96" y="-2.48" width="2.53" height="2.53" fill="#ffb4b4"/>
<rect x="-4.96" y="0.00" width="2.53" height="2.53" fill="#ff9a9a"/>
<rect x="-4.96" y="2.48" width="2.53" height="2.53" fill="#ff9a9a"/>
<rect x="-2.48" y="-4.96" width="2.53" height="2.53" fill="#ffd4d4"/>
<rect x="-2.48" y="-2.48" width="2.53" height="2.53" fill="#ffb4b4"/>
<rect x="-2.48" y="0.00" width="2.53" height="2.53" fill="#ff9a9a"/>
<rect x="-2.48" y="2.48" width="2.53" height="2.53" fill="#ff9a9a"/>
<rect x="0.00" y="-4.96" width="2.53" height="2.53" fill="#ffd4d4"/>
<rect x="0.00" y="-2.48" width="2.53" height="2.53" fill="#ffb4b4"/>
<rect x="0.00" y="0.00" width="2.53" height="2.53" fill="#ff9a9a"/>
<rect x="0.00" y="2.48" width="2.53" height="2.53" fill="#ff9a9a"/>
<rect x="2.48" y="-4.96" width="2.53" height="2.53" fill="#ffd4d4"/>
<rect x="2.48" y="-2.48" width="2.53" height="2.53" fill="#ffb4b4"/>
<rect x="2.48" y="0.00" width="2.53" height="2.53" fill="#ff9a9a"/>
<rect x="2.48" y="2.48" width="2.53" height="2.53" fill="#ff9a9a"/>
</g>
<g transform="translate(200.35,468.50) rotate(45)">
<rect x="-4.96" y="-4.96" width="2.53" height="2.53" fill="#ffffff"/>
<rect x="-4.96" y="-2.48" width="2.53" height="2.53" fill="#8a8a8a"/>
<rect x="-4.96" y="0.00" width="2.53" height="2.53" fill="#ffe0e0"/>
<rect x="-4.96" y="2.48" width="2.53" height="2.53" fill="#ffeeee"/>
<rect x="-2.48" y="-4.96" width="2.53" height="2.53" fill="#ffffff"/>
<rect x="-2.48" y="-2.48" width="2.53" height="2.53" fill="#8a8a8a"/>
<rect x="-2.48" y="0.00" width="2.53" height="2.53" fill="#ffe0e0"/>
<rect x="-2.48" y="2.48" width="2.53" height="2.53" fill="#ffffff"/>
<rect x="0.00" y="-4.96" width="2.53" height="2.53" fill="#ffffff"/>
<rect x="0.00" y="-2.48" width="2.53" height="2.53" fill="#8a8a8a"/>
<rect x="0.00" y="0.00" width="2.53" height="2.53" fill="#dadaff"/>
<rect x="0.00" y="2.48" width="2.53" height="2.53" fill="#e4e4ff"/>
<rect x="2.48" y="-4.96" width="2.53" height="2.53" fill="#ffffff"/>
<rect x="2.48" y="-2.48" width="2.53" height="2.53" fill="#8a8a8a"/>
<rect x="2.48" y="0.00" width="2.53" height="2.53" fill="#ffe0e0"/>
<rect x="2.48" y="2.48" width="2.53" height="2.53" fill="#ffeeee"/>
</g>
<g transform="translate(152.90,476.15) rotate(45)">
<rect x="-4.96" y="-4.96" width="2.53" height="2.53" fill="#ff9a9a"/>
<rect x="-4.96" y="-2.48" width="2.53" height="2.53" fill="#ffb4b4"/>
<rect x="-4.96" y="0.00" width="2.53" height="2.53" fill="#ffffff"/>
<rect x="-4.96" y="2.48" width="2.53" height="2.53" fill="#ffc8c8"/>
<rect x="-2.48" y="-4.96" width="2.53" height="2.53" fill="#ff9a9a"/>
<rect x="-2.48" y="-2.48" width="2.53" height="2.53" fill="#ff9a9a"/>
<rect x="-2.48" y="0.00" width="2.53" height="2.53" fill="#ffffff"/>
<rect x="-2.48" y="2.48" width="2.53" height="2.53" fill="#ffc8c8"/>
<rect x="0.00" y="-4.96" width="2.53" height="2.53" fill="#ff9a9a"/>
<rect x="0.00" y="-2.48" width="2.53" height="2.53" fill="#ffb4b4"/>
<rect x="0.00" y="0.00" width="2.53" height="2.53" fill="#ffd4d4"/>
<rect x="0.00" y="2.48" width="2.53" height="2.53" fill="#ffb4b4"/>
<rect x="2.48" y="-4.96" width="2.53" height="2.53" fill="#ffe0e0"/>
<rect x="2.48" y="-2.48" width="2.53" height="2.53" fill="#ffb4b4"/>
<rect x="2.48" y="0.00" width="2.53" height="2.53" fill="#ffffff"/>
<rect x="2.48" y="2.48" width="2.53" height="2.53" fill="#ffc8c8"/>
</g>
<g transform="translate(172.80,476.15) rotate(45)">
<rect x="-4.96" y="-4.96" width="2.53" height="2.53" fill="#ffffff"/>
<rect x="-4.96" y="-2.48" width="2.53" height="2.53" fill="#dadaff"/>
<rect x="-4.96" y="0.00" width="2.53" height="2.53" fill="#ffe0e0"/>
<rect x="-4.96" y="2.48" width="2.53" height="2.53" fill="#ffe0e0"/>
<rect x="-2.48" y="-4.96" width="2.53" height="2.53" fill="#ffffff"/>
<rect x="-2.48" y="-2.48" width="2.53" height="2.53" fill="#e4e4ff"/>
<rect x="-2.48" y="0.00" width="2.53" height="2.53" fill="#ffe0e0"/>
<rect x="-2.48" y="2.48" width="2.53" height="2.53" fill="#ffffff"/>
<rect x="0.00" y="-4.96" width="2.53" height="2.53" fill="#ffffff"/>
<rect x="0.00" y="-2.48" width="2.53" height="2.53" fill="#ffffff"/>
<rect x="0.00" y="0.00" width="2.53" height="2.53" fill="#dadaff"/>
<rect x="0.00" y="2.48" width="2.53" height="2.53" fill="#ffffff"/>
<rect x="2.48" y="-4.96" width="2.53" height="2.53" fill="#ffffff"/>
<rect x="2.48" y="-2.48" width="2.53" height="2.53" fill="#fff4f4"/>
<rect x="2.48" y="0.00" width="2.53" height="2.53" fill="#ffe0e0"/>
<rect x="2.48" y="2.48" width="2.53" height="2.53" fill="#ffffff"/>
</g>
<g transform="translate(192.70,476.15) rotate(45)">
<rect x="-4.96" y="-4.96" width="2.53" height="2.53" fill="#c4c4ff"/>
<rect x="-4.96" y="-2.48" width="2.53" height="2.53" fill="#ffe0e0"/>
<rect x="-4.96" y="0.00" width="2.53" height="2.53" fill="#ffe0e0"/>
<rect x="-4.96" y="2.48" width="2.53" height="2.53" fill="#ffd6d6"/>
<rect x="-2.48" y="-4.96" width="2.53" height="2.53" fill="#c4c4ff"/>
<rect x="-2.48" y="-2.48" width="2.53" height="2.53" fill="#c4c4ff"/>
<rect x="-2.48" y="0.00" width="2.53" height="2.53" fill="#ffffff"/>
<rect x="-2.48" y="2.48" width="2.53" height="2.53" fill="#e6e6ff"/>
<rect x="0.00" y="-4.96" width="2.53" height="2.53" fill="#c4c4ff"/>
<rect x="0.00" y="-2.48" width="2.53" height="2.53" fill="#ffe0e0"/>
<rect x="0.00" y="0.00" width="2.53" height="2.53" fill="#ffe0e0"/>
<rect x="0.00" y="2.48" width="2.53" height="2.53" fill="#e6e6ff"/>
<rect x="2.48" y="-4.96" width="2.53" height="2.53" fill="#c4c4ff"/>
<rect x="2.48" y="-2.48" width="2.53" height="2.53" fill="#ffe0e0"/>
<rect x="2.48" y="0.00" width="2.53" height="2.53" fill="#ffe0e0"/>
<rect x="2.48" y="2.48" width="2.53" height="2.53" fill="#e6e6ff"/>
</g>
<g transform="translate(160.55,486.10) rotate(45)">
<rect x="-4.96" y="-4.96" width="2.53" height="2.53" fill="#ffffff"/>
<rect x="-4.96" y="-2.48" width="2.53" height="2.53" fill="#8a8a8a"/>
<rect x="-4.96" y="0.00" width="2.53" height="2.53" fill="#e4e4ff"/>
<rect x="-4.96" y="2.48" width="2.53" height="2.53" fill="#dadaff"/>
<rect x="-2.48" y="-4.96" width="2.53" height="2.53" fill="#ffffff"/>
<rect x="-2.48" y="-2.48" width="2.53" height="2.53" fill="#8a8a8a"/>
<rect x="-2.48" y="0.00" width="2.53" height="2.53" fill="#ffe0e0"/>
<rect x="-2.48" y="2.48" width="2.53" height="2.53" fill="#ffe0e0"/>
<rect x="0.00" y="-4.96" width="2.53" height="2.53" fill="#ffffff"/>
<rect x="0.00" y="-2.48" width="2.53" height="2.53" fill="#8a8a8a"/>
<rect x="0.00" y="0.00" width="2.53" height="2.53" fill="#e4e4ff"/>
<rect x="0.00" y="2.48" width="2.53" height="2.53" fill="#dadaff"/>
<rect x="2.48" y="-4.96" width="2.53" height="2.53" fill="#ffffff"/>
<rect x="2.48" y="-2.48" width="2.53" height="2.53" fill="#8a8a8a"/>
<rect x="2.48" y="0.00" width="2.53" height="2.53" fill="#dadaff"/>
<rect x="2.48" y="2.48" width="2.53" height="2.53" fill="#fff4f4"/>
</g>
<g transform="translate(180.45,483.80) rotate(45)">
<rect x="-4.96" y="-4.96" width="2.53" height="2.53" fill="#ffd6d6"/>
<rect x="-4.96" y="-2.48" width="2.53" height="2.53" fill="#ffffff"/>
<rect x="-4.96" y="0.00" width="2.53" height="2.53" fill="#e6e6ff"/>
<rect x="-4.96" y="2.48" width="2.53" height="2.53" fill="#a8a8ff"/>
<rect x="-2.48" y="-4.96" width="2.53" height="2.53" fill="#ffd6d6"/>
<rect x="-2.48" y="-2.48" width="2.53" height="2.53" fill="#ffffff"/>
<rect x="-2.48" y="0.00" width="2.53" height="2.53" fill="#e6e6ff"/>
<rect x="-2.48" y="2.48" width="2.53" height="2.53" fill="#a8a8ff"/>
<rect x="0.00" y="-4.96" width="2.53" height="2.53" fill="#ffd6d6"/>
<rect x="0.00" y="-2.48" width="2.53" height="2.53" fill="#ffffff"/>
<rect x="0.00" y="0.00" width="2.53" height="2.53" fill="#e6e6ff"/>
<rect x="0.00" y="2.48" width="2.53" height="2.53" fill="#a8a8ff"/>
<rect x="2.48" y="-4.96" width="2.53" height="2.53" fill="#ffd6d6"/>
<rect x="2.48" y="-2.48" width="2.53" height="2.53" fill="#ffffff"/>
<rect x="2.48" y="0.00" width="2.53" height="2.53" fill="#e6e6ff"/>
<rect x="2.48" y="2.48" width="2.53" height="2.53" fill="#c4c4ff"/>
</g>
<g transform="translate(172.80,496.05) rotate(45)">
<rect x="-4.96" y="-4.96" width="2.53" height="2.53" fill="#eeeeff"/>
<rect x="-4.96" y="-2.48" width="2.53" height="2.53" fill="#ffd4d4"/>
<rect x="-4.96" y="0.00" width="2.53" height="2.53" fill="#ffffff"/>
<rect x="-4.96" y="2.48" width="2.53" height="2.53" fill="#ffd4d4"/>
<rect x="-2.48" y="-4.96" width="2.53" height="2.53" fill="#eeeeff"/>
<rect x="-2.48" y="-2.48" width="2.53" height="2.53" fill="#ffd4d4"/>
<rect x="-2.48" y="0.00" width="2.53" height="2.53" fill="#ffd4d4"/>
<rect x="-2.48" y="2.48" width="2.53" height="2.53" fill="#ffc8c8"/>
<rect x="0.00" y="-4.96" width="2.53" height="2.53" fill="#eeeeff"/>
<rect x="0.00" y="-2.48" width="2.53" height="2.53" fill="#ffc8c8"/>
<rect x="0.00" y="0.00" width="2.53" height="2.53" fill="#ffffff"/>
<rect x="0.00" y="2.48" width="2.53" height="2.53" fill="#ffd4d4"/>
<rect x="2.48" y="-4.96" width="2.53" height="2.53" fill="#eeeeff"/>
<rect x="2.48" y="-2.48" width="2.53" height="2.53" fill="#ffd4d4"/>
<rect x="2.48" y="0.00" width="2.53" height="2.53" fill="#ffffff"/>
<rect x="2.48" y="2.48" width="2.53" height="2.53" fill="#ffd4d4"/>
</g>
<path d="M90.90,406.5 L180.45,496.05 M90.90,406.5 L80.95,416.45 M110.80,406.5 L190.40,486.10 M110.80,406.5 L90.90,426.40 M130.70,406.5 L200.35,476.15 M130.70,406.5 L100.85,436.35 M150.60,406.5 L210.30,466.20 M150.60,406.5 L110.80,446.30 M170.50,406.5 L220.25,456.25 M170.50,406.5 L120.75,456.25 M190.40,406.5 L230.20,446.30 M190.40,406.5 L130.70,466.20 M210.30,406.5 L240.15,436.35 M210.30,406.5 L140.65,476.15 M230.20,406.5 L250.10,426.40 M230.20,406.5 L150.60,486.10 M250.10,406.5 L260.05,416.45 M250.10,406.5 L160.55,496.05" stroke="#222" stroke-width="0.85" fill="none"/>
<polygon points="71.80,406.5 75.60,406.5 73.70,408.9" fill="#3030ff"/>
<polygon points="76.60,406.5 80.40,406.5 78.50,408.9" fill="#3030ff"/>
<polygon points="81.40,406.5 85.20,406.5 83.30,408.9" fill="#1010ee"/>
<polygon points="91.70,406.5 95.50,406.5 93.60,408.9" fill="#1010ee"/>
<polygon points="96.50,406.5 100.30,406.5 98.40,408.9" fill="#6a6aff"/>
<polygon points="101.30,406.5 105.10,406.5 103.20,408.9" fill="#8a8aff"/>
<polygon points="111.60,406.5 115.40,406.5 113.50,408.9" fill="#3030ff"/>
<polygon points="116.40,406.5 120.20,406.5 118.30,408.9" fill="#8a8aff"/>
<polygon points="121.20,406.5 125.00,406.5 123.10,408.9" fill="#5050ff"/>
<polygon points="131.50,406.5 135.30,406.5 133.40,408.9" fill="#6a6aff"/>
<polygon points="136.30,406.5 140.10,406.5 138.20,408.9" fill="#8a8aff"/>
<polygon points="141.10,406.5 144.90,406.5 143.00,408.9" fill="#3030ff"/>
<polygon points="151.40,406.5 155.20,406.5 153.30,408.9" fill="#3030ff"/>
<polygon points="161.00,406.5 164.80,406.5 162.90,408.9" fill="#1010ee"/>
<polygon points="171.30,406.5 175.10,406.5 173.20,408.9" fill="#6a6aff"/>
<polygon points="176.10,406.5 179.90,406.5 178.00,408.9" fill="#1010ee"/>
<polygon points="180.90,406.5 184.70,406.5 182.80,408.9" fill="#6a6aff"/>
<polygon points="191.20,406.5 195.00,406.5 193.10,408.9" fill="#3030ff"/>
<polygon points="196.00,406.5 199.80,406.5 197.90,408.9" fill="#6a6aff"/>
<polygon points="200.80,406.5 204.60,406.5 202.70,408.9" fill="#6a6aff"/>
<polygon points="211.10,406.5 214.90,406.5 213.00,408.9" fill="#3030ff"/>
<polygon points="215.90,406.5 219.70,406.5 217.80,408.9" fill="#3030ff"/>
<polygon points="220.70,406.5 224.50,406.5 222.60,408.9" fill="#5050ff"/>
<polygon points="231.00,406.5 234.80,406.5 232.90,408.9" fill="#5050ff"/>
<polygon points="235.80,406.5 239.60,406.5 237.70,408.9" fill="#3030ff"/>
<polygon points="240.60,406.5 244.40,406.5 242.50,408.9" fill="#6a6aff"/>
<polygon points="250.90,406.5 254.70,406.5 252.80,408.9" fill="#3030ff"/>
<polygon points="255.70,406.5 259.50,406.5 257.60,408.9" fill="#8a8aff"/>
<polygon points="260.50,406.5 264.30,406.5 262.40,408.9" fill="#8a8aff"/>
<text x="59.7" y="548.6" font-size="18"><tspan font-style="italic">K</tspan><tspan font-size="12.5" dy="3.6">D</tspan></text>
<text x="78.2" y="548.6" font-size="18">(</text>
<text x="85.6" y="548.6" font-size="18" textLength="110.2" lengthAdjust="spacingAndGlyphs">TTTAATTGGT</text>
<text x="201.4" y="548.6" font-size="18">) = 3.9 nM</text>
<text x="373.5" y="267.8" font-size="21" font-weight="bold" stroke="#000" stroke-width="0.45">c</text>
<text x="461.6" y="278.5" font-size="18" text-anchor="start" >Model consistency</text>
<path d="M440.4,298.2 V416.8 H676" fill="none" stroke="#777" stroke-width="1.2"/>
<line x1="440.3" y1="300.4" x2="445.4" y2="300.4" stroke="#777" stroke-width="1.2"/>
<line x1="440.3" y1="333.4" x2="445.4" y2="333.4" stroke="#777" stroke-width="1.2"/>
<line x1="440.3" y1="366.4" x2="445.4" y2="366.4" stroke="#777" stroke-width="1.2"/>
<line x1="440.3" y1="399.4" x2="445.4" y2="399.4" stroke="#777" stroke-width="1.2"/>
<text x="433.1" y="306.9" font-size="18" text-anchor="end">10<tspan font-size="12.5" dy="-7.8">0</tspan></text>
<text x="433.1" y="339.5" font-size="18" text-anchor="end">10<tspan font-size="12.5" dy="-7.8">−1</tspan></text>
<text x="433.1" y="372.9" font-size="18" text-anchor="end">10<tspan font-size="12.5" dy="-7.8">−2</tspan></text>
<text x="433.1" y="406.8" font-size="18" text-anchor="end">10<tspan font-size="12.5" dy="-7.8">−3</tspan></text>
<text transform="translate(390,357.3) rotate(-90)" font-size="18" text-anchor="middle">Bound fraction</text>
<path d="M440.5,441.5 V562.3 H676" fill="none" stroke="#777" stroke-width="1.2"/>
<line x1="440.5" y1="450.0" x2="445.5" y2="450.0" stroke="#777" stroke-width="1.2"/>
<line x1="440.5" y1="483.6" x2="445.5" y2="483.6" stroke="#777" stroke-width="1.2"/>
<line x1="440.5" y1="528.0" x2="445.5" y2="528.0" stroke="#777" stroke-width="1.2"/>
<line x1="486.4" y1="562.3" x2="486.4" y2="557" stroke="#777" stroke-width="1.2"/>
<line x1="543.9" y1="562.3" x2="543.9" y2="557" stroke="#777" stroke-width="1.2"/>
<line x1="601.3" y1="562.3" x2="601.3" y2="557" stroke="#777" stroke-width="1.2"/>
<line x1="657.8" y1="562.3" x2="657.8" y2="557" stroke="#777" stroke-width="1.2"/>
<text x="430.0" y="455.2" font-size="18" text-anchor="end" >1</text>
<text x="431.5" y="489.1" font-size="18" text-anchor="end" >.5</text>
<text x="431.5" y="533.8" font-size="18" text-anchor="end" >.2</text>
<text transform="translate(389.1,502.6) rotate(-90)" font-size="18" text-anchor="middle">Free fraction</text>
<text x="471.9" y="588.7" font-size="18" text-anchor="start">10<tspan font-size="12.5" dy="-7.8">−4</tspan></text>
<text x="529.4" y="588.7" font-size="18" text-anchor="start">10<tspan font-size="12.5" dy="-7.8">−3</tspan></text>
<text x="586.8" y="588.7" font-size="18" text-anchor="start">10<tspan font-size="12.5" dy="-7.8">−2</tspan></text>
<text x="643.3" y="588.7" font-size="18" text-anchor="start">10<tspan font-size="12.5" dy="-7.8">−1</tspan></text>
<text x="470.7" y="618.9" font-size="18">Predicted 1/<tspan font-style="italic">K</tspan><tspan font-size="12.5" dy="4">D</tspan><tspan dy="-4"> (nM</tspan><tspan font-size="12.5" dy="-7.8">−1</tspan><tspan dy="7.8">)</tspan></text>
<path d="M467.7 376.1h0M452.7 384.6h0M452.7 384.7h0M469.2 377.3h0M441.8 384.7h0M465.5 378.8h0M456.6 380.3h0M466.0 379.2h0M549.6 332.4h0M474.3 373.2h0M496.2 361.1h0M449.6 383.3h0M542.9 334.9h0M447.7 387.4h0M461.1 378.6h0M443.3 392.8h0M450.4 387.2h0M494.5 360.7h0M472.6 376.6h0M451.2 387.5h0M496.2 362.0h0M449.4 387.1h0M492.2 363.8h0M489.8 365.4h0M446.1 386.0h0M443.5 399.7h0M450.0 385.9h0M462.9 381.0h0M583.8 315.8h0M478.4 372.1h0M512.5 349.8h0M458.6 382.7h0M449.3 385.3h0M447.0 388.1h0M453.9 376.5h0M512.1 352.3h0M559.1 326.4h0M471.8 374.2h0M485.8 366.5h0M539.9 335.7h0M526.1 345.1h0M443.7 391.2h0M442.6 390.5h0M494.1 363.4h0M484.7 368.1h0M446.3 392.6h0M459.3 382.8h0M453.0 387.7h0M444.8 390.4h0M453.3 382.4h0M482.7 365.5h0M450.2 380.0h0M458.5 380.8h0M465.3 378.6h0M463.8 379.9h0M444.1 393.0h0M484.1 368.0h0M507.7 353.8h0M442.6 390.6h0M451.1 383.9h0M470.6 375.3h0M463.4 381.9h0M471.5 371.7h0M475.5 371.4h0M504.3 356.9h0M442.0 392.9h0M576.4 319.4h0M481.6 369.0h0M458.6 381.7h0M469.2 374.1h0M565.5 323.4h0M454.1 383.0h0M560.2 326.6h0M464.9 376.4h0M490.4 363.1h0M454.7 384.8h0M443.0 390.9h0M462.2 379.9h0M513.0 351.7h0M466.1 378.0h0M451.0 384.9h0M491.9 364.6h0M460.2 379.8h0M498.8 360.2h0M450.1 386.1h0M542.5 335.9h0M460.2 379.2h0M602.3 311.2h0M442.2 388.7h0M455.0 386.4h0M457.4 380.6h0M452.6 381.9h0M583.2 315.2h0M498.6 360.0h0M538.2 337.6h0M454.7 386.7h0M475.9 371.9h0M457.0 382.3h0M593.6 312.4h0M464.4 379.7h0M464.4 375.3h0M442.7 385.1h0M541.2 338.1h0M505.2 355.7h0M469.5 376.1h0M491.0 363.2h0M476.6 372.0h0M500.4 359.0h0M499.1 360.2h0M444.4 391.8h0M527.1 344.9h0M458.3 379.4h0M456.9 381.0h0M525.4 344.4h0M489.3 365.2h0M481.6 369.3h0M456.1 382.5h0M459.2 380.0h0M448.8 388.4h0M444.7 391.9h0M459.5 380.6h0M481.3 370.4h0M456.5 383.9h0M457.7 381.0h0M519.3 348.9h0M470.8 377.5h0M462.3 378.4h0M450.0 383.1h0M441.8 387.6h0M537.2 338.8h0M488.8 364.1h0M459.1 382.0h0M464.9 378.5h0M540.5 337.2h0M622.9 307.0h0M451.0 386.5h0M512.8 351.8h0M443.4 384.0h0M498.5 360.8h0M525.6 344.6h0M444.4 391.6h0M445.1 389.7h0M524.1 348.0h0M476.3 373.8h0M480.3 369.4h0M454.2 382.4h0M483.3 368.3h0M463.2 379.7h0M474.5 372.2h0M483.0 368.1h0M459.5 382.9h0M502.4 356.3h0M542.9 334.3h0M471.8 373.6h0M510.0 352.6h0M458.3 381.5h0M443.0 387.2h0M453.1 383.1h0M459.7 384.1h0M460.3 378.4h0M472.8 373.1h0M443.9 387.0h0M455.8 387.6h0M549.1 331.0h0M454.3 382.2h0M575.6 320.3h0M478.4 369.1h0M519.8 346.4h0M605.5 309.2h0M458.7 381.4h0M478.3 369.0h0M500.6 358.1h0M463.4 383.0h0M522.0 347.4h0M468.1 378.9h0M466.1 379.3h0M443.9 386.4h0M459.8 382.3h0M470.0 372.0h0M508.9 355.4h0M459.4 377.7h0M459.8 382.1h0M488.3 365.1h0M441.6 392.3h0M508.3 355.2h0M485.3 369.3h0M464.8 375.9h0M470.8 371.1h0M453.4 384.1h0M460.8 378.3h0M462.2 383.3h0M531.1 340.5h0M444.4 386.9h0M490.4 363.9h0M562.7 326.4h0M457.0 380.5h0M474.4 371.7h0M466.7 377.2h0M451.1 384.8h0M511.4 351.6h0M443.8 395.0h0M502.2 357.9h0M571.5 322.4h0M535.0 339.2h0M490.9 363.7h0M460.1 378.0h0M443.4 390.0h0M462.0 378.7h0M488.4 365.8h0M480.1 369.1h0M454.0 387.0h0M449.1 383.4h0M445.3 395.6h0M535.4 339.5h0M494.9 361.7h0M472.3 375.8h0M456.1 384.9h0M471.3 373.5h0M464.2 376.9h0M450.2 385.6h0M451.3 389.6h0M486.0 367.6h0M574.5 320.3h0M450.1 384.3h0M508.3 353.6h0M469.5 376.3h0M492.7 363.4h0M449.5 385.1h0M445.2 392.0h0M482.7 366.8h0M453.0 389.1h0M450.9 382.2h0M453.1 384.8h0M452.1 386.3h0M515.1 351.1h0M474.4 375.7h0M479.4 369.5h0M442.6 386.9h0M462.3 382.3h0M466.0 379.8h0M548.4 331.9h0M443.3 394.2h0M602.4 310.5h0M554.8 330.8h0M586.9 315.0h0M467.1 373.5h0M467.5 377.8h0M484.6 368.7h0M524.1 345.9h0M445.8 385.2h0M574.9 320.9h0M539.0 336.5h0M482.3 368.8h0M443.9 386.2h0M513.8 350.9h0M582.8 316.4h0M491.6 361.9h0M576.7 318.8h0M455.3 382.5h0M451.6 385.5h0M481.1 368.3h0M447.6 387.8h0M495.7 361.9h0M451.5 386.9h0M447.9 386.7h0M487.3 367.0h0M443.5 384.2h0M605.7 309.6h0M608.1 309.0h0M495.5 361.7h0M452.8 388.4h0M502.0 356.5h0M443.0 389.8h0M556.9 328.5h0M446.1 386.8h0M445.9 381.0h0M462.4 377.2h0M541.2 336.4h0M442.4 390.7h0M468.6 377.0h0M546.4 332.6h0M493.6 362.7h0M446.9 380.9h0M497.3 361.6h0M508.0 354.0h0M577.9 318.5h0M442.5 395.1h0M441.3 391.5h0M463.1 379.2h0M442.1 389.6h0M475.8 371.6h0M471.9 372.4h0M455.1 384.8h0M509.6 353.8h0M590.7 313.4h0M450.2 384.5h0M452.6 387.8h0M470.1 371.3h0M457.7 384.6h0M471.3 373.3h0M465.4 375.1h0M452.4 383.7h0M450.2 388.2h0M524.5 344.0h0M545.6 332.6h0M506.8 353.8h0M449.3 388.8h0M530.2 341.2h0M500.3 358.8h0M453.6 384.3h0M528.3 342.0h0M527.7 344.6h0M555.0 331.0h0M454.0 385.4h0M591.8 312.8h0M442.8 393.4h0M470.9 377.2h0M458.1 381.5h0M497.8 360.2h0M483.3 366.8h0M448.1 384.4h0M455.0 388.1h0M549.9 329.7h0M455.2 382.7h0M441.9 392.7h0M450.9 386.6h0M454.9 384.2h0M467.5 379.2h0M459.4 381.3h0M445.3 384.1h0M477.5 374.4h0M468.6 378.3h0M492.9 363.4h0M452.1 384.1h0M493.0 361.4h0M461.0 382.1h0M519.6 348.2h0M483.3 367.3h0M471.2 374.6h0M481.8 368.5h0M445.6 393.7h0M444.6 390.1h0M454.3 381.5h0M449.6 386.0h0M458.9 379.3h0M484.9 366.4h0M462.3 380.1h0M453.6 387.3h0M516.8 348.2h0M575.4 319.7h0M489.2 363.4h0M479.0 372.8h0M449.8 383.5h0M455.7 380.1h0M492.9 362.4h0M458.9 384.4h0M442.8 389.5h0M472.7 370.9h0M471.7 371.6h0M468.9 378.8h0M454.7 383.4h0M470.7 370.7h0M476.0 371.8h0M499.6 357.8h0M462.8 379.8h0M551.0 330.4h0M492.1 364.9h0M457.8 378.6h0M441.5 393.4h0M514.8 349.9h0M445.1 390.2h0M464.8 378.0h0M511.3 352.8h0M455.4 384.4h0M454.2 379.6h0M474.4 374.1h0M475.4 374.9h0M461.5 376.4h0M481.3 369.8h0M449.4 390.4h0M456.9 382.9h0M559.8 328.2h0M472.1 374.6h0M591.1 311.9h0M458.1 385.2h0M452.1 382.9h0M463.3 378.4h0M456.7 382.5h0M441.2 396.2h0M466.4 379.7h0M475.7 375.4h0M459.8 378.0h0M467.7 378.0h0M449.7 385.1h0M577.1 318.8h0M513.7 350.5h0M489.7 362.7h0M517.1 349.5h0M443.4 396.3h0M453.9 385.9h0M443.4 389.8h0M470.4 376.8h0M472.9 373.1h0M523.6 345.2h0M468.8 374.9h0M441.2 396.5h0M571.2 320.1h0M444.4 387.2h0M491.7 363.7h0M446.1 388.2h0M463.7 380.5h0M504.0 357.2h0M539.2 338.3h0M503.1 357.0h0M465.2 379.4h0M530.4 341.7h0M450.3 384.5h0M581.0 316.5h0M486.1 366.0h0M458.0 381.1h0M609.1 307.6h0M472.9 374.7h0M465.5 378.0h0M448.2 386.7h0M441.8 391.5h0M489.9 364.5h0M582.1 317.0h0M445.5 394.5h0M529.9 342.7h0M448.2 387.2h0M447.2 388.6h0M446.4 391.0h0M463.7 377.8h0M455.3 384.0h0M458.5 381.8h0M458.0 380.4h0M526.6 343.0h0M490.5 364.3h0M448.0 382.7h0M444.9 392.3h0M474.1 369.8h0M520.1 347.0h0M556.8 328.0h0M445.7 390.6h0M454.6 384.9h0M510.7 352.3h0M483.2 368.0h0M469.9 378.7h0M440.9 390.6h0M443.0 399.3h0M510.5 354.1h0M458.8 380.4h0M482.2 370.9h0M448.8 390.6h0M511.6 351.8h0M481.0 371.5h0M441.9 389.8h0M510.4 351.4h0M441.5 394.9h0M531.7 342.1h0M455.8 385.5h0M518.1 347.3h0M481.3 370.4h0M476.7 371.5h0M451.6 382.6h0M442.8 392.6h0M497.3 359.9h0M499.3 357.0h0M458.9 379.3h0M442.3 388.7h0M446.4 384.2h0M461.8 379.2h0M449.2 392.1h0M445.7 392.3h0M556.3 328.5h0M442.5 394.6h0M552.3 329.8h0M448.9 387.6h0M453.5 385.1h0M443.3 388.2h0M486.9 365.4h0M527.0 342.7h0M512.7 352.7h0M447.2 391.1h0M460.2 377.0h0M445.1 389.2h0M477.8 370.1h0M572.8 320.2h0M473.4 371.3h0M515.9 350.9h0M457.5 380.2h0M456.2 380.0h0M481.2 370.0h0M451.0 385.0h0M532.1 340.6h0M446.1 383.9h0M451.2 385.5h0M456.3 381.2h0M460.5 379.9h0M550.1 331.7h0M445.2 393.2h0M518.3 347.7h0M512.8 349.8h0M532.7 341.5h0M500.0 360.0h0M444.1 387.4h0M522.5 347.9h0M463.7 379.3h0M467.8 374.6h0M482.7 366.1h0M444.1 391.0h0M463.1 378.6h0M455.1 382.6h0M534.5 338.2h0M486.4 367.9h0M459.8 378.0h0M451.3 385.1h0M448.5 385.5h0M609.8 307.7h0M503.5 355.8h0M501.9 357.5h0M447.1 386.7h0M463.7 383.1h0M478.2 371.9h0M462.6 375.9h0M482.2 368.9h0M446.2 385.3h0M441.8 403.8h0M441.7 388.8h0M472.7 374.8h0M444.6 394.9h0M448.1 382.0h0M453.6 388.0h0M497.4 360.5h0M473.7 376.4h0M612.1 306.9h0M453.6 388.4h0M448.8 388.5h0M442.5 387.5h0M473.1 373.9h0M487.9 364.9h0M449.3 383.4h0M470.6 375.0h0M455.3 380.9h0M442.5 393.8h0M591.3 313.5h0M441.5 394.7h0M455.8 383.0h0M505.6 357.0h0M462.9 376.6h0M502.2 357.7h0M475.1 369.7h0M522.0 344.6h0M470.4 377.0h0M488.5 364.2h0M479.1 370.0h0M452.2 388.4h0M442.8 396.1h0M518.6 348.5h0M452.1 384.4h0M459.6 380.0h0M542.0 335.8h0M449.9 383.5h0M474.2 374.9h0M441.3 401.3h0M442.1 390.1h0M451.6 390.6h0M486.0 364.2h0M466.2 377.1h0M454.7 382.7h0M449.1 387.5h0M534.0 340.9h0M470.7 377.5h0M506.1 355.7h0M464.7 383.0h0M481.1 368.1h0M477.3 374.4h0M499.0 358.5h0M481.7 368.3h0M508.8 353.8h0M459.9 379.2h0M441.4 393.4h0M456.3 382.2h0M442.6 386.7h0M500.0 360.8h0M462.8 382.1h0M512.2 351.1h0M583.0 314.5h0M509.6 353.8h0M522.5 346.0h0M456.2 385.1h0M482.8 369.3h0M445.4 385.7h0M576.9 319.2h0M441.1 400.2h0M468.2 376.5h0M501.4 358.3h0M513.1 349.7h0M490.2 363.7h0M446.8 380.1h0M445.8 386.4h0M458.1 381.6h0M449.5 388.0h0M479.9 371.9h0M532.2 339.2h0M472.0 377.5h0M445.5 388.9h0M442.9 389.5h0M441.6 386.6h0M481.4 369.5h0M455.0 386.0h0M467.5 374.3h0M456.1 384.7h0M440.7 387.4h0M442.9 388.2h0M552.7 329.9h0M446.3 391.2h0M457.1 384.2h0M468.0 376.8h0M515.3 351.8h0M482.4 369.7h0M446.7 394.1h0M468.6 377.8h0M443.1 389.2h0M443.7 387.8h0M479.2 371.9h0M516.3 349.9h0M450.7 381.9h0M535.6 337.5h0M483.3 368.2h0M452.5 383.6h0M460.0 381.8h0M508.7 354.7h0M447.3 386.3h0M440.8 391.6h0M463.9 380.8h0M445.8 384.5h0M445.9 387.5h0M589.3 313.3h0M528.1 344.0h0M449.4 385.8h0M463.7 380.4h0M513.1 353.2h0M533.2 340.1h0M556.6 329.2h0M470.9 376.7h0M460.1 382.2h0M462.6 378.7h0M471.0 374.0h0M442.9 390.5h0M503.8 354.8h0M446.9 386.6h0M478.0 370.6h0M460.9 383.1h0M451.4 388.5h0M536.7 338.6h0M445.5 401.8h0M474.9 372.9h0M474.2 371.6h0M513.9 352.7h0M551.6 328.8h0M454.0 383.0h0M450.6 386.2h0M491.2 365.0h0M504.1 357.5h0M539.1 334.8h0M457.8 379.8h0M512.4 351.4h0M503.5 355.9h0M466.9 378.5h0M470.0 374.0h0M461.5 379.5h0M471.4 371.8h0M496.6 360.4h0M448.8 387.6h0M447.4 388.4h0M464.2 376.4h0M482.6 367.6h0M573.0 322.0h0M452.8 382.4h0M486.3 367.4h0M465.2 382.4h0M443.9 397.0h0M495.6 359.3h0M476.8 369.4h0M444.0 386.8h0M464.2 379.7h0M447.1 388.8h0M447.3 377.6h0M511.1 355.5h0M462.0 378.2h0M456.4 378.2h0M468.5 373.9h0M473.5 371.6h0M452.0 380.0h0M551.7 329.8h0M450.1 383.3h0M451.9 382.8h0M499.3 359.3h0M455.3 383.1h0M482.0 368.6h0M514.1 349.8h0M467.2 374.6h0M489.5 367.9h0M449.6 387.1h0M470.8 371.5h0M468.9 376.5h0M464.9 380.9h0M472.8 376.0h0M457.4 381.0h0M464.3 379.1h0M452.1 383.9h0M448.1 382.6h0M482.6 366.3h0M455.2 385.9h0M447.6 390.7h0M441.9 397.4h0M446.3 392.9h0M461.8 373.7h0M496.0 360.5h0M445.5 393.5h0M544.0 335.7h0M462.3 381.1h0M445.4 384.8h0M467.4 375.4h0M440.8 393.2h0M451.1 385.3h0M460.9 381.2h0M469.4 373.9h0M453.3 386.0h0M446.7 386.6h0M445.5 400.1h0M441.1 398.7h0M494.9 361.1h0M498.6 358.6h0M443.1 395.0h0M477.0 369.4h0M507.0 352.5h0M503.9 356.8h0M450.8 388.7h0M474.7 370.6h0M450.5 384.4h0M454.4 382.6h0M476.6 371.8h0M487.1 367.4h0M478.5 369.5h0M469.9 373.7h0M488.3 361.9h0M524.5 346.8h0M441.3 392.8h0M505.2 355.2h0M457.7 384.4h0M480.1 369.9h0M540.2 337.2h0M540.0 335.9h0M447.7 383.5h0M552.6 331.3h0M463.3 378.4h0M510.0 354.9h0M463.2 378.5h0M451.1 388.2h0M488.8 365.2h0M479.3 372.2h0M507.8 356.7h0M447.7 394.2h0M457.7 380.6h0M459.0 383.1h0M485.4 368.2h0M484.6 369.0h0M459.8 376.8h0M454.9 382.9h0M443.4 389.0h0M446.4 388.4h0M459.8 379.5h0M454.0 383.2h0M468.2 375.9h0M497.1 357.8h0M481.0 367.6h0M453.6 384.5h0M441.6 392.7h0M487.5 364.9h0M453.3 384.9h0M457.5 379.4h0M503.8 357.0h0M446.6 389.6h0M488.1 366.8h0M477.6 370.1h0M491.0 364.4h0M452.7 387.4h0M458.5 378.9h0M605.5 309.0h0M468.5 374.6h0M474.6 372.1h0M478.9 371.7h0M467.5 378.8h0M447.1 388.2h0M488.3 365.9h0M458.7 375.6h0M452.0 384.4h0M466.1 376.4h0M536.2 338.4h0M459.7 379.2h0M466.7 378.3h0M478.5 371.2h0M466.2 381.7h0M448.0 387.4h0M480.1 370.2h0M462.5 384.5h0M490.1 363.4h0M566.1 322.8h0M489.7 362.7h0M477.0 374.0h0M444.8 400.0h0M450.0 390.5h0M484.1 368.2h0M470.1 373.4h0M468.2 376.0h0M443.5 394.4h0M443.8 388.8h0M465.8 379.8h0M477.1 372.0h0M452.0 389.2h0M441.6 386.4h0M487.0 366.1h0M461.4 380.4h0M488.4 364.1h0M575.6 319.4h0M443.0 395.4h0M517.9 348.1h0M474.0 373.3h0M467.2 376.7h0M464.4 379.7h0M452.2 387.4h0M448.8 385.2h0M467.8 374.8h0M456.6 379.0h0M447.6 391.2h0M532.2 341.7h0M454.5 380.8h0M453.3 384.6h0M494.3 362.1h0M463.7 380.3h0M455.5 382.7h0M455.4 382.3h0M467.8 372.2h0M495.5 362.4h0M446.2 385.0h0M551.6 331.1h0M444.5 390.3h0M458.9 384.2h0M457.3 383.2h0M513.2 350.2h0M448.5 392.0h0M443.2 397.0h0M472.1 373.2h0M584.8 315.1h0M476.2 374.9h0M459.6 383.1h0M448.0 388.5h0M446.2 388.7h0M441.6 387.9h0M449.2 385.0h0M476.0 371.0h0M443.8 395.8h0M562.3 323.7h0M456.7 382.3h0M441.2 391.5h0M518.7 348.4h0M490.9 363.8h0M456.2 380.6h0M486.2 367.7h0M473.4 375.5h0M489.2 363.6h0M479.5 366.9h0M453.4 383.2h0M485.7 368.3h0M475.4 372.4h0M444.9 391.4h0M474.8 372.6h0M604.1 308.7h0M480.2 368.6h0M477.0 366.3h0M449.8 391.1h0M472.4 374.4h0M562.1 324.1h0M453.1 387.7h0M575.7 321.2h0M553.4 330.5h0M447.4 385.0h0M446.4 391.7h0M445.3 390.7h0M500.5 358.3h0M488.6 365.5h0M442.9 402.1h0M448.1 382.1h0M479.4 371.2h0M487.0 366.5h0M459.9 380.2h0M551.2 332.1h0M445.5 386.1h0M474.9 376.2h0M461.3 382.4h0M483.8 367.7h0M445.5 395.1h0M475.5 369.8h0M452.5 387.0h0M534.8 339.8h0M488.8 366.1h0M460.2 381.7h0M463.6 377.0h0M487.0 365.5h0M453.0 385.9h0M442.1 392.1h0M482.4 369.2h0M454.1 379.2h0M511.4 352.6h0M460.8 382.3h0M515.1 350.5h0M508.5 354.9h0M450.8 389.8h0M456.4 388.7h0M449.9 389.3h0M512.1 354.0h0M590.9 313.3h0M555.3 329.2h0M441.4 392.9h0M464.7 373.9h0M458.7 382.3h0M454.5 386.0h0M606.6 309.1h0M485.7 366.9h0M460.7 379.4h0M469.9 375.4h0M451.2 385.3h0M468.9 377.5h0M445.6 393.8h0M486.5 365.0h0M501.5 358.4h0M538.3 337.4h0M593.8 312.8h0M461.4 380.4h0M484.8 363.8h0M518.1 349.0h0M465.4 378.0h0M509.6 355.1h0M444.0 389.7h0M443.7 387.4h0M460.8 384.8h0M474.7 373.2h0M525.9 344.4h0M454.2 384.4h0M491.9 364.5h0M455.7 384.7h0M444.5 385.9h0M442.0 388.3h0M475.5 371.4h0M547.7 333.1h0M515.4 348.9h0M571.8 320.4h0M455.7 381.8h0M476.6 372.5h0M440.6 391.3h0M463.3 379.4h0M498.3 359.1h0M479.0 371.9h0M457.5 380.5h0M483.5 365.9h0M452.2 384.4h0M443.9 391.8h0M480.4 369.6h0M441.2 389.7h0M449.5 388.0h0M591.6 313.4h0M516.6 349.1h0M560.6 326.2h0M488.2 364.1h0M492.3 361.9h0M471.2 372.0h0M517.3 348.5h0M538.5 336.3h0M514.0 350.1h0M508.4 354.1h0M449.4 386.4h0M527.3 342.0h0M497.3 360.9h0M467.8 370.9h0M481.5 366.3h0M441.7 385.1h0M491.5 362.7h0M475.7 373.0h0M505.1 358.0h0M469.3 375.4h0M450.2 384.4h0M441.9 387.6h0M454.6 384.1h0M584.4 315.3h0M468.6 376.3h0M444.4 394.5h0M450.5 389.1h0M479.4 368.8h0M462.7 380.3h0M467.0 376.0h0M445.9 389.7h0M561.0 325.7h0M465.7 379.9h0M482.2 368.0h0M460.7 378.8h0M457.2 382.0h0M462.1 383.2h0M465.8 379.0h0M459.0 378.9h0M468.0 377.0h0M466.7 375.3h0M481.4 368.7h0M451.0 382.9h0M560.8 326.0h0M444.9 388.3h0M451.7 387.3h0M441.4 387.4h0M472.8 375.6h0M490.5 363.1h0M449.8 389.1h0M510.1 353.7h0M453.0 385.8h0M469.7 378.8h0M472.8 370.6h0M447.7 390.7h0M489.8 362.6h0M476.5 374.8h0M458.2 381.0h0M466.2 376.9h0M453.3 384.2h0M512.2 350.9h0M458.4 378.6h0M491.0 366.2h0M597.5 311.3h0M455.9 384.3h0M468.3 373.7h0M486.5 365.5h0M477.3 371.8h0M481.7 369.3h0M464.9 373.0h0M451.0 383.8h0M445.7 391.0h0M539.4 338.2h0M531.7 340.0h0M506.4 356.0h0M457.2 384.0h0M467.6 375.5h0M463.4 379.9h0M471.3 374.5h0M543.7 335.3h0M459.8 381.9h0M469.1 375.1h0M445.7 383.4h0M444.9 384.1h0M465.2 378.5h0M483.5 368.8h0M492.0 361.5h0M444.9 393.3h0M494.6 363.2h0M465.9 375.8h0M491.8 362.7h0M450.4 384.5h0M492.7 363.8h0M466.9 379.7h0M542.4 334.6h0M454.1 385.0h0M488.8 364.9h0M447.0 388.0h0M496.9 359.5h0M482.7 367.5h0M543.7 335.6h0M451.2 385.9h0M484.5 367.8h0M543.7 335.6h0M459.4 376.6h0M489.9 361.6h0M466.2 376.9h0M477.3 373.1h0M473.5 372.7h0M504.1 356.3h0M469.0 371.9h0M468.1 375.0h0M461.8 379.7h0M441.6 389.4h0M452.0 382.9h0M453.7 384.7h0M591.9 312.8h0M456.7 380.6h0M478.3 371.5h0M470.7 376.4h0M533.7 339.2h0M471.8 371.4h0M466.9 376.2h0M440.9 389.3h0M491.3 364.5h0M444.7 400.1h0M441.7 395.4h0M441.1 396.7h0M486.2 366.6h0M478.5 370.8h0M450.7 382.2h0M537.4 337.5h0M456.1 383.6h0M503.5 355.7h0M445.3 391.8h0M603.5 310.6h0M479.7 369.7h0M446.5 388.4h0M489.0 363.4h0M478.9 371.6h0M457.9 383.5h0M441.2 390.8h0M609.4 309.3h0M450.8 388.4h0M463.0 377.9h0M451.1 381.6h0M452.4 382.4h0M460.5 383.0h0M468.1 375.3h0M457.8 384.8h0M486.5 366.2h0M442.2 386.3h0M483.4 366.9h0M445.2 388.3h0M505.4 355.0h0M456.8 382.8h0M446.7 384.0h0M486.2 367.9h0M446.9 383.3h0M530.2 343.5h0M449.8 389.6h0M463.3 379.9h0M504.4 356.1h0M541.0 336.7h0M457.1 380.5h0M510.5 351.2h0M447.2 386.1h0M553.4 328.8h0M480.2 372.9h0M453.9 384.2h0M447.1 382.5h0M448.9 389.1h0M445.7 387.8h0M488.6 366.6h0M448.1 390.6h0M466.1 375.0h0M489.2 363.6h0M463.4 376.5h0M454.4 382.9h0M507.3 354.5h0M467.5 375.8h0M602.6 310.1h0M454.5 380.5h0M457.0 383.2h0M549.5 331.9h0M456.8 381.9h0M537.9 337.9h0M468.3 372.9h0M443.5 388.6h0M582.2 315.4h0M453.4 385.1h0M518.3 350.0h0M455.2 383.3h0M446.5 389.1h0M495.9 360.1h0M523.7 346.6h0M476.7 370.8h0M485.3 366.9h0M500.5 356.4h0M448.5 382.1h0M568.3 321.7h0M448.2 388.6h0M457.9 380.3h0M449.0 384.9h0M494.8 360.9h0M472.0 375.7h0M461.8 381.5h0M444.6 388.7h0M489.2 365.5h0M452.2 383.1h0M446.6 386.6h0M447.6 385.5h0M468.3 376.7h0M449.5 386.5h0M471.4 374.5h0M445.6 396.4h0M477.3 371.8h0M508.2 354.2h0M444.7 395.7h0M449.1 386.6h0M449.1 386.4h0M470.2 373.7h0M462.2 379.7h0M463.0 382.4h0M447.0 387.2h0M641.7 303.9h0M452.0 384.7h0M470.6 371.6h0M471.8 373.3h0M451.8 384.4h0M451.4 387.6h0M447.5 387.6h0M479.5 370.5h0M476.2 370.3h0M452.4 386.4h0M452.2 386.7h0M483.6 372.4h0M466.2 382.0h0M476.6 372.8h0M455.6 381.9h0M468.0 376.2h0M495.4 361.8h0M453.4 391.9h0M454.3 385.6h0M442.0 387.1h0M565.8 324.4h0M492.4 362.8h0M463.8 378.9h0M447.8 394.6h0M441.3 382.9h0M445.0 394.1h0M497.2 359.7h0M547.3 332.5h0M478.3 373.2h0M485.9 363.5h0M443.0 405.4h0M449.0 388.1h0M456.0 382.3h0M578.7 318.5h0M462.9 377.4h0M449.5 387.7h0M443.5 393.5h0M480.1 369.9h0M448.9 390.5h0M483.7 368.9h0M461.4 375.6h0M495.6 361.9h0M443.7 403.3h0M465.2 375.2h0M528.6 344.3h0M491.5 364.5h0M459.0 384.3h0M458.4 380.4h0M455.0 384.4h0M446.9 386.7h0M444.4 388.9h0M441.5 394.5h0M506.9 355.2h0M462.7 378.1h0M448.0 386.3h0M451.9 385.8h0M461.4 378.9h0M441.1 392.4h0M471.0 375.0h0M452.1 384.0h0M445.6 396.7h0M473.0 374.5h0M452.6 385.3h0M442.3 390.2h0M464.8 378.0h0M453.9 383.4h0M445.0 384.7h0M521.2 346.1h0M445.2 387.6h0M534.5 340.4h0M468.9 372.9h0M545.7 334.5h0M460.8 383.7h0M457.1 380.9h0M475.5 369.9h0M522.6 345.5h0M449.8 392.5h0M502.5 357.6h0M468.1 377.8h0M504.5 356.4h0M465.5 378.5h0M441.2 395.7h0M441.0 394.8h0M456.6 383.7h0M468.1 375.1h0M450.4 384.8h0M452.0 385.5h0M450.3 385.0h0M456.5 380.9h0M499.5 357.4h0M489.4 367.8h0M489.1 365.5h0M445.6 389.5h0M465.7 374.7h0M443.5 387.2h0M448.5 385.1h0M453.7 381.7h0M442.4 393.0h0M478.4 371.8h0M455.0 376.5h0M480.4 368.6h0M457.8 384.3h0M448.9 385.6h0M467.1 376.4h0M458.3 382.5h0M492.9 362.4h0M580.4 317.5h0M440.7 387.0h0M468.7 375.8h0M446.7 383.6h0M537.0 338.6h0M486.3 369.2h0M473.4 371.7h0M455.4 384.1h0M466.7 376.3h0M485.0 367.1h0M443.8 387.8h0M461.5 381.3h0M451.7 387.4h0M446.4 386.6h0M449.4 386.7h0M497.9 361.7h0M584.8 315.7h0M478.2 371.0h0M494.3 361.5h0M455.1 385.1h0M474.1 372.4h0M483.2 371.1h0M502.9 357.2h0M447.4 389.9h0M480.1 371.7h0M452.5 386.0h0M509.2 354.3h0M450.3 385.3h0M443.4 388.9h0M469.7 377.8h0M526.5 344.3h0M442.9 386.2h0M442.2 396.6h0M459.9 378.5h0M537.3 336.7h0M443.5 397.6h0M460.0 378.2h0M493.6 362.8h0M522.5 346.5h0M469.5 376.4h0M589.7 314.6h0M501.5 358.0h0M480.8 368.3h0M473.4 371.1h0M447.2 388.4h0M501.7 360.0h0M502.9 356.5h0M529.8 344.3h0M499.6 358.6h0M504.5 357.2h0M636.5 304.0h0M448.1 385.1h0M489.7 363.1h0M459.7 379.2h0M519.3 348.1h0M511.1 352.2h0M444.0 401.7h0M475.8 371.2h0M448.9 386.3h0M478.3 374.4h0M485.6 367.6h0M468.0 376.7h0M443.3 389.4h0M592.0 313.5h0M477.3 369.6h0M461.8 377.2h0M573.6 321.7h0M465.8 374.2h0M448.5 392.4h0M455.5 381.2h0M477.1 370.3h0M465.1 372.5h0M530.6 342.0h0M444.9 384.3h0M468.5 374.9h0M542.6 335.6h0M505.8 354.4h0M454.6 381.1h0M457.4 384.2h0M441.4 396.0h0M522.2 346.6h0M442.3 388.0h0M455.8 390.2h0M543.9 334.6h0M449.0 388.7h0M453.6 384.3h0M443.7 390.1h0M579.8 318.5h0M528.3 343.4h0M443.3 387.6h0M446.9 385.4h0M451.0 385.7h0M460.0 380.3h0M479.4 368.6h0M490.7 364.8h0M451.2 382.4h0M457.2 381.2h0M492.1 362.2h0M466.7 380.5h0M441.7 401.3h0M482.4 368.2h0M468.9 375.9h0M573.1 318.9h0M442.0 380.5h0M525.4 343.4h0M472.1 372.1h0M509.7 355.6h0M461.5 378.6h0M442.6 390.7h0M496.2 360.8h0M442.9 399.9h0M483.7 368.0h0M447.7 388.6h0M455.0 382.3h0M461.2 378.7h0M445.7 393.1h0M472.0 374.4h0M460.5 379.7h0M489.2 364.9h0M594.7 312.8h0M452.9 383.2h0M458.0 380.9h0M443.8 394.1h0M456.7 383.0h0M491.5 365.3h0M574.5 319.4h0M444.7 383.3h0M447.9 385.5h0M608.4 309.2h0M467.4 375.8h0M536.8 338.5h0M466.6 380.0h0M541.8 334.4h0M446.5 387.0h0M473.3 372.1h0M461.9 378.2h0M465.2 382.4h0M521.4 347.6h0M449.8 388.7h0M486.4 366.6h0M449.2 389.6h0M440.6 393.8h0M472.7 374.7h0M476.5 370.5h0M461.9 380.6h0M585.4 315.6h0M470.3 373.3h0M451.0 381.8h0M451.2 383.5h0M466.4 378.6h0M519.7 346.7h0M469.3 376.7h0M504.1 357.2h0M466.3 376.7h0M480.4 370.4h0M445.4 387.8h0M461.5 380.7h0M532.8 340.4h0M443.0 386.3h0M558.5 325.5h0M478.1 371.5h0M472.8 376.1h0M446.0 386.3h0M447.9 388.3h0M526.6 343.1h0M626.1 305.3h0M463.7 376.1h0M446.4 384.5h0M451.9 384.9h0M449.1 385.1h0M468.8 377.0h0M611.4 305.9h0M452.2 386.4h0M469.5 375.2h0M493.4 364.2h0M447.3 392.8h0M555.3 327.8h0M441.2 401.9h0M446.2 393.5h0M448.4 378.7h0M454.9 383.7h0M458.8 380.5h0M473.3 373.2h0M571.5 321.4h0M505.3 355.9h0M452.3 387.9h0M613.2 306.1h0M458.7 381.4h0M458.8 380.1h0M484.2 366.5h0M455.5 379.0h0M470.7 374.0h0M445.5 386.6h0M462.0 384.3h0M480.2 368.5h0M446.7 385.0h0M453.2 387.1h0M457.2 383.9h0M457.0 382.0h0M468.1 377.2h0M596.2 311.3h0M452.4 387.9h0M465.7 380.7h0M449.1 386.5h0M454.0 389.2h0M458.0 383.7h0M469.2 375.7h0M460.7 379.1h0M484.5 369.9h0M494.8 361.3h0M466.9 380.5h0M459.1 380.9h0M488.4 364.0h0M478.7 368.0h0M469.3 372.8h0M450.7 386.2h0M496.2 360.2h0M468.4 372.2h0M593.0 312.7h0M476.0 371.6h0M537.1 339.1h0M483.7 368.0h0M448.8 388.7h0M451.6 387.8h0M459.7 382.1h0M459.2 382.2h0M567.3 323.4h0M481.9 370.0h0M448.4 386.0h0M492.4 365.3h0M460.1 376.6h0M484.6 369.0h0M451.9 386.9h0M442.3 390.9h0M480.7 370.4h0M443.4 391.2h0M536.1 339.5h0M469.3 374.5h0M497.4 360.8h0M448.8 385.7h0M491.3 363.3h0M461.2 381.4h0M445.1 390.6h0M450.9 387.2h0M472.7 375.5h0M530.1 342.8h0M485.4 367.3h0M536.8 336.9h0M448.1 384.9h0M440.9 395.3h0M493.8 360.3h0M446.6 392.2h0M464.3 379.0h0M467.6 376.4h0M453.1 384.3h0M489.7 364.7h0M538.4 338.3h0M448.9 384.4h0M457.1 380.6h0M456.1 385.7h0M469.2 377.6h0M473.5 369.9h0M448.9 385.2h0M452.1 387.1h0M461.2 381.0h0M527.4 341.9h0M443.7 395.8h0M516.7 349.4h0M512.8 350.9h0M460.3 377.2h0M512.6 351.2h0M452.5 386.5h0M521.6 345.5h0M490.5 365.5h0M467.8 376.4h0M512.6 352.9h0M449.0 383.3h0M475.5 373.9h0M475.6 374.6h0M504.1 358.1h0M481.7 369.5h0M457.4 384.5h0M470.1 372.5h0M447.7 391.9h0M470.3 375.5h0M554.3 329.5h0M461.0 379.5h0M451.4 380.9h0M445.1 389.1h0M447.1 386.3h0M566.0 324.3h0M489.1 366.4h0M473.7 377.5h0M464.7 379.9h0M481.6 367.9h0M490.4 362.0h0M461.8 380.7h0M452.2 386.0h0M444.1 390.0h0M456.6 385.2h0M555.1 328.1h0M485.0 370.0h0M498.3 360.7h0M460.9 383.0h0M490.6 364.5h0M514.4 348.9h0M496.0 361.3h0M472.4 373.2h0M516.6 350.5h0M457.4 381.7h0M467.4 374.9h0M442.9 394.1h0M448.3 388.7h0M463.0 378.3h0M450.4 382.0h0M457.1 378.1h0M445.1 394.3h0M504.1 357.4h0M442.5 392.6h0M625.3 306.0h0M473.4 373.0h0M527.0 344.9h0M477.8 370.4h0M444.8 386.9h0M466.6 378.6h0M560.7 326.9h0M574.6 320.0h0M463.0 378.0h0M464.2 377.7h0M446.0 390.9h0M449.8 386.6h0M473.4 372.9h0M455.4 383.2h0M490.7 361.3h0M453.1 385.6h0M476.4 374.7h0M456.5 380.1h0M465.4 378.1h0M446.8 385.9h0M454.1 384.8h0M450.2 384.5h0M452.5 384.8h0M449.6 382.9h0M500.9 357.6h0M471.4 375.1h0M480.5 370.6h0M510.0 351.5h0M448.7 387.1h0M534.6 339.2h0M493.0 364.5h0M446.7 388.5h0M464.1 376.2h0M486.4 367.4h0M456.9 382.4h0M450.9 387.0h0M505.6 355.5h0M546.7 334.2h0M448.3 383.1h0M453.0 389.0h0M458.6 380.9h0M449.2 393.0h0M602.7 310.6h0M524.3 346.0h0M466.5 376.9h0M461.4 375.7h0M462.5 381.9h0M476.8 372.6h0M448.9 382.4h0M455.9 383.5h0M448.2 388.2h0M459.6 380.8h0M529.9 342.5h0M479.5 369.9h0M449.2 385.2h0M449.1 386.3h0M485.1 368.0h0M505.7 355.6h0M535.1 338.4h0M450.0 389.4h0M457.7 380.6h0M441.1 388.0h0M460.1 380.0h0M468.2 376.1h0M445.9 393.7h0M469.7 377.1h0M444.9 382.4h0M456.5 386.0h0M451.7 386.2h0M445.3 390.8h0M491.6 363.2h0M590.4 313.9h0M479.2 370.8h0M491.5 363.9h0M459.9 381.8h0M449.3 384.6h0M444.5 400.2h0M466.2 378.0h0M451.0 383.9h0M582.7 317.4h0M485.4 368.6h0M449.8 380.2h0M501.1 357.6h0M603.9 308.3h0M509.1 353.8h0M467.2 375.7h0M482.4 369.5h0M466.4 377.6h0M456.6 384.7h0M471.4 374.7h0M451.3 384.3h0M461.0 380.9h0M449.4 389.9h0M443.9 390.4h0M508.5 356.6h0M485.4 364.8h0M590.6 312.8h0M454.4 385.1h0M487.2 365.7h0M505.4 356.0h0M483.0 367.8h0M456.5 384.8h0M470.7 373.7h0M516.8 348.9h0M447.8 390.0h0M471.2 374.5h0M445.2 394.7h0M498.7 359.5h0M447.7 386.8h0M505.5 356.7h0M488.1 366.3h0M484.9 370.7h0M609.2 309.2h0M441.2 395.9h0M442.4 393.8h0M442.5 387.4h0M490.4 362.0h0M458.8 385.8h0M463.2 382.3h0M466.5 375.5h0M450.2 389.9h0M586.1 315.4h0M472.6 373.3h0M508.4 355.1h0M442.4 391.6h0M597.2 311.3h0M455.0 376.6h0M459.4 384.1h0M440.7 386.2h0M451.6 383.8h0M444.2 388.3h0M556.0 328.9h0M494.9 361.4h0M447.9 392.2h0M444.4 382.2h0M506.4 356.2h0M510.2 353.6h0M491.6 365.9h0M448.0 385.2h0M489.2 367.3h0M466.8 378.9h0M453.9 381.4h0M461.0 379.9h0M450.1 387.8h0M490.3 363.6h0M452.7 381.1h0M454.9 385.7h0M455.3 384.0h0M486.7 366.9h0M538.8 338.4h0M480.2 372.6h0M443.8 391.0h0M458.2 381.9h0M445.3 387.2h0M608.2 307.7h0M495.7 359.5h0M503.2 354.7h0M442.4 388.5h0M451.7 387.0h0M465.2 377.4h0M462.5 384.8h0M463.9 377.9h0M443.3 389.0h0M492.5 363.4h0M480.8 371.4h0M481.3 367.8h0M463.2 382.7h0M479.4 369.7h0M492.1 362.9h0M443.2 387.1h0M442.5 391.3h0M451.2 389.7h0M444.1 382.1h0M467.7 377.4h0M442.7 385.7h0M440.9 393.3h0M468.2 376.8h0M495.1 360.9h0M478.7 369.4h0M447.0 383.8h0M462.7 376.5h0M446.7 388.2h0M452.5 387.0h0M444.5 390.9h0M486.2 366.4h0M454.9 383.8h0M486.6 365.7h0M455.3 384.0h0M529.4 342.9h0M444.7 386.6h0M445.9 388.9h0M510.6 351.8h0M443.5 392.9h0M462.2 380.1h0M514.6 351.6h0M487.4 366.7h0M477.2 368.7h0M514.7 351.5h0M466.5 378.2h0M501.3 361.2h0M443.1 390.4h0M476.9 370.0h0M447.7 390.9h0M442.4 384.4h0M455.2 383.1h0M450.1 381.9h0M467.9 377.6h0M441.4 389.6h0M444.7 388.2h0M452.3 384.2h0M446.0 383.8h0M469.6 376.7h0M443.5 391.1h0M442.3 400.8h0M449.2 382.7h0M524.8 345.2h0M491.7 363.2h0M453.2 383.5h0M455.2 380.9h0M452.7 377.9h0M444.9 391.8h0M483.4 368.2h0M461.4 380.1h0M449.3 382.7h0M456.0 383.2h0M446.3 386.4h0M442.7 394.0h0M461.0 378.3h0M453.2 379.9h0M461.1 384.6h0M463.5 379.9h0M448.0 385.2h0M443.3 396.0h0M593.3 313.1h0M564.7 324.2h0M440.7 396.1h0M555.4 330.2h0M534.9 339.6h0M457.6 381.6h0M574.8 319.2h0M467.9 375.6h0M483.3 367.3h0M450.0 384.1h0M487.6 366.4h0M526.6 344.5h0M442.5 396.0h0M442.1 388.6h0M449.9 384.1h0M448.8 386.2h0M443.4 394.8h0M462.8 376.8h0M456.5 379.2h0M477.8 371.1h0M455.4 382.7h0M443.6 388.8h0M447.1 386.1h0M445.5 388.2h0M448.2 388.1h0M440.8 387.0h0M443.4 389.0h0M488.1 363.0h0M454.4 381.8h0M456.7 380.6h0M464.6 381.1h0M445.8 389.3h0M526.2 344.5h0M566.9 326.1h0M488.3 368.3h0M457.7 380.8h0M448.5 385.9h0M536.0 339.5h0M473.3 374.9h0M461.7 376.1h0M451.2 383.3h0M461.8 378.2h0M463.5 379.3h0M478.3 369.2h0M455.8 383.2h0M449.2 386.3h0M533.3 340.2h0M453.9 386.5h0M442.7 389.7h0M472.3 374.8h0M460.5 380.9h0M449.7 389.0h0M471.8 375.3h0M498.7 359.2h0M512.2 351.6h0M546.5 333.2h0M460.7 381.4h0M454.6 382.6h0M474.9 371.9h0M446.0 395.0h0M464.6 376.7h0M454.1 386.9h0M480.1 366.9h0M477.1 371.2h0M498.5 357.8h0M527.2 344.4h0M455.9 382.4h0M493.0 364.1h0M478.3 371.7h0M444.7 388.4h0M469.0 374.2h0M456.8 379.4h0M462.8 375.8h0M555.6 328.4h0M447.3 386.0h0M443.3 402.9h0M455.6 385.4h0M515.7 351.1h0M526.4 343.6h0M506.8 356.2h0M494.9 361.1h0M479.5 368.3h0M444.6 393.8h0M495.4 362.9h0M458.6 379.6h0M494.3 360.9h0M481.4 370.8h0M475.5 371.3h0M441.9 392.2h0M458.2 381.9h0M444.7 390.9h0M450.1 384.7h0M451.1 393.3h0M440.7 391.1h0M455.3 384.8h0M523.5 347.3h0M455.4 378.4h0M557.4 326.1h0M666.3 300.4h0M445.1 394.6h0M523.8 346.3h0M462.1 378.3h0M499.0 357.6h0M446.5 387.2h0M462.5 380.2h0M513.4 350.5h0M472.3 374.3h0M450.7 385.4h0M451.0 388.6h0M443.3 386.2h0M560.1 325.1h0M466.7 377.2h0M574.0 320.6h0M488.0 365.5h0M450.7 381.2h0M526.0 344.2h0M447.6 388.6h0M543.7 335.3h0M459.7 380.5h0M444.7 386.7h0M443.3 394.9h0M478.8 372.8h0M521.6 347.1h0M549.9 330.9h0M546.0 334.5h0M490.8 363.4h0M480.7 370.5h0M479.6 369.9h0M452.0 382.1h0M527.7 345.3h0M477.4 373.1h0M445.7 388.1h0M533.6 340.0h0M447.2 392.8h0M453.5 386.9h0M484.6 365.3h0M441.9 392.0h0M520.2 348.1h0M504.2 354.4h0M502.0 357.7h0M510.9 352.8h0M589.6 313.8h0M456.8 381.8h0M460.0 380.6h0M459.3 383.3h0M471.3 375.7h0M452.4 381.3h0M445.6 392.1h0M480.9 372.4h0M455.1 383.2h0M482.0 368.4h0M515.6 348.9h0M447.9 386.8h0M536.2 338.2h0M473.9 374.7h0M447.6 386.0h0M504.8 356.9h0M462.3 382.6h0M486.2 367.2h0M453.3 384.5h0M460.7 379.4h0M468.8 377.3h0M486.6 367.8h0M463.1 377.1h0M443.4 392.7h0M442.5 391.9h0M460.1 382.9h0M565.7 323.4h0M597.7 312.5h0M469.0 376.5h0M501.4 358.7h0M454.6 383.1h0M446.0 392.1h0M490.3 364.2h0M476.4 373.3h0M481.0 368.2h0M556.6 329.3h0M442.5 388.9h0M524.5 344.6h0M456.1 383.5h0M507.3 355.3h0M500.1 358.9h0M446.6 388.4h0M441.2 387.8h0M528.9 339.8h0M520.8 349.3h0M445.0 383.5h0M474.4 369.8h0M471.4 375.0h0M460.1 377.4h0M443.8 391.0h0M444.6 387.1h0M458.8 383.5h0M447.0 382.6h0M459.0 380.3h0M457.4 381.8h0M469.1 379.7h0M461.2 381.8h0M456.3 381.5h0M453.7 385.1h0M446.3 390.3h0M452.3 383.9h0M512.0 351.4h0M442.3 387.4h0M441.8 383.8h0M592.1 313.5h0M450.8 383.1h0M448.4 392.4h0M501.8 357.3h0M507.0 353.4h0M449.4 390.1h0M467.6 378.5h0M635.8 304.2h0M462.3 376.0h0M441.8 388.5h0M443.2 389.7h0M447.9 386.0h0M462.4 380.0h0M442.2 395.9h0M554.8 328.8h0M551.6 331.6h0M453.8 382.4h0M495.7 358.8h0M496.7 359.9h0M453.7 381.1h0M571.4 320.2h0M466.4 378.0h0M517.4 350.0h0M444.5 387.2h0M507.4 357.1h0M461.4 379.9h0M460.1 382.3h0M469.9 377.2h0M459.6 381.8h0M449.9 383.8h0M491.1 362.8h0M476.9 375.1h0M593.8 313.1h0M450.3 384.4h0M452.1 377.7h0M458.1 382.6h0M501.4 353.7h0M447.6 389.4h0M455.6 385.0h0M494.7 361.8h0M447.2 381.0h0M516.2 349.6h0M590.9 312.1h0M470.3 374.0h0M548.5 331.2h0M453.1 384.6h0M450.0 385.4h0M470.9 372.1h0M460.2 385.2h0M452.5 385.1h0M469.0 376.8h0M456.0 386.0h0M507.9 353.6h0M450.1 386.9h0M465.2 379.5h0M457.0 385.4h0M507.2 355.5h0M545.3 332.4h0M443.4 391.8h0M465.2 378.6h0M458.0 379.4h0M471.8 377.8h0M584.6 315.5h0M507.8 356.7h0M464.7 375.2h0M473.8 375.0h0M463.0 380.1h0M458.6 380.8h0M491.1 363.8h0M559.3 327.1h0M441.8 392.8h0M442.9 390.1h0M468.9 374.0h0M449.7 387.0h0M532.5 341.5h0M453.2 386.7h0M584.7 316.8h0M442.7 390.9h0M497.9 360.2h0M561.8 323.9h0M583.2 315.6h0M453.5 383.9h0M503.2 355.6h0M444.9 392.5h0M501.6 359.1h0M440.9 390.8h0M440.7 389.7h0M463.9 380.1h0M441.6 391.6h0M492.6 363.8h0M462.0 376.7h0M488.9 365.4h0M456.7 382.9h0M451.3 384.3h0M466.4 374.5h0M459.5 377.9h0M562.9 324.5h0M450.3 384.1h0M447.1 385.2h0M478.7 371.9h0M443.2 391.1h0M449.8 381.1h0M447.6 385.2h0M532.8 340.7h0M465.7 377.3h0M441.9 390.7h0M470.9 374.5h0M463.5 378.9h0M506.0 355.5h0M467.3 377.1h0M446.9 390.9h0M495.2 360.4h0M445.1 389.7h0M472.1 374.3h0M451.5 386.9h0M441.8 395.6h0M525.5 344.7h0M465.4 380.1h0M449.8 384.6h0M448.6 388.5h0M447.7 385.5h0M452.0 386.4h0M452.1 386.2h0M467.4 375.0h0M448.1 386.0h0M493.3 361.8h0M444.9 389.5h0M496.9 362.2h0M459.9 380.3h0M518.2 348.2h0M472.4 375.0h0M461.4 380.4h0M442.3 392.1h0M498.8 360.8h0M514.6 349.9h0M458.2 381.0h0M490.5 362.1h0M466.8 375.7h0M459.8 382.1h0M517.3 348.5h0M442.5 390.2h0M443.9 392.0h0M442.1 388.3h0M446.2 383.4h0M600.4 312.0h0M475.6 371.3h0M444.9 387.7h0M464.5 382.1h0M446.5 391.9h0M451.3 386.0h0M441.4 389.3h0M458.7 378.5h0M466.6 376.4h0M473.2 374.8h0M578.0 318.1h0M490.6 367.5h0M474.9 370.2h0M450.3 386.1h0M567.7 323.8h0M529.0 340.9h0M456.2 381.5h0M485.4 366.9h0M481.3 369.5h0M486.3 366.2h0M507.4 355.5h0M493.4 362.9h0M460.3 379.4h0M507.5 354.6h0M578.4 317.6h0M440.8 396.8h0M441.7 388.9h0M457.4 383.1h0M450.5 385.5h0M464.0 379.4h0M446.0 391.1h0M512.7 351.8h0M461.0 382.8h0M459.9 377.0h0M456.8 382.4h0M447.4 386.2h0M459.9 380.7h0M470.3 378.4h0M450.5 388.7h0M452.1 384.1h0M482.9 369.3h0M440.9 393.6h0M449.5 385.5h0M558.2 328.3h0M446.1 388.6h0M510.2 354.9h0M450.6 388.4h0M450.0 384.5h0M451.5 386.1h0M456.2 377.9h0M445.3 384.6h0M457.9 380.5h0M461.7 379.4h0M450.8 382.0h0M502.8 358.3h0M466.9 377.2h0M481.2 367.6h0M442.2 386.6h0M478.6 368.8h0M570.6 321.9h0M451.7 385.0h0M504.0 356.1h0M466.8 376.1h0M442.0 387.0h0M469.4 373.3h0M589.7 314.7h0M467.0 373.9h0M456.1 384.1h0M490.8 362.9h0M446.1 384.7h0M469.2 379.1h0M450.3 384.2h0M475.9 374.6h0M474.6 373.0h0M464.6 378.5h0M462.1 381.7h0M543.5 334.9h0M467.1 374.9h0M494.7 363.8h0M494.1 362.3h0M641.2 304.3h0M460.0 381.5h0M491.9 363.0h0M452.3 383.1h0M512.5 352.7h0M453.4 381.9h0M483.4 367.5h0M444.6 385.2h0M479.2 367.3h0M501.2 357.1h0M459.7 380.1h0M445.9 391.0h0M507.4 355.9h0M453.1 385.5h0M447.0 384.5h0M517.5 346.9h0M488.8 364.4h0M533.3 340.2h0M538.8 338.1h0M604.6 310.2h0M441.8 392.1h0M509.3 354.2h0M470.6 374.2h0M445.7 387.5h0M448.5 387.5h0M539.1 337.8h0M511.9 352.9h0M477.3 369.8h0M589.1 312.9h0M552.1 330.4h0M457.3 383.0h0M444.5 392.7h0M472.5 372.7h0M487.8 365.4h0M595.3 311.4h0M473.3 373.3h0M460.8 380.4h0M441.2 385.2h0M445.2 388.2h0M455.6 385.3h0M526.2 345.7h0M561.8 326.0h0M548.3 333.2h0M441.2 389.3h0M497.0 359.8h0M532.2 341.9h0M462.5 380.2h0M478.6 370.5h0M490.0 365.5h0M467.5 377.5h0M451.4 384.0h0M460.1 377.7h0M488.1 364.5h0M461.1 380.9h0M474.1 373.2h0M463.7 379.6h0M493.0 364.2h0M462.4 375.9h0M443.9 388.6h0M469.1 377.0h0M501.6 356.9h0M448.6 390.6h0M450.4 383.4h0M474.6 372.5h0M454.1 386.9h0M485.0 369.0h0M509.6 352.5h0M549.9 331.9h0M449.4 391.7h0M476.6 372.1h0M528.3 344.0h0M474.4 371.3h0M444.1 392.1h0M479.8 370.0h0M468.5 377.5h0M516.0 349.0h0M451.8 385.3h0M480.5 369.7h0M441.8 394.8h0M483.0 368.7h0M454.8 385.7h0M457.4 381.6h0M518.6 347.0h0M492.2 363.4h0M445.0 388.4h0M445.1 388.3h0M459.3 378.1h0M527.4 344.5h0M451.1 388.1h0M466.9 378.5h0M475.6 374.0h0M516.5 349.3h0M480.7 369.8h0M447.6 390.3h0M447.2 392.5h0M538.2 336.8h0M459.7 381.0h0M469.0 375.4h0M520.0 347.3h0M541.2 336.3h0M485.2 365.0h0M446.8 388.7h0M507.4 356.4h0M442.8 389.4h0M442.7 393.4h0M587.3 313.6h0M506.7 354.7h0M453.2 384.2h0M468.9 375.4h0M464.6 379.3h0M583.7 314.9h0M459.0 385.1h0M512.0 352.5h0M444.3 381.8h0M467.7 450.0h0M452.7 456.3h0M452.7 447.6h0M469.2 456.9h0M441.8 451.4h0M465.5 454.1h0M456.6 445.2h0M466.0 445.9h0M549.6 461.1h0M474.3 453.9h0M496.2 448.3h0M449.6 448.2h0M542.9 450.2h0M447.7 450.6h0M461.1 451.1h0M443.3 447.7h0M450.4 452.4h0M494.5 447.8h0M472.6 453.6h0M451.2 454.5h0M496.2 452.0h0M449.4 449.9h0M492.2 450.4h0M489.8 451.2h0M446.1 451.9h0M443.5 452.5h0M450.0 454.4h0M462.9 448.9h0M583.8 469.1h0M478.4 451.5h0M512.5 447.5h0M458.6 447.4h0M449.3 451.9h0M447.0 452.4h0M453.9 453.6h0M512.1 454.6h0M559.1 460.4h0M471.8 453.7h0M485.8 453.7h0M539.9 458.5h0M526.1 452.7h0M443.7 448.1h0M442.6 452.8h0M494.1 446.9h0M484.7 450.1h0M446.3 450.9h0M459.3 445.0h0M453.0 448.8h0M444.8 444.4h0M453.3 446.5h0M482.7 446.2h0M450.2 449.1h0M458.5 453.3h0M465.3 449.8h0M463.8 452.7h0M444.1 448.4h0M484.1 445.5h0M507.7 450.3h0M442.6 446.8h0M451.1 453.2h0M470.6 449.9h0M463.4 443.9h0M471.5 455.7h0M475.5 447.3h0M504.3 453.4h0M442.0 450.0h0M576.4 467.7h0M481.6 450.5h0M458.6 454.1h0M469.2 447.2h0M565.5 463.5h0M454.1 445.0h0M560.2 456.8h0M464.9 448.9h0M490.4 450.0h0M454.7 453.8h0M443.0 450.7h0M462.2 446.3h0M513.0 450.6h0M466.1 447.0h0M451.0 447.2h0M491.9 445.3h0M460.2 445.6h0M498.8 453.1h0M450.1 450.6h0M542.5 454.1h0M460.2 447.7h0M602.3 487.2h0M442.2 455.5h0M455.0 450.8h0M457.4 455.8h0M452.6 453.1h0M583.2 473.9h0M498.6 452.5h0M538.2 457.7h0M454.7 450.7h0M475.9 452.7h0M457.0 451.2h0M593.6 479.1h0M464.4 450.2h0M464.4 453.4h0M442.7 448.5h0M541.2 446.0h0M505.2 448.9h0M469.5 451.2h0M491.0 454.4h0M476.6 450.2h0M500.4 445.5h0M499.1 445.7h0M444.4 449.0h0M527.1 453.1h0M458.3 453.8h0M456.9 447.7h0M525.4 453.6h0M489.3 456.0h0M481.6 451.8h0M456.1 450.3h0M459.2 454.0h0M448.8 448.1h0M444.7 449.8h0M459.5 448.1h0M481.3 449.4h0M456.5 450.0h0M457.7 448.3h0M519.3 448.0h0M470.8 454.5h0M462.3 447.1h0M450.0 447.5h0M441.8 447.4h0M537.2 456.7h0M488.8 455.7h0M459.1 448.9h0M464.9 456.7h0M540.5 448.8h0M451.0 446.6h0M512.8 454.0h0M443.4 448.1h0M498.5 446.2h0M525.6 450.4h0M444.4 450.8h0M445.1 453.2h0M524.1 456.6h0M476.3 446.5h0M480.3 450.6h0M454.2 448.1h0M483.3 452.0h0M463.2 451.4h0M474.5 452.1h0M483.0 447.2h0M459.5 454.0h0M502.4 452.9h0M542.9 458.9h0M471.8 457.0h0M510.0 447.9h0M458.3 445.5h0M443.0 451.4h0M453.1 445.4h0M459.7 455.5h0M460.3 455.5h0M472.8 449.8h0M443.9 452.6h0M455.8 445.2h0M549.1 456.3h0M454.3 446.1h0M575.6 464.9h0M519.8 454.7h0M605.5 492.2h0M458.7 448.7h0M478.3 446.4h0M500.6 445.0h0M463.4 450.9h0M522.0 452.5h0M468.1 454.1h0M466.1 453.3h0M443.9 449.9h0M459.8 451.0h0M470.0 451.9h0M508.9 458.6h0M459.4 445.8h0M459.8 450.3h0M488.3 448.6h0M441.6 451.9h0M508.3 452.2h0M485.3 455.4h0M464.8 444.4h0M470.8 450.2h0M453.4 447.5h0M460.8 450.6h0M462.2 452.2h0M531.1 451.8h0M444.4 452.2h0M490.4 450.6h0M562.7 459.7h0M457.0 448.3h0M474.4 448.7h0M466.7 449.1h0M451.1 456.1h0M511.4 452.9h0M443.8 449.4h0M502.2 446.2h0M571.5 464.7h0M535.0 452.8h0M490.9 450.4h0M443.4 446.5h0M462.0 450.8h0M488.4 451.3h0M480.1 449.9h0M454.0 448.9h0M449.1 452.3h0M445.3 447.1h0M535.4 448.2h0M494.9 455.1h0M472.3 451.2h0M456.1 446.7h0M471.3 452.0h0M464.2 453.2h0M450.2 449.7h0M451.3 456.0h0M486.0 446.2h0M574.5 468.3h0M450.1 450.1h0M508.3 456.3h0M469.5 449.3h0M492.7 451.1h0M449.5 451.4h0M445.2 443.8h0M482.7 444.9h0M453.0 453.6h0M450.9 454.3h0M453.1 450.1h0M452.1 449.5h0M515.1 455.1h0M474.4 445.0h0M479.4 455.5h0M442.6 446.2h0M462.3 446.4h0M466.0 447.3h0M548.4 461.8h0M443.3 453.6h0M602.4 480.9h0M554.8 457.9h0M586.9 468.5h0M467.1 453.9h0M467.5 447.8h0M484.6 447.0h0M524.1 443.6h0M445.8 447.4h0M574.9 473.6h0M539.0 457.8h0M482.3 446.9h0M443.9 450.9h0M513.8 452.2h0M582.8 467.3h0M491.6 450.6h0M576.7 473.5h0M455.3 449.8h0M451.6 446.6h0M481.1 448.0h0M447.6 451.6h0M495.7 449.5h0M451.5 447.5h0M447.9 450.4h0M487.3 447.7h0M443.5 450.2h0M605.7 484.0h0M495.5 447.5h0M452.8 445.5h0M502.0 454.9h0M443.0 451.5h0M556.9 460.5h0M446.1 448.3h0M445.9 454.1h0M462.4 449.0h0M541.2 456.2h0M442.4 450.8h0M468.6 445.0h0M546.4 457.3h0M493.6 451.2h0M446.9 448.0h0M497.3 454.5h0M508.0 449.0h0M577.9 473.4h0M442.5 455.0h0M441.3 456.1h0M463.1 450.7h0M442.1 454.8h0M475.8 453.2h0M471.9 452.4h0M455.1 448.9h0M509.6 449.9h0M590.7 477.7h0M450.2 449.1h0M452.6 453.1h0M470.1 450.4h0M457.7 450.2h0M471.3 447.5h0M465.4 450.8h0M452.4 450.6h0M450.2 444.8h0M524.5 452.1h0M545.6 455.3h0M506.8 451.0h0M449.3 444.8h0M530.2 447.2h0M500.3 448.8h0M453.6 457.8h0M528.3 457.6h0M527.7 450.5h0M555.0 463.3h0M454.0 454.9h0M591.8 474.1h0M442.8 445.8h0M470.9 448.6h0M458.1 450.7h0M497.8 455.7h0M483.3 450.1h0M448.1 446.0h0M455.0 446.8h0M549.9 450.0h0M455.2 454.2h0M441.9 446.9h0M450.9 454.4h0M454.9 450.6h0M467.5 448.7h0M459.4 454.0h0M445.3 452.2h0M477.5 447.6h0M468.6 450.2h0M492.9 451.3h0M452.1 444.7h0M493.0 446.4h0M461.0 452.6h0M519.6 452.3h0M483.3 451.1h0M471.2 446.8h0M481.8 449.7h0M445.6 453.1h0M444.6 452.4h0M454.3 451.8h0M449.6 452.8h0M458.9 452.1h0M484.9 447.4h0M462.3 448.3h0M453.6 450.7h0M516.8 448.5h0M575.4 465.9h0M489.2 449.0h0M479.0 448.6h0M449.8 450.7h0M455.7 450.0h0M492.9 450.3h0M458.9 452.4h0M442.8 452.9h0M472.7 448.9h0M471.7 450.2h0M468.9 452.1h0M454.7 448.9h0M470.7 446.3h0M476.0 454.3h0M499.6 449.2h0M551.0 452.7h0M492.1 448.7h0M457.8 449.7h0M441.5 449.0h0M514.8 453.9h0M445.1 444.7h0M464.8 449.4h0M511.3 456.4h0M455.4 448.5h0M454.2 452.4h0M474.4 450.1h0M475.4 457.4h0M461.5 452.8h0M481.3 453.2h0M449.4 445.5h0M456.9 455.5h0M559.8 461.1h0M472.1 450.8h0M591.1 469.6h0M458.1 450.8h0M452.1 445.6h0M463.3 454.4h0M456.7 453.0h0M441.2 455.1h0M466.4 447.5h0M475.7 447.5h0M459.8 447.1h0M467.7 444.4h0M449.7 453.0h0M577.1 463.4h0M513.7 454.1h0M489.7 447.3h0M517.1 459.2h0M443.4 449.3h0M453.9 447.0h0M443.4 446.4h0M470.4 453.6h0M472.9 448.5h0M523.6 451.0h0M468.8 447.9h0M441.2 448.1h0M571.2 471.5h0M444.4 448.1h0M491.7 450.9h0M446.1 450.9h0M463.7 449.4h0M504.0 455.4h0M539.2 455.1h0M503.1 456.3h0M465.2 449.7h0M530.4 451.7h0M450.3 456.5h0M581.0 462.8h0M486.1 450.5h0M458.0 449.9h0M472.9 449.2h0M465.5 445.8h0M448.2 448.7h0M441.8 453.6h0M489.9 445.1h0M582.1 470.9h0M445.5 456.4h0M529.9 454.3h0M448.2 451.8h0M447.2 452.2h0M446.4 446.4h0M463.7 454.7h0M455.3 457.2h0M458.5 442.4h0M458.0 449.3h0M526.6 455.1h0M490.5 451.7h0M448.0 444.9h0M444.9 449.7h0M474.1 457.3h0M520.1 458.3h0M556.8 459.8h0M445.7 454.5h0M454.6 448.4h0M510.7 453.9h0M483.2 452.9h0M469.9 450.2h0M440.9 448.4h0M443.0 450.5h0M510.5 454.5h0M458.8 448.0h0M482.2 453.8h0M448.8 448.6h0M511.6 453.6h0M481.0 451.5h0M441.9 452.4h0M510.4 450.1h0M441.5 450.5h0M531.7 456.3h0M455.8 453.6h0M518.1 450.2h0M481.3 450.0h0M476.7 450.4h0M451.6 447.7h0M442.8 453.5h0M497.3 454.4h0M499.3 455.5h0M458.9 450.6h0M442.3 450.9h0M446.4 452.2h0M461.8 453.3h0M449.2 450.6h0M445.7 455.5h0M556.3 461.1h0M442.5 450.4h0M552.3 449.3h0M448.9 454.5h0M453.5 452.1h0M443.3 454.6h0M486.9 455.5h0M527.0 455.2h0M512.7 451.4h0M447.2 449.9h0M460.2 448.4h0M445.1 455.7h0M477.8 452.8h0M572.8 462.4h0M473.4 446.5h0M515.9 450.9h0M457.5 451.9h0M456.2 455.4h0M481.2 447.6h0M451.0 451.6h0M532.1 456.1h0M446.1 444.6h0M451.2 447.7h0M456.3 450.5h0M460.5 455.6h0M550.1 453.1h0M445.2 452.9h0M518.3 450.0h0M512.8 458.6h0M532.7 449.8h0M500.0 453.2h0M444.1 451.1h0M522.5 450.5h0M463.7 445.2h0M467.8 452.3h0M482.7 447.9h0M444.1 452.9h0M463.1 447.7h0M455.1 453.6h0M534.5 459.1h0M486.4 451.0h0M459.8 447.9h0M451.3 449.4h0M448.5 445.7h0M503.5 453.1h0M501.9 453.0h0M447.1 451.0h0M463.7 452.4h0M478.2 449.2h0M462.6 447.0h0M482.2 449.7h0M446.2 453.3h0M441.8 453.7h0M441.7 453.1h0M472.7 447.5h0M444.6 449.1h0M448.1 447.8h0M453.6 447.1h0M497.4 450.3h0M473.7 458.0h0M453.6 444.1h0M448.8 455.6h0M442.5 453.5h0M473.1 449.1h0M487.9 452.6h0M449.3 452.3h0M470.6 450.9h0M455.3 450.3h0M442.5 453.9h0M591.3 472.0h0M441.5 445.9h0M455.8 446.1h0M505.6 447.7h0M462.9 449.3h0M502.2 450.0h0M475.1 446.0h0M522.0 457.8h0M470.4 454.7h0M488.5 457.1h0M479.1 443.4h0M452.2 452.7h0M442.8 447.0h0M518.6 453.3h0M452.1 449.4h0M459.6 446.6h0M542.0 461.1h0M449.9 450.2h0M474.2 444.1h0M441.3 455.4h0M442.1 452.6h0M451.6 455.4h0M486.0 451.4h0M466.2 454.3h0M454.7 448.7h0M449.1 458.6h0M534.0 447.6h0M470.7 452.7h0M506.1 451.4h0M464.7 443.8h0M481.1 445.9h0M477.3 453.4h0M499.0 451.3h0M481.7 449.9h0M508.8 453.6h0M459.9 443.1h0M441.4 446.6h0M456.3 451.3h0M442.6 443.3h0M500.0 449.3h0M462.8 450.6h0M512.2 449.3h0M583.0 460.3h0M522.5 452.3h0M456.2 450.0h0M482.8 452.1h0M445.4 448.0h0M576.9 470.6h0M441.1 445.9h0M468.2 453.1h0M501.4 451.5h0M513.1 451.3h0M490.2 456.0h0M446.8 445.8h0M445.8 447.4h0M458.1 454.7h0M449.5 448.6h0M479.9 459.0h0M532.2 452.9h0M472.0 451.7h0M445.5 449.9h0M442.9 451.7h0M441.6 454.1h0M481.4 454.4h0M455.0 450.7h0M467.5 449.8h0M456.1 450.6h0M440.7 450.2h0M442.9 451.5h0M552.7 458.9h0M446.3 450.8h0M457.1 449.3h0M468.0 450.7h0M515.3 453.2h0M482.4 445.7h0M446.7 448.5h0M468.6 451.3h0M443.1 451.0h0M443.7 451.9h0M479.2 452.8h0M516.3 449.1h0M450.7 453.9h0M535.6 452.2h0M483.3 452.7h0M452.5 449.6h0M460.0 450.7h0M508.7 448.9h0M447.3 442.1h0M440.8 451.1h0M463.9 453.4h0M445.8 447.4h0M445.9 451.9h0M589.3 466.1h0M528.1 447.0h0M449.4 451.1h0M463.7 450.0h0M513.1 450.3h0M533.2 457.8h0M556.6 456.4h0M470.9 451.8h0M460.1 445.1h0M462.6 450.6h0M471.0 451.3h0M442.9 451.0h0M503.8 446.6h0M446.9 456.5h0M478.0 449.6h0M460.9 443.4h0M451.4 451.4h0M536.7 455.8h0M445.5 454.5h0M474.9 455.1h0M474.2 448.9h0M513.9 448.3h0M551.6 454.0h0M454.0 450.9h0M450.6 454.9h0M491.2 450.1h0M504.1 455.8h0M539.1 450.7h0M457.8 447.8h0M512.4 450.9h0M503.5 444.9h0M466.9 446.8h0M470.0 447.9h0M461.5 456.4h0M471.4 446.5h0M496.6 452.8h0M448.8 450.6h0M447.4 447.2h0M464.2 448.0h0M482.6 451.6h0M573.0 460.0h0M452.8 447.6h0M486.3 453.8h0M465.2 454.9h0M443.9 447.2h0M495.6 452.9h0M476.8 448.8h0M444.0 445.4h0M464.2 453.7h0M447.1 448.7h0M447.3 448.9h0M511.1 451.6h0M462.0 447.3h0M456.4 452.6h0M468.5 451.0h0M473.5 457.9h0M452.0 448.1h0M551.7 456.5h0M450.1 451.5h0M451.9 447.5h0M499.3 460.1h0M455.3 455.5h0M482.0 457.1h0M514.1 452.8h0M467.2 448.9h0M489.5 456.1h0M449.6 447.6h0M470.8 450.5h0M468.9 450.3h0M464.9 449.2h0M472.8 447.6h0M457.4 450.4h0M464.3 454.0h0M452.1 449.3h0M448.1 449.9h0M482.6 447.5h0M455.2 450.1h0M447.6 452.6h0M441.9 449.6h0M446.3 445.4h0M461.8 445.0h0M496.0 450.8h0M445.5 451.8h0M544.0 449.0h0M462.3 450.6h0M445.4 454.7h0M467.4 448.1h0M440.8 448.2h0M451.1 448.0h0M460.9 448.7h0M469.4 453.4h0M453.3 453.8h0M446.7 448.9h0M445.5 445.3h0M441.1 450.2h0M494.9 450.9h0M498.6 447.5h0M443.1 449.4h0M477.0 448.4h0M507.0 449.7h0M503.9 445.8h0M450.8 453.1h0M474.7 448.9h0M450.5 455.1h0M454.4 453.5h0M476.6 444.5h0M487.1 449.8h0M478.5 456.2h0M469.9 449.8h0M488.3 451.8h0M524.5 451.2h0M441.3 454.8h0M505.2 452.8h0M457.7 443.9h0M480.1 452.0h0M540.2 449.5h0M540.0 453.3h0M447.7 449.0h0M552.6 456.1h0M463.3 451.8h0M510.0 448.8h0M463.2 447.5h0M451.1 450.7h0M488.8 444.5h0M479.3 448.7h0M507.8 451.4h0M447.7 449.9h0M457.7 448.5h0M459.0 455.2h0M485.4 442.2h0M484.6 454.5h0M459.8 449.1h0M454.9 449.8h0M443.4 443.6h0M446.4 448.8h0M459.8 453.7h0M454.0 453.2h0M468.2 446.3h0M497.1 450.1h0M481.0 451.3h0M453.6 451.3h0M441.6 450.2h0M487.5 452.1h0M453.3 451.0h0M457.5 456.4h0M503.8 453.8h0M446.6 457.2h0M488.1 447.4h0M477.6 445.5h0M491.0 455.0h0M452.7 450.9h0M458.5 451.4h0M605.5 492.0h0M468.5 449.6h0M474.6 446.1h0M478.9 451.4h0M467.5 452.6h0M488.3 451.7h0M458.7 450.2h0M452.0 444.9h0M466.1 449.7h0M536.2 450.5h0M459.7 451.1h0M466.7 454.8h0M478.5 453.9h0M466.2 448.2h0M448.0 450.6h0M480.1 450.3h0M462.5 454.6h0M490.1 450.4h0M566.1 460.7h0M489.7 453.3h0M477.0 453.2h0M444.8 453.5h0M450.0 453.3h0M484.1 455.9h0M470.1 458.0h0M468.2 444.5h0M443.5 442.9h0M443.8 445.2h0M465.8 449.7h0M477.1 445.9h0M452.0 445.9h0M441.6 447.3h0M487.0 448.4h0M461.4 452.8h0M488.4 449.6h0M575.6 457.2h0M443.0 451.1h0M517.9 452.5h0M474.0 449.0h0M467.2 449.4h0M464.4 447.2h0M452.2 448.1h0M448.8 445.5h0M467.8 458.7h0M456.6 449.7h0M447.6 454.2h0M532.2 454.4h0M454.5 451.7h0M453.3 459.6h0M494.3 442.1h0M463.7 449.7h0M455.5 449.5h0M455.4 452.1h0M467.8 455.2h0M495.5 447.8h0M446.2 453.2h0M551.6 461.8h0M444.5 451.0h0M458.9 449.1h0M457.3 445.1h0M513.2 446.7h0M448.5 449.5h0M443.2 449.9h0M472.1 455.2h0M584.8 471.5h0M476.2 454.5h0M459.6 451.8h0M448.0 454.0h0M446.2 454.6h0M441.6 443.6h0M449.2 454.4h0M476.0 449.5h0M443.8 456.2h0M562.3 459.1h0M456.7 449.7h0M441.2 447.6h0M518.7 445.6h0M490.9 451.1h0M456.2 451.8h0M486.2 450.4h0M473.4 454.9h0M489.2 447.8h0M479.5 446.4h0M453.4 451.6h0M485.7 450.3h0M475.4 446.2h0M444.9 451.6h0M474.8 447.2h0M604.1 490.0h0M480.2 454.4h0M477.0 451.0h0M449.8 443.0h0M472.4 456.3h0M562.1 458.0h0M453.1 447.6h0M575.7 469.9h0M553.4 456.3h0M447.4 449.9h0M446.4 454.5h0M445.3 453.3h0M500.5 457.7h0M488.6 448.3h0M442.9 443.6h0M448.1 451.6h0M479.4 451.1h0M487.0 451.3h0M459.9 452.0h0M551.2 454.8h0M445.5 447.9h0M474.9 446.0h0M461.3 452.4h0M483.8 450.8h0M445.5 450.8h0M475.5 453.2h0M452.5 446.1h0M534.8 451.7h0M488.8 449.0h0M460.2 452.1h0M463.6 447.9h0M487.0 453.7h0M453.0 448.9h0M442.1 452.2h0M482.4 449.2h0M454.1 449.8h0M511.4 451.4h0M460.8 450.3h0M515.1 454.4h0M508.5 453.5h0M450.8 449.9h0M456.4 448.9h0M449.9 451.4h0M512.1 451.3h0M590.9 474.2h0M555.3 451.9h0M441.4 449.0h0M464.7 449.0h0M458.7 448.5h0M454.5 451.1h0M606.6 482.6h0M485.7 447.7h0M460.7 449.3h0M469.9 446.8h0M451.2 448.7h0M468.9 455.8h0M445.6 444.3h0M486.5 449.1h0M501.5 442.9h0M538.3 451.5h0M593.8 469.8h0M461.4 448.8h0M484.8 452.4h0M518.1 455.0h0M509.6 450.4h0M444.0 452.8h0M443.7 445.8h0M460.8 450.8h0M474.7 446.3h0M525.9 454.6h0M454.2 448.4h0M491.9 454.2h0M455.7 449.7h0M444.5 445.8h0M442.0 451.9h0M475.5 450.5h0M547.7 459.7h0M515.4 453.1h0M571.8 468.5h0M455.7 452.7h0M476.6 447.6h0M440.6 452.0h0M463.3 448.1h0M498.3 456.1h0M479.0 450.9h0M457.5 463.0h0M483.5 450.9h0M452.2 452.5h0M443.9 452.8h0M480.4 448.1h0M441.2 452.4h0M449.5 451.6h0M591.6 477.8h0M516.6 453.5h0M560.6 464.9h0M488.2 457.2h0M492.3 451.8h0M471.2 454.3h0M517.3 455.3h0M538.5 453.9h0M514.0 459.4h0M508.4 454.1h0M449.4 446.8h0M527.3 454.6h0M497.3 450.0h0M467.8 449.8h0M481.5 454.3h0M441.7 451.0h0M491.5 451.6h0M475.7 454.3h0M505.1 452.6h0M469.3 453.4h0M450.2 451.8h0M441.9 455.5h0M454.6 447.2h0M584.4 462.3h0M468.6 451.0h0M444.4 445.1h0M450.5 450.0h0M479.4 453.8h0M462.7 445.3h0M467.0 452.6h0M445.9 449.1h0M561.0 455.7h0M465.7 449.0h0M482.2 448.9h0M460.7 444.9h0M457.2 458.8h0M462.1 448.9h0M465.8 452.6h0M459.0 451.3h0M468.0 452.1h0M466.7 452.4h0M481.4 449.8h0M451.0 448.2h0M560.8 454.0h0M444.9 447.9h0M451.7 446.9h0M441.4 450.7h0M472.8 448.9h0M490.5 449.7h0M449.8 452.0h0M510.1 447.0h0M453.0 453.3h0M469.7 449.5h0M472.8 453.9h0M447.7 447.1h0M489.8 453.0h0M476.5 446.9h0M458.2 445.2h0M466.2 455.0h0M453.3 452.9h0M512.2 447.6h0M458.4 452.3h0M491.0 447.2h0M597.5 483.3h0M455.9 454.3h0M468.3 449.9h0M486.5 444.4h0M477.3 451.2h0M481.7 459.0h0M464.9 452.0h0M451.0 447.7h0M445.7 448.3h0M539.4 457.2h0M531.7 460.4h0M506.4 451.5h0M457.2 450.8h0M467.6 452.2h0M463.4 453.9h0M471.3 446.5h0M543.7 456.6h0M459.8 456.7h0M469.1 449.1h0M445.7 448.6h0M444.9 451.4h0M465.2 449.3h0M483.5 447.0h0M492.0 453.4h0M444.9 446.2h0M494.6 451.6h0M465.9 453.1h0M491.8 448.3h0M450.4 453.3h0M492.7 450.3h0M466.9 450.4h0M542.4 452.7h0M454.1 450.3h0M488.8 447.4h0M447.0 454.5h0M496.9 457.6h0M482.7 449.4h0M543.7 454.9h0M451.2 445.2h0M484.5 449.6h0M543.7 451.7h0M459.4 447.1h0M489.9 452.1h0M466.2 452.9h0M477.3 452.1h0M473.5 457.5h0M504.1 458.1h0M469.0 453.5h0M468.1 453.1h0M461.8 451.5h0M441.6 448.8h0M452.0 449.3h0M453.7 449.7h0M591.9 472.3h0M456.7 450.0h0M478.3 448.2h0M470.7 447.5h0M533.7 455.1h0M471.8 449.1h0M466.9 448.0h0M440.9 443.8h0M491.3 452.5h0M444.7 451.5h0M441.7 452.6h0M441.1 457.5h0M486.2 458.5h0M478.5 450.7h0M450.7 449.9h0M537.4 452.0h0M456.1 450.9h0M503.5 452.8h0M445.3 447.5h0M603.5 493.6h0M479.7 446.6h0M446.5 452.7h0M489.0 447.0h0M478.9 445.0h0M457.9 451.0h0M441.2 445.0h0M450.8 447.7h0M463.0 447.9h0M451.1 450.5h0M452.4 443.7h0M460.5 453.3h0M468.1 447.0h0M457.8 451.6h0M486.5 449.5h0M442.2 452.4h0M483.4 444.6h0M445.2 450.1h0M505.4 457.8h0M456.8 448.7h0M446.7 443.8h0M486.2 448.8h0M446.9 454.1h0M530.2 446.5h0M449.8 453.6h0M463.3 449.1h0M504.4 450.5h0M541.0 456.6h0M457.1 455.6h0M510.5 450.5h0M447.2 449.9h0M553.4 456.5h0M480.2 449.4h0M453.9 451.0h0M447.1 450.9h0M448.9 450.1h0M445.7 449.1h0M448.1 446.3h0M466.1 449.7h0M489.2 451.9h0M463.4 453.7h0M454.4 445.8h0M507.3 452.4h0M467.5 448.8h0M602.6 483.8h0M454.5 449.4h0M457.0 449.1h0M549.5 453.5h0M456.8 448.0h0M537.9 447.8h0M468.3 445.1h0M443.5 452.2h0M582.2 474.0h0M453.4 450.7h0M518.3 450.5h0M455.2 451.6h0M446.5 452.0h0M495.9 452.4h0M523.7 456.1h0M476.7 446.3h0M485.3 457.7h0M500.5 448.3h0M448.5 452.1h0M568.3 463.7h0M448.2 451.3h0M457.9 445.4h0M449.0 449.1h0M494.8 452.7h0M472.0 451.7h0M461.8 449.3h0M444.6 451.3h0M489.2 448.9h0M452.2 445.9h0M446.6 448.2h0M447.6 451.2h0M468.3 453.4h0M449.5 450.3h0M471.4 454.0h0M445.6 455.2h0M477.3 451.6h0M508.2 450.2h0M444.7 453.1h0M449.1 449.1h0M449.1 448.8h0M470.2 444.5h0M462.2 453.0h0M463.0 454.0h0M447.0 447.1h0M452.0 451.1h0M470.6 448.8h0M471.8 445.5h0M451.8 451.9h0M451.4 445.0h0M447.5 446.0h0M479.5 442.3h0M476.2 453.8h0M452.4 454.8h0M452.2 451.4h0M483.6 450.6h0M466.2 453.0h0M476.6 450.7h0M455.6 452.1h0M468.0 454.4h0M495.4 445.6h0M453.4 448.8h0M454.3 449.0h0M442.0 449.3h0M565.8 459.3h0M492.4 453.4h0M463.8 454.6h0M447.8 446.7h0M441.3 455.0h0M445.0 452.5h0M497.2 446.1h0M547.3 459.1h0M478.3 444.6h0M485.9 450.1h0M443.0 444.1h0M449.0 450.3h0M456.0 457.1h0M578.7 473.0h0M462.9 450.2h0M449.5 444.6h0M443.5 454.3h0M480.1 443.5h0M448.9 452.1h0M483.7 454.6h0M461.4 445.7h0M495.6 451.4h0M443.7 448.8h0M465.2 445.5h0M528.6 450.3h0M491.5 452.6h0M459.0 445.5h0M458.4 448.6h0M455.0 450.4h0M446.9 454.4h0M444.4 459.2h0M441.5 450.3h0M506.9 449.5h0M462.7 450.6h0M448.0 454.3h0M451.9 450.9h0M461.4 450.7h0M441.1 446.3h0M471.0 449.9h0M452.1 446.6h0M445.6 451.8h0M473.0 454.7h0M452.6 447.6h0M442.3 457.8h0M464.8 453.4h0M453.9 450.1h0M445.0 450.7h0M521.2 452.9h0M445.2 450.9h0M534.5 459.2h0M468.9 452.4h0M545.7 453.6h0M460.8 446.3h0M457.1 454.7h0M475.5 449.6h0M522.6 446.9h0M449.8 446.1h0M502.5 453.0h0M468.1 448.3h0M504.5 451.2h0M465.5 443.6h0M441.2 444.2h0M441.0 448.3h0M456.6 453.8h0M468.1 449.6h0M450.4 453.7h0M452.0 455.7h0M450.3 453.5h0M456.5 449.3h0M499.5 451.3h0M489.4 446.3h0M489.1 450.8h0M445.6 452.1h0M465.7 448.5h0M443.5 450.7h0M448.5 454.1h0M453.7 452.6h0M442.4 447.3h0M478.4 450.7h0M455.0 449.1h0M480.4 449.4h0M457.8 450.7h0M448.9 450.7h0M467.1 454.4h0M458.3 446.7h0M492.9 448.7h0M580.4 466.6h0M440.7 444.0h0M468.7 446.0h0M446.7 451.0h0M537.0 452.9h0M486.3 444.8h0M473.4 450.9h0M455.4 446.1h0M466.7 444.0h0M485.0 450.5h0M443.8 450.0h0M461.5 447.9h0M451.7 453.4h0M446.4 455.4h0M449.4 459.1h0M497.9 450.7h0M584.8 470.4h0M478.2 454.2h0M494.3 451.5h0M455.1 454.8h0M474.1 450.9h0M483.2 452.9h0M502.9 448.9h0M447.4 442.4h0M480.1 449.8h0M452.5 450.0h0M509.2 451.6h0M450.3 450.6h0M443.4 451.6h0M469.7 451.2h0M526.5 455.1h0M442.9 452.1h0M442.2 451.9h0M459.9 447.3h0M537.3 451.7h0M443.5 449.9h0M460.0 443.1h0M493.6 447.2h0M522.5 446.9h0M469.5 450.9h0M589.7 477.3h0M501.5 449.5h0M480.8 450.3h0M473.4 456.2h0M447.2 442.9h0M501.7 452.0h0M502.9 453.2h0M529.8 453.9h0M499.6 452.3h0M504.5 448.2h0M448.1 446.0h0M489.7 447.0h0M459.7 454.4h0M519.3 456.6h0M511.1 443.8h0M444.0 451.6h0M475.8 454.4h0M448.9 447.7h0M478.3 449.5h0M485.6 450.6h0M468.0 449.5h0M443.3 448.6h0M592.0 467.9h0M477.3 449.3h0M461.8 454.2h0M573.6 460.8h0M465.8 450.3h0M448.5 450.6h0M455.5 448.2h0M477.1 443.5h0M465.1 453.2h0M530.6 452.6h0M444.9 445.5h0M468.5 448.7h0M542.6 451.7h0M505.8 451.2h0M454.6 457.2h0M457.4 451.9h0M441.4 451.6h0M522.2 450.0h0M442.3 453.2h0M455.8 455.7h0M543.9 455.5h0M449.0 449.9h0M453.6 451.3h0M443.7 449.9h0M579.8 468.1h0M528.3 455.9h0M443.3 450.2h0M446.9 447.3h0M451.0 447.6h0M460.0 451.1h0M479.4 450.3h0M490.7 450.1h0M451.2 454.7h0M457.2 445.4h0M492.1 449.8h0M466.7 452.4h0M441.7 448.8h0M482.4 445.9h0M468.9 450.6h0M573.1 465.2h0M442.0 447.0h0M525.4 445.4h0M472.1 451.1h0M509.7 458.6h0M461.5 448.3h0M442.6 448.9h0M496.2 448.5h0M442.9 448.7h0M483.7 454.8h0M447.7 452.4h0M455.0 450.2h0M461.2 455.6h0M445.7 453.7h0M472.0 450.4h0M460.5 443.1h0M489.2 452.8h0M594.7 477.5h0M452.9 452.3h0M458.0 450.5h0M443.8 453.2h0M456.7 447.4h0M491.5 457.1h0M574.5 466.3h0M444.7 446.7h0M447.9 446.7h0M467.4 448.9h0M536.8 448.6h0M466.6 458.3h0M541.8 457.1h0M446.5 453.3h0M473.3 453.6h0M461.9 445.6h0M465.2 454.3h0M521.4 452.8h0M449.8 448.5h0M486.4 455.8h0M449.2 450.6h0M440.6 448.6h0M472.7 451.3h0M476.5 456.5h0M461.9 443.7h0M585.4 474.5h0M470.3 449.3h0M451.0 452.1h0M451.2 453.1h0M466.4 449.3h0M519.7 452.0h0M469.3 447.5h0M504.1 454.6h0M466.3 454.6h0M480.4 444.5h0M445.4 455.1h0M461.5 450.7h0M532.8 453.9h0M443.0 454.9h0M558.5 460.2h0M478.1 450.0h0M472.8 449.3h0M446.0 449.4h0M447.9 455.0h0M526.6 457.5h0M463.7 451.0h0M446.4 445.0h0M451.9 454.8h0M449.1 455.0h0M468.8 452.8h0M452.2 452.8h0M469.5 451.8h0M493.4 460.1h0M447.3 450.2h0M555.3 457.2h0M441.2 448.8h0M446.2 453.6h0M448.4 450.4h0M454.9 455.7h0M458.8 448.3h0M473.3 450.0h0M571.5 458.9h0M505.3 444.6h0M452.3 442.6h0M458.7 448.9h0M458.8 444.8h0M484.2 449.8h0M455.5 446.9h0M470.7 450.4h0M445.5 452.2h0M462.0 450.5h0M480.2 449.5h0M446.7 448.8h0M453.2 453.3h0M457.2 454.9h0M457.0 449.9h0M468.1 450.6h0M596.2 474.4h0M452.4 452.7h0M465.7 454.7h0M449.1 452.8h0M454.0 448.9h0M458.0 450.8h0M469.2 447.9h0M460.7 454.6h0M484.5 452.3h0M494.8 446.4h0M466.9 454.3h0M459.1 447.8h0M488.4 449.4h0M478.7 451.9h0M469.3 459.3h0M450.7 447.8h0M496.2 456.8h0M468.4 448.3h0M593.0 485.7h0M476.0 451.3h0M537.1 459.5h0M483.7 452.3h0M448.8 452.0h0M451.6 451.4h0M459.7 449.2h0M459.2 452.7h0M567.3 464.3h0M481.9 455.6h0M448.4 453.7h0M492.4 451.4h0M460.1 447.2h0M484.6 444.4h0M451.9 447.9h0M442.3 445.9h0M480.7 452.2h0M443.4 456.9h0M536.1 449.9h0M469.3 449.2h0M497.4 458.1h0M448.8 448.2h0M491.3 448.4h0M461.2 454.6h0M445.1 450.6h0M450.9 448.3h0M472.7 444.4h0M530.1 458.8h0M485.4 449.8h0M536.8 454.3h0M448.1 450.5h0M440.9 444.5h0M493.8 456.1h0M446.6 445.0h0M464.3 447.9h0M467.6 448.3h0M453.1 455.0h0M489.7 443.4h0M538.4 454.5h0M448.9 447.8h0M457.1 452.2h0M456.1 453.4h0M469.2 454.1h0M473.5 454.3h0M448.9 448.7h0M452.1 450.8h0M461.2 452.0h0M527.4 456.3h0M443.7 450.4h0M516.7 451.9h0M512.8 455.3h0M460.3 444.1h0M512.6 445.5h0M452.5 450.5h0M521.6 449.5h0M490.5 449.8h0M467.8 457.6h0M512.6 449.3h0M449.0 454.2h0M475.5 449.3h0M475.6 448.0h0M504.1 451.7h0M481.7 444.4h0M457.4 455.5h0M470.1 448.6h0M447.7 448.4h0M470.3 452.6h0M554.3 454.5h0M461.0 455.8h0M451.4 453.9h0M445.1 450.9h0M447.1 456.6h0M566.0 455.9h0M489.1 448.5h0M473.7 446.3h0M464.7 453.0h0M481.6 450.6h0M490.4 448.1h0M461.8 451.6h0M452.2 449.7h0M444.1 449.0h0M456.6 452.9h0M555.1 456.6h0M485.0 453.4h0M498.3 449.3h0M460.9 447.6h0M490.6 447.0h0M514.4 454.2h0M496.0 449.1h0M472.4 452.6h0M516.6 451.6h0M457.4 449.7h0M467.4 454.2h0M442.9 447.1h0M448.3 453.1h0M463.0 450.2h0M450.4 454.1h0M457.1 452.1h0M445.1 456.7h0M504.1 449.9h0M442.5 446.4h0M473.4 451.4h0M527.0 452.9h0M477.8 450.6h0M444.8 448.0h0M466.6 453.4h0M560.7 462.8h0M574.6 470.9h0M463.0 450.2h0M464.2 451.9h0M446.0 448.5h0M449.8 447.4h0M473.4 453.4h0M455.4 451.0h0M490.7 447.1h0M453.1 449.7h0M476.4 450.6h0M456.5 454.3h0M465.4 453.0h0M446.8 447.4h0M454.1 455.8h0M450.2 447.1h0M452.5 445.9h0M449.6 446.1h0M500.9 447.0h0M471.4 452.7h0M480.5 451.3h0M510.0 456.4h0M448.7 449.9h0M534.6 454.3h0M493.0 447.2h0M446.7 451.0h0M464.1 450.4h0M486.4 447.1h0M456.9 448.7h0M450.9 446.6h0M505.6 448.3h0M546.7 448.8h0M448.3 451.8h0M453.0 450.8h0M458.6 451.6h0M449.2 453.0h0M602.7 482.9h0M524.3 450.5h0M466.5 453.5h0M461.4 447.4h0M462.5 450.2h0M476.8 458.5h0M448.9 451.5h0M455.9 448.6h0M448.2 450.8h0M459.6 446.4h0M529.9 448.5h0M479.5 451.3h0M449.2 447.5h0M449.1 447.5h0M485.1 444.4h0M505.7 452.8h0M535.1 454.0h0M450.0 452.1h0M457.7 456.7h0M441.1 447.5h0M460.1 447.8h0M468.2 455.1h0M445.9 444.7h0M469.7 448.9h0M444.9 453.5h0M456.5 452.5h0M451.7 450.8h0M445.3 449.7h0M491.6 450.6h0M590.4 480.9h0M479.2 446.8h0M491.5 452.8h0M459.9 447.6h0M449.3 450.7h0M444.5 453.5h0M466.2 446.4h0M451.0 453.9h0M582.7 462.9h0M485.4 446.1h0M449.8 455.0h0M501.1 456.0h0M603.9 482.9h0M509.1 452.9h0M467.2 450.8h0M482.4 447.9h0M466.4 450.6h0M456.6 445.3h0M471.4 454.7h0M451.3 450.4h0M461.0 455.4h0M449.4 450.3h0M443.9 445.7h0M508.5 453.4h0M485.4 447.2h0M590.6 478.1h0M454.4 449.1h0M487.2 446.9h0M505.4 454.2h0M483.0 450.1h0M456.5 446.6h0M470.7 458.8h0M516.8 452.8h0M447.8 445.4h0M471.2 449.6h0M445.2 448.1h0M498.7 455.6h0M447.7 443.7h0M505.5 451.1h0M488.1 445.3h0M484.9 446.6h0M441.2 454.3h0M442.4 445.9h0M442.5 452.1h0M490.4 452.5h0M458.8 451.6h0M463.2 450.3h0M466.5 452.2h0M450.2 453.2h0M586.1 477.3h0M472.6 447.5h0M508.4 450.6h0M442.4 443.4h0M597.2 483.5h0M455.0 452.4h0M459.4 452.3h0M440.7 451.9h0M451.6 453.9h0M444.2 449.3h0M556.0 456.4h0M494.9 450.5h0M447.9 453.7h0M444.4 446.3h0M506.4 449.7h0M510.2 447.1h0M491.6 447.1h0M448.0 453.5h0M489.2 443.9h0M466.8 452.9h0M453.9 444.9h0M461.0 448.1h0M450.1 451.1h0M490.3 451.5h0M452.7 445.2h0M454.9 444.2h0M455.3 449.6h0M486.7 451.3h0M538.8 456.6h0M480.2 447.3h0M443.8 448.5h0M458.2 447.8h0M445.3 448.7h0M495.7 451.0h0M503.2 452.3h0M442.4 453.1h0M451.7 449.8h0M465.2 450.5h0M462.5 454.1h0M463.9 456.6h0M443.3 449.7h0M492.5 446.4h0M480.8 453.7h0M481.3 450.2h0M463.2 449.9h0M479.4 451.5h0M492.1 447.8h0M443.2 452.0h0M442.5 447.9h0M451.2 452.1h0M444.1 453.5h0M467.7 454.0h0M442.7 445.4h0M440.9 449.7h0M468.2 456.2h0M495.1 453.8h0M478.7 453.5h0M447.0 449.5h0M462.7 452.7h0M446.7 448.5h0M452.5 443.0h0M444.5 450.1h0M486.2 450.5h0M454.9 449.4h0M486.6 454.9h0M455.3 447.5h0M529.4 448.0h0M444.7 455.7h0M445.9 447.1h0M510.6 448.8h0M443.5 446.8h0M462.2 453.9h0M514.6 451.6h0M487.4 454.2h0M477.2 447.7h0M514.7 448.0h0M466.5 453.5h0M501.3 452.9h0M443.1 445.4h0M476.9 447.6h0M447.7 447.6h0M442.4 445.4h0M455.2 452.0h0M450.1 443.7h0M467.9 446.3h0M441.4 445.7h0M444.7 452.5h0M452.3 450.7h0M446.0 444.4h0M469.6 453.4h0M443.5 449.6h0M442.3 449.5h0M449.2 443.8h0M524.8 455.5h0M491.7 460.3h0M453.2 448.8h0M455.2 444.7h0M452.7 446.4h0M444.9 451.0h0M483.4 453.7h0M461.4 449.3h0M449.3 446.0h0M456.0 449.8h0M446.3 446.5h0M442.7 453.5h0M461.0 448.1h0M453.2 450.4h0M461.1 455.2h0M463.5 453.2h0M448.0 452.5h0M443.3 444.8h0M593.3 478.8h0M564.7 458.9h0M440.7 447.0h0M555.4 461.9h0M534.9 459.6h0M457.6 447.2h0M574.8 463.4h0M467.9 452.6h0M483.3 447.3h0M450.0 453.2h0M487.6 448.1h0M526.6 454.1h0M442.5 442.3h0M442.1 449.3h0M449.9 449.9h0M448.8 443.3h0M443.4 451.8h0M462.8 446.3h0M456.5 448.2h0M477.8 456.6h0M455.4 456.4h0M443.6 446.8h0M447.1 446.4h0M445.5 453.5h0M448.2 454.0h0M440.8 449.9h0M443.4 454.8h0M488.1 447.5h0M454.4 452.8h0M456.7 450.2h0M464.6 450.5h0M445.8 444.8h0M526.2 453.0h0M566.9 458.4h0M488.3 445.0h0M457.7 449.5h0M448.5 451.3h0M536.0 448.6h0M473.3 446.3h0M461.7 452.5h0M451.2 450.0h0M461.8 456.4h0M463.5 454.9h0M478.3 449.8h0M455.8 451.2h0M449.2 449.7h0M533.3 461.5h0M453.9 449.8h0M442.7 450.1h0M472.3 452.0h0M460.5 456.0h0M449.7 456.3h0M471.8 443.6h0M498.7 445.6h0M512.2 450.6h0M546.5 454.7h0M460.7 447.3h0M454.6 453.7h0M474.9 450.5h0M446.0 448.2h0M464.6 449.9h0M454.1 450.6h0M480.1 451.8h0M477.1 450.9h0M498.5 451.7h0M527.2 451.0h0M455.9 453.4h0M493.0 447.9h0M478.3 451.3h0M444.7 455.1h0M469.0 446.2h0M456.8 449.5h0M462.8 450.1h0M555.6 452.6h0M447.3 452.6h0M443.3 449.0h0M455.6 449.2h0M515.7 451.0h0M526.4 457.4h0M506.8 453.7h0M494.9 453.0h0M479.5 444.3h0M444.6 445.9h0M495.4 449.6h0M458.6 451.2h0M494.3 455.2h0M481.4 449.3h0M475.5 449.3h0M441.9 450.7h0M458.2 451.6h0M444.7 453.8h0M450.1 447.9h0M451.1 456.7h0M440.7 450.4h0M455.3 448.0h0M523.5 450.0h0M557.4 459.8h0M445.1 449.3h0M523.8 447.7h0M462.1 450.7h0M499.0 451.5h0M446.5 449.6h0M462.5 444.2h0M513.4 453.0h0M472.3 453.4h0M450.7 454.1h0M451.0 450.3h0M443.3 452.7h0M560.1 460.5h0M466.7 448.8h0M574.0 460.0h0M488.0 452.3h0M450.7 444.5h0M526.0 454.1h0M447.6 452.1h0M543.7 452.8h0M459.7 443.4h0M444.7 454.1h0M443.3 447.0h0M478.8 449.7h0M521.6 456.0h0M549.9 458.4h0M546.0 452.7h0M490.8 448.8h0M480.7 450.0h0M479.6 453.8h0M452.0 445.6h0M527.7 452.3h0M477.4 449.9h0M445.7 452.7h0M533.6 456.5h0M447.2 453.0h0M453.5 450.7h0M484.6 449.9h0M441.9 459.6h0M520.2 443.6h0M504.2 449.0h0M502.0 449.8h0M510.9 454.6h0M589.6 473.7h0M456.8 454.6h0M460.0 447.8h0M459.3 449.3h0M471.3 449.4h0M452.4 452.0h0M445.6 456.5h0M480.9 452.9h0M455.1 446.5h0M482.0 450.8h0M515.6 447.7h0M447.9 448.0h0M536.2 452.8h0M473.9 451.3h0M447.6 452.2h0M504.8 452.7h0M462.3 451.9h0M486.2 443.4h0M453.3 449.3h0M460.7 451.4h0M468.8 447.9h0M486.6 453.9h0M463.1 456.4h0M443.4 453.5h0M442.5 454.1h0M460.1 447.0h0M565.7 461.1h0M597.7 485.8h0M469.0 450.2h0M501.4 454.3h0M454.6 455.2h0M446.0 445.5h0M490.3 451.3h0M476.4 449.9h0M481.0 442.1h0M556.6 464.6h0M442.5 451.2h0M524.5 452.7h0M456.1 449.4h0M507.3 454.9h0M500.1 455.2h0M446.6 455.1h0M441.2 452.9h0M528.9 454.7h0M520.8 457.5h0M445.0 457.4h0M474.4 451.5h0M471.4 449.8h0M460.1 446.5h0M443.8 449.5h0M444.6 447.1h0M458.8 452.0h0M447.0 451.8h0M459.0 452.3h0M457.4 448.5h0M469.1 450.5h0M461.2 452.1h0M456.3 450.9h0M453.7 451.9h0M446.3 453.7h0M452.3 446.1h0M512.0 450.6h0M442.3 456.7h0M441.8 452.6h0M592.1 475.7h0M450.8 447.8h0M448.4 449.5h0M501.8 447.8h0M507.0 457.5h0M449.4 446.2h0M467.6 455.1h0M462.3 445.6h0M441.8 454.0h0M443.2 453.4h0M447.9 447.7h0M462.4 442.2h0M442.2 446.0h0M554.8 459.1h0M551.6 453.6h0M453.8 450.7h0M495.7 448.2h0M496.7 444.2h0M453.7 453.7h0M571.4 450.2h0M517.4 450.4h0M444.5 446.9h0M507.4 453.0h0M461.4 451.4h0M460.1 450.5h0M469.9 448.0h0M459.6 448.0h0M449.9 452.9h0M491.1 452.1h0M476.9 448.9h0M593.8 479.6h0M450.3 451.7h0M452.1 448.5h0M458.1 452.1h0M501.4 452.8h0M447.6 455.6h0M455.6 448.1h0M494.7 446.3h0M447.2 454.4h0M516.2 451.0h0M590.9 474.6h0M470.3 447.0h0M548.5 458.8h0M453.1 450.5h0M450.0 450.2h0M470.9 443.5h0M460.2 448.4h0M452.5 449.7h0M469.0 450.7h0M456.0 455.2h0M507.9 453.0h0M450.1 449.8h0M465.2 449.4h0M457.0 450.9h0M507.2 447.8h0M545.3 461.1h0M443.4 455.2h0M465.2 443.8h0M458.0 447.6h0M471.8 447.6h0M584.6 474.3h0M507.8 453.4h0M464.7 452.4h0M473.8 451.4h0M463.0 448.9h0M458.6 445.2h0M491.1 455.5h0M559.3 459.4h0M441.8 452.3h0M442.9 450.7h0M468.9 456.0h0M449.7 446.3h0M532.5 454.4h0M453.2 451.0h0M584.7 463.4h0M442.7 447.0h0M497.9 451.3h0M561.8 461.1h0M583.2 470.2h0M453.5 449.2h0M503.2 452.5h0M444.9 443.9h0M501.6 449.1h0M440.9 450.3h0M440.7 449.1h0M463.9 442.6h0M441.6 453.8h0M492.6 449.7h0M462.0 449.7h0M488.9 453.2h0M456.7 455.4h0M451.3 451.9h0M466.4 448.6h0M459.5 454.5h0M562.9 455.9h0M450.3 453.3h0M447.1 451.8h0M478.7 451.9h0M443.2 454.0h0M449.8 453.9h0M447.6 451.8h0M532.8 446.2h0M465.7 457.5h0M441.9 451.1h0M470.9 452.9h0M463.5 447.3h0M506.0 454.4h0M467.3 446.5h0M446.9 450.4h0M495.2 449.4h0M445.1 452.2h0M472.1 443.4h0M451.5 449.6h0M441.8 451.7h0M525.5 449.9h0M465.4 451.2h0M449.8 448.4h0M448.6 447.5h0M447.7 448.9h0M452.0 449.6h0M452.1 448.7h0M467.4 452.5h0M448.1 445.2h0M493.3 449.0h0M444.9 452.0h0M496.9 446.2h0M459.9 452.8h0M518.2 454.8h0M472.4 453.5h0M461.4 449.0h0M442.3 449.3h0M498.8 451.0h0M514.6 448.9h0M458.2 453.3h0M490.5 451.5h0M466.8 455.3h0M459.8 452.0h0M517.3 459.2h0M442.5 449.7h0M443.9 453.6h0M442.1 445.6h0M446.2 449.4h0M600.4 487.0h0M475.6 448.4h0M444.9 451.8h0M464.5 445.3h0M446.5 449.0h0M451.3 453.8h0M441.4 451.4h0M458.7 451.6h0M466.6 443.1h0M473.2 452.9h0M578.0 461.4h0M490.6 445.8h0M474.9 452.4h0M450.3 453.9h0M567.7 466.5h0M529.0 454.5h0M456.2 453.3h0M485.4 449.3h0M481.3 449.8h0M486.3 451.9h0M507.4 450.8h0M493.4 450.6h0M460.3 447.0h0M507.5 443.8h0M578.4 464.2h0M440.8 450.9h0M441.7 450.4h0M457.4 459.8h0M450.5 448.4h0M464.0 447.5h0M446.0 452.6h0M512.7 456.5h0M461.0 451.9h0M459.9 447.7h0M456.8 448.9h0M447.4 456.1h0M459.9 448.1h0M470.3 447.5h0M450.5 457.5h0M452.1 449.7h0M482.9 447.5h0M440.9 444.1h0M449.5 453.4h0M558.2 465.5h0M446.1 447.4h0M510.2 455.7h0M450.6 451.9h0M450.0 442.5h0M451.5 453.5h0M456.2 447.7h0M445.3 450.1h0M457.9 454.2h0M461.7 451.2h0M450.8 448.5h0M502.8 450.6h0M466.9 452.1h0M481.2 453.8h0M442.2 453.6h0M478.6 457.8h0M570.6 458.0h0M451.7 451.7h0M504.0 449.4h0M466.8 448.6h0M442.0 452.0h0M469.4 452.3h0M589.7 471.3h0M467.0 447.6h0M456.1 457.9h0M490.8 450.1h0M446.1 447.9h0M469.2 455.9h0M450.3 447.2h0M475.9 448.9h0M474.6 448.6h0M464.6 443.0h0M462.1 446.3h0M543.5 453.5h0M467.1 447.9h0M494.7 455.1h0M494.1 453.8h0M460.0 456.2h0M491.9 451.0h0M452.3 452.1h0M512.5 452.1h0M453.4 445.4h0M483.4 453.9h0M444.6 449.0h0M479.2 448.5h0M501.2 450.2h0M459.7 453.0h0M445.9 446.2h0M507.4 452.1h0M453.1 449.2h0M447.0 445.2h0M517.5 453.5h0M488.8 453.7h0M533.3 458.8h0M538.8 450.3h0M604.6 480.9h0M441.8 451.9h0M509.3 456.0h0M470.6 446.5h0M445.7 444.2h0M448.5 456.1h0M539.1 456.0h0M511.9 451.4h0M477.3 451.9h0M589.1 467.9h0M552.1 452.5h0M457.3 455.1h0M444.5 446.2h0M472.5 444.6h0M487.8 453.9h0M595.3 485.0h0M473.3 449.5h0M460.8 448.3h0M441.2 446.5h0M445.2 446.9h0M455.6 452.6h0M526.2 451.8h0M561.8 454.5h0M548.3 455.1h0M441.2 450.1h0M497.0 448.2h0M532.2 460.8h0M462.5 452.5h0M478.6 442.8h0M490.0 450.4h0M467.5 447.4h0M451.4 450.8h0M460.1 448.3h0M488.1 448.6h0M461.1 450.7h0M474.1 452.2h0M463.7 456.4h0M493.0 448.0h0M462.4 448.0h0M443.9 444.1h0M469.1 449.3h0M501.6 452.8h0M448.6 456.1h0M450.4 454.6h0M474.6 451.7h0M454.1 448.9h0M485.0 447.4h0M509.6 452.4h0M549.9 454.7h0M449.4 449.7h0M476.6 450.6h0M528.3 449.8h0M474.4 454.1h0M444.1 447.8h0M479.8 454.7h0M468.5 449.2h0M516.0 454.2h0M451.8 445.5h0M480.5 458.6h0M441.8 454.1h0M483.0 454.7h0M454.8 452.2h0M457.4 451.3h0M518.6 458.1h0M492.2 443.2h0M445.0 449.2h0M445.1 451.3h0M459.3 451.9h0M527.4 454.3h0M451.1 452.4h0M466.9 456.8h0M475.6 455.0h0M516.5 453.1h0M480.7 455.3h0M447.6 447.4h0M447.2 451.2h0M538.2 461.5h0M459.7 445.0h0M469.0 448.8h0M520.0 453.6h0M541.2 460.1h0M485.2 450.9h0M446.8 453.7h0M507.4 450.0h0M442.8 444.4h0M442.7 448.0h0M587.3 474.1h0M506.7 451.5h0M453.2 451.6h0M464.6 453.5h0M583.7 474.1h0M459.0 449.0h0M512.0 449.2h0M444.3 447.1h0M606.0 482.5h0M608.5 486.0h0M611.0 487.2h0M613.0 491.4h0M616.0 494.0h0M620.4 497.7h0M623.6 503.0h0M626.8 508.3h0M631.4 509.4h0M637.8 518.9h0M644.1 530.5h0M649.0 528.9h0M653.3 544.3h0M658.5 554.9h0M663.8 557.0h0M668.7 561.2h0" stroke="#8c8c8c" stroke-width="2.6" stroke-linecap="round" fill="none"/>
<polyline points="440.8,390.57 441.8,390.08 442.8,389.59 443.8,389.09 444.8,388.60 445.8,388.10 446.8,387.60 447.8,387.09 448.8,386.58 449.8,386.07 450.8,385.56 451.8,385.05 452.8,384.53 453.8,384.01 454.8,383.49 455.8,382.97 456.8,382.44 457.8,381.91 458.8,381.39 459.8,380.86 460.8,380.32 461.8,379.79 462.8,379.26 463.8,378.72 464.8,378.18 465.8,377.64 466.8,377.10 467.8,376.56 468.8,376.02 469.8,375.47 470.8,374.93 471.8,374.38 472.8,373.83 473.8,373.29 474.8,372.74 475.8,372.19 476.8,371.64 477.8,371.08 478.8,370.53 479.8,369.98 480.8,369.43 481.8,368.87 482.8,368.32 483.8,367.76 484.8,367.20 485.8,366.65 486.8,366.09 487.8,365.53 488.8,364.98 489.8,364.42 490.8,363.86 491.8,363.30 492.8,362.74 493.8,362.18 494.8,361.62 495.8,361.06 496.8,360.50 497.8,359.94 498.8,359.38 499.8,358.82 500.8,358.26 501.8,357.70 502.8,357.14 503.8,356.58 504.8,356.02 505.8,355.46 506.8,354.91 507.8,354.35 508.8,353.79 509.8,353.23 510.8,352.67 511.8,352.11 512.8,351.55 513.8,351.00 514.8,350.44 515.8,349.88 516.8,349.33 517.8,348.77 518.8,348.22 519.8,347.66 520.8,347.11 521.8,346.56 522.8,346.01 523.8,345.46 524.8,344.91 525.8,344.36 526.8,343.81 527.8,343.26 528.8,342.71 529.8,342.17 530.8,341.62 531.8,341.08 532.8,340.54 533.8,340.00 534.8,339.46 535.8,338.92 536.8,338.38 537.8,337.84 538.8,337.31 539.8,336.78 540.8,336.25 541.8,335.72 542.8,335.19 543.8,334.67 544.8,334.14 545.8,333.62 546.8,333.10 547.8,332.58 548.8,332.07 549.8,331.55 550.8,331.04 551.8,330.53 552.8,330.03 553.8,329.52 554.8,329.02 555.8,328.53 556.8,328.03 557.8,327.54 558.8,327.05 559.8,326.56 560.8,326.08 561.8,325.60 562.8,325.12 563.8,324.65 564.8,324.18 565.8,323.71 566.8,323.25 567.8,322.79 568.8,322.33 569.8,321.88 570.8,321.44 571.8,320.99 572.8,320.55 573.8,320.12 574.8,319.69 575.8,319.26 576.8,318.84 577.8,318.43 578.8,318.01 579.8,317.61 580.8,317.21 581.8,316.81 582.8,316.42 583.8,316.03 584.8,315.65 585.8,315.27 586.8,314.90 587.8,314.54 588.8,314.18 589.8,313.82 590.8,313.47 591.8,313.13 592.8,312.79 593.8,312.46 594.8,312.13 595.8,311.81 596.8,311.50 597.8,311.19 598.8,310.89 599.8,310.59 600.8,310.30 601.8,310.01 602.8,309.73 603.8,309.46 604.8,309.19 605.8,308.93 606.8,308.67 607.8,308.42 608.8,308.18 609.8,307.94 610.8,307.70 611.8,307.47 612.8,307.25 613.8,307.03 614.8,306.82 615.8,306.62 616.8,306.42 617.8,306.22 618.8,306.03 619.8,305.84 620.8,305.66 621.8,305.49 622.8,305.32 623.8,305.15 624.8,304.99 625.8,304.84 626.8,304.68 627.8,304.54 628.8,304.39 629.8,304.25 630.8,304.12 631.8,303.99 632.8,303.86 633.8,303.74 634.8,303.62 635.8,303.51 636.8,303.40 637.8,303.29 638.8,303.19 639.8,303.09 640.8,302.99 641.8,302.89 642.8,302.80 643.8,302.72 644.8,302.63 645.8,302.55 646.8,302.47 647.8,302.39 648.8,302.32 649.8,302.25 650.8,302.18 651.8,302.11 652.8,302.05 653.8,301.99 654.8,301.93 655.8,301.87 656.8,301.81 657.8,301.76 658.8,301.71 659.8,301.66 660.8,301.61 661.8,301.56 662.8,301.52 663.8,301.48 664.8,301.44 665.8,301.40 666.8,301.36 667.8,301.32 668.8,301.29 669.8,301.25 670.8,301.22 671.8,301.19 672.8,301.16 673.8,301.13 674.8,301.10" fill="none" stroke="#111" stroke-width="1.7" stroke-dasharray="2.5,1.6"/>
<polyline points="440.8,450.08 441.8,450.08 442.8,450.08 443.8,450.09 444.8,450.09 445.8,450.09 446.8,450.10 447.8,450.10 448.8,450.11 449.8,450.11 450.8,450.12 451.8,450.12 452.8,450.12 453.8,450.13 454.8,450.14 455.8,450.14 456.8,450.15 457.8,450.15 458.8,450.16 459.8,450.17 460.8,450.17 461.8,450.18 462.8,450.19 463.8,450.19 464.8,450.20 465.8,450.21 466.8,450.22 467.8,450.23 468.8,450.24 469.8,450.25 470.8,450.26 471.8,450.27 472.8,450.28 473.8,450.29 474.8,450.30 475.8,450.32 476.8,450.33 477.8,450.34 478.8,450.36 479.8,450.37 480.8,450.39 481.8,450.40 482.8,450.42 483.8,450.43 484.8,450.45 485.8,450.47 486.8,450.49 487.8,450.51 488.8,450.53 489.8,450.55 490.8,450.58 491.8,450.60 492.8,450.62 493.8,450.65 494.8,450.68 495.8,450.70 496.8,450.73 497.8,450.76 498.8,450.79 499.8,450.82 500.8,450.86 501.8,450.89 502.8,450.93 503.8,450.97 504.8,451.01 505.8,451.05 506.8,451.09 507.8,451.14 508.8,451.18 509.8,451.23 510.8,451.28 511.8,451.33 512.8,451.39 513.8,451.44 514.8,451.50 515.8,451.56 516.8,451.62 517.8,451.69 518.8,451.76 519.8,451.83 520.8,451.90 521.8,451.98 522.8,452.06 523.8,452.14 524.8,452.23 525.8,452.32 526.8,452.41 527.8,452.51 528.8,452.61 529.8,452.71 530.8,452.82 531.8,452.93 532.8,453.05 533.8,453.17 534.8,453.30 535.8,453.43 536.8,453.56 537.8,453.71 538.8,453.85 539.8,454.00 540.8,454.16 541.8,454.33 542.8,454.50 543.8,454.67 544.8,454.86 545.8,455.05 546.8,455.24 547.8,455.45 548.8,455.66 549.8,455.88 550.8,456.10 551.8,456.34 552.8,456.58 553.8,456.84 554.8,457.10 555.8,457.37 556.8,457.65 557.8,457.94 558.8,458.24 559.8,458.55 560.8,458.87 561.8,459.21 562.8,459.55 563.8,459.90 564.8,460.27 565.8,460.65 566.8,461.04 567.8,461.45 568.8,461.87 569.8,462.30 570.8,462.74 571.8,463.20 572.8,463.67 573.8,464.16 574.8,464.66 575.8,465.18 576.8,465.72 577.8,466.26 578.8,466.83 579.8,467.41 580.8,468.01 581.8,468.62 582.8,469.26 583.8,469.91 584.8,470.57 585.8,471.26 586.8,471.96 587.8,472.68 588.8,473.42 589.8,474.18 590.8,474.96 591.8,475.75 592.8,476.57 593.8,477.40 594.8,478.26 595.8,479.13 596.8,480.02 597.8,480.94 598.8,481.87 599.8,482.82 600.8,483.79 601.8,484.78 602.8,485.79 603.8,486.82 604.8,487.87 605.8,488.94 606.8,490.03 607.8,491.14 608.8,492.27 609.8,493.41 610.8,494.58 611.8,495.77 612.8,496.97 613.8,498.19 614.8,499.43 615.8,500.69 616.8,501.97 617.8,503.26 618.8,504.57 619.8,505.90 620.8,507.25 621.8,508.61 622.8,509.99 623.8,511.39 624.8,512.80 625.8,514.23 626.8,515.67 627.8,517.13 628.8,518.60 629.8,520.09 630.8,521.59 631.8,523.10 632.8,524.63 633.8,526.17 634.8,527.73 635.8,529.30 636.8,530.88 637.8,532.47 638.8,534.07 639.8,535.69 640.8,537.31 641.8,538.95 642.8,540.60 643.8,542.26 644.8,543.92 645.8,545.60 646.8,547.29 647.8,548.99 648.8,550.69 649.8,552.40 650.8,554.13 651.8,555.86 652.8,557.60 653.8,559.34 654.8,561.10" fill="none" stroke="#111" stroke-width="1.7" stroke-dasharray="1.7,1.7"/>
<text x="-0.5" y="666.2" font-size="21" font-weight="bold" stroke="#000" stroke-width="0.45">d</text>
<text x="118.2" y="671.8" font-size="18.2" text-anchor="start" >EMSA validation</text>
<path d="M68.3,682.6 V918 H302.9" fill="none" stroke="#777" stroke-width="1.2"/>
<line x1="68.3" y1="722.2" x2="74.2" y2="722.2" stroke="#777" stroke-width="1.2"/>
<line x1="68.3" y1="797.6" x2="74.2" y2="797.6" stroke="#777" stroke-width="1.2"/>
<line x1="68.3" y1="873.1" x2="74.2" y2="873.1" stroke="#777" stroke-width="1.2"/>
<line x1="108.2" y1="918" x2="108.2" y2="913" stroke="#777" stroke-width="1.2"/>
<line x1="187.1" y1="918" x2="187.1" y2="913" stroke="#777" stroke-width="1.2"/>
<line x1="267.2" y1="918" x2="267.2" y2="913" stroke="#777" stroke-width="1.2"/>
<text x="58.8" y="728.8" font-size="18" text-anchor="end">10<tspan font-size="12.5" dy="-7.8">3</tspan></text>
<text x="58.8" y="804.3" font-size="18" text-anchor="end">10<tspan font-size="12.5" dy="-7.8">2</tspan></text>
<text x="58.8" y="879.8" font-size="18" text-anchor="end">10<tspan font-size="12.5" dy="-7.8">1</tspan></text>
<text x="94.0" y="945.0" font-size="18" text-anchor="start">10<tspan font-size="12.5" dy="-7.8">1</tspan></text>
<text x="172.9" y="945.0" font-size="18" text-anchor="start">10<tspan font-size="12.5" dy="-7.8">2</tspan></text>
<text x="253.0" y="945.0" font-size="18" text-anchor="start">10<tspan font-size="12.5" dy="-7.8">3</tspan></text>
<text x="113.3" y="972.2" font-size="18">Predicted <tspan font-style="italic">K</tspan><tspan font-size="12.5" dy="4">D</tspan><tspan dy="-4"> (nM)</tspan></text>
<text transform="translate(15.8,799.5) rotate(-90)" font-size="18" text-anchor="middle">EMSA <tspan font-style="italic">K</tspan><tspan font-size="12.5" dy="4">D</tspan><tspan dy="-4"> (nM)</tspan></text>
<line x1="71.9" y1="905.8" x2="301.8" y2="690.3" stroke="#111" stroke-width="1.4" stroke-dasharray="5,3"/>
<circle cx="76.1" cy="893" r="3.7" fill="#000"/>
<circle cx="151.2" cy="826.7" r="3.7" fill="#000"/>
<circle cx="175" cy="800.4" r="3.7" fill="#000"/>
<circle cx="294.7" cy="691.2" r="3.7" fill="#000"/>
<text x="190.7" y="703.7" font-size="15.6" textLength="87.2" lengthAdjust="spacingAndGlyphs">TTTA<tspan fill="#e8391e">T</tspan>TTGGT</text>
<text x="79" y="791.3" font-size="15.6" textLength="87.6" lengthAdjust="spacingAndGlyphs">TTT<tspan fill="#e8391e">G</tspan>ATTGGT</text>
<text x="159.3" y="843.5" font-size="15.6" textLength="88.7" lengthAdjust="spacingAndGlyphs">TTTAAT<tspan fill="#e8391e">G</tspan>GGT</text>
<text x="87.4" y="908.3" font-size="15.6" textLength="85.7" lengthAdjust="spacingAndGlyphs">TTTAATTGGT</text>
<text x="374" y="667.1" font-size="21" font-weight="bold" stroke="#000" stroke-width="0.45">e</text>
<text x="478" y="671.2" font-size="18"><tspan font-style="italic">K</tspan><tspan font-size="12.5" dy="4">D</tspan></text>
<text x="497.4" y="671.2" font-size="18">(</text>
<text x="505.8" y="671.2" font-size="18" textLength="110" lengthAdjust="spacingAndGlyphs">TTTAATTGGT</text>
<text x="617.6" y="671.2" font-size="18">) (nM)</text>
<rect x="451.20" y="681.60" width="58.55" height="77.60" fill="#fe0000"/>
<text x="480.32" y="726.55" font-size="18" text-anchor="middle">3.9</text>
<rect x="509.45" y="681.60" width="58.55" height="77.60" fill="#fc200c"/>
<text x="538.58" y="726.55" font-size="18" text-anchor="middle">4.8</text>
<rect x="567.70" y="681.60" width="58.55" height="77.60" fill="#ff7050"/>
<text x="594.53" y="726.55" font-size="18" text-anchor="middle">14.0</text>
<rect x="625.95" y="681.60" width="58.55" height="77.60" fill="#ff7452"/>
<text x="653.88" y="726.55" font-size="18" text-anchor="middle">15.0</text>
<rect x="451.20" y="758.90" width="58.55" height="77.60" fill="#fe0000"/>
<text x="480.32" y="803.85" font-size="18" text-anchor="middle">4.0</text>
<rect x="509.45" y="758.90" width="58.55" height="77.60" fill="#ff3018"/>
<text x="538.58" y="803.85" font-size="18" text-anchor="middle">6.2</text>
<rect x="567.70" y="758.90" width="58.55" height="77.60" fill="#ff5a3a"/>
<text x="594.53" y="803.85" font-size="18" text-anchor="middle">10.2</text>
<rect x="625.95" y="758.90" width="58.55" height="77.60" fill="#ff8c68"/>
<text x="653.88" y="803.85" font-size="18" text-anchor="middle">18.8</text>
<rect x="451.20" y="836.20" width="58.55" height="77.60" fill="#f3f2dc"/>
<text x="480.32" y="881.15" font-size="18" text-anchor="middle">34.6</text>
<rect x="509.45" y="836.20" width="58.55" height="77.60" fill="#ff7050"/>
<text x="537.58" y="881.15" font-size="18" text-anchor="middle">13.2</text>
<rect x="567.70" y="836.20" width="58.55" height="77.60" fill="#ff7354"/>
<text x="594.53" y="881.15" font-size="18" text-anchor="middle">14.2</text>
<rect x="625.95" y="836.20" width="58.55" height="77.60" fill="#ffad8a"/>
<text x="653.38" y="881.15" font-size="18" text-anchor="middle">23.8</text>
<rect x="451.2" y="681.6" width="233.0" height="231.89999999999998" fill="none" stroke="#2a2a2a" stroke-width="0.9"/>
<line x1="445.2" y1="720.25" x2="451.2" y2="720.25" stroke="#777" stroke-width="1.2"/>
<line x1="445.2" y1="797.55" x2="451.2" y2="797.55" stroke="#777" stroke-width="1.2"/>
<line x1="445.2" y1="874.85" x2="451.2" y2="874.85" stroke="#777" stroke-width="1.2"/>
<line x1="480.32" y1="913.5" x2="480.32" y2="920.7" stroke="#777" stroke-width="1.2"/>
<line x1="538.58" y1="913.5" x2="538.58" y2="920.7" stroke="#777" stroke-width="1.2"/>
<line x1="596.83" y1="913.5" x2="596.83" y2="920.7" stroke="#777" stroke-width="1.2"/>
<line x1="655.08" y1="913.5" x2="655.08" y2="920.7" stroke="#777" stroke-width="1.2"/>
<text x="438.5" y="727" font-size="18" text-anchor="end" >20</text>
<text x="438.5" y="804.9" font-size="18" text-anchor="end" >100</text>
<text x="438.5" y="881.6" font-size="18" text-anchor="end" >500</text>
<text x="480.3" y="943.7" font-size="18" text-anchor="middle" >100</text>
<text x="537.8" y="943.7" font-size="18" text-anchor="middle" >330</text>
<text x="596.2" y="943.7" font-size="18" text-anchor="middle" >1,000</text>
<text x="655.7" y="943.7" font-size="18" text-anchor="middle" >3,300</text>
<text x="568.2" y="973.6" font-size="18" text-anchor="middle" >(DII) (nM)</text>
<text transform="translate(392,798.5) rotate(-90)" font-size="18" text-anchor="middle">(DNA) (nM)</text>
</svg></body></html>
